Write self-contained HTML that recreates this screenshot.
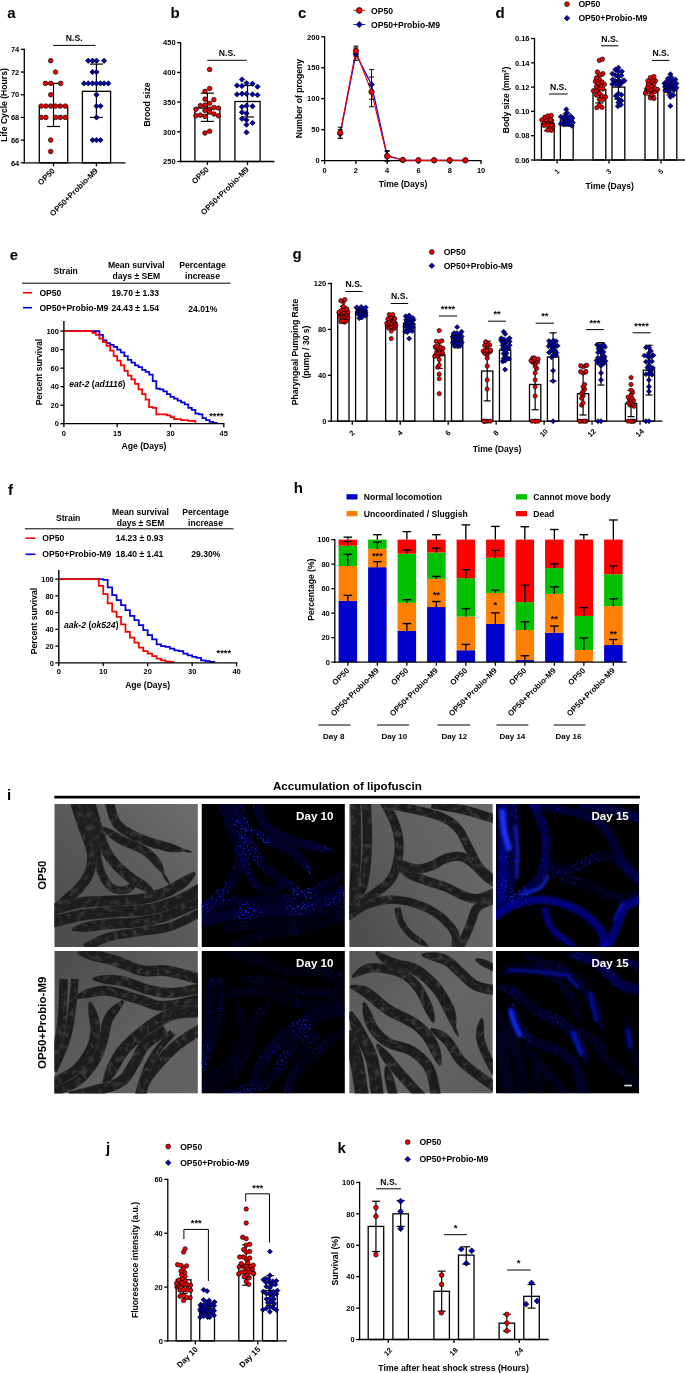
<!DOCTYPE html>
<html><head><meta charset="utf-8"><title>Figure</title>
<style>html,body{margin:0;padding:0;background:#fff}svg{display:block;will-change:transform}</style></head>
<body>
<svg width="685" height="1373" viewBox="0 0 685 1373" font-family="Liberation Sans, Arial, sans-serif" font-weight="bold">
<text x="7.30" y="18.20" font-size="15" text-anchor="start" fill="#000">a</text>
<rect x="39.30" y="106.08" width="28.40" height="56.73" fill="none" stroke="#000" stroke-width="1.3"/>
<rect x="82.40" y="91.33" width="28.20" height="71.47" fill="none" stroke="#000" stroke-width="1.3"/>
<line x1="53.50" y1="126.50" x2="53.50" y2="83.39" stroke="#000" stroke-width="1.2" stroke-linecap="butt"/>
<line x1="47.00" y1="126.50" x2="60.00" y2="126.50" stroke="#000" stroke-width="1.2" stroke-linecap="butt"/>
<line x1="47.00" y1="83.39" x2="60.00" y2="83.39" stroke="#000" stroke-width="1.2" stroke-linecap="butt"/>
<line x1="96.40" y1="117.42" x2="96.40" y2="64.10" stroke="#000" stroke-width="1.2" stroke-linecap="butt"/>
<line x1="89.90" y1="117.42" x2="102.90" y2="117.42" stroke="#000" stroke-width="1.2" stroke-linecap="butt"/>
<line x1="89.90" y1="64.10" x2="102.90" y2="64.10" stroke="#000" stroke-width="1.2" stroke-linecap="butt"/>
<line x1="24.30" y1="48.70" x2="24.30" y2="163.45" stroke="#000" stroke-width="1.3" stroke-linecap="butt"/>
<line x1="20.80" y1="162.80" x2="24.30" y2="162.80" stroke="#000" stroke-width="1.3" stroke-linecap="butt"/>
<text x="19.30" y="165.50" font-size="7.5" text-anchor="end" fill="#000">64</text>
<line x1="20.80" y1="140.11" x2="24.30" y2="140.11" stroke="#000" stroke-width="1.3" stroke-linecap="butt"/>
<text x="19.30" y="142.81" font-size="7.5" text-anchor="end" fill="#000">66</text>
<line x1="20.80" y1="117.42" x2="24.30" y2="117.42" stroke="#000" stroke-width="1.3" stroke-linecap="butt"/>
<text x="19.30" y="120.12" font-size="7.5" text-anchor="end" fill="#000">68</text>
<line x1="20.80" y1="94.73" x2="24.30" y2="94.73" stroke="#000" stroke-width="1.3" stroke-linecap="butt"/>
<text x="19.30" y="97.43" font-size="7.5" text-anchor="end" fill="#000">70</text>
<line x1="20.80" y1="72.04" x2="24.30" y2="72.04" stroke="#000" stroke-width="1.3" stroke-linecap="butt"/>
<text x="19.30" y="74.74" font-size="7.5" text-anchor="end" fill="#000">72</text>
<line x1="20.80" y1="49.35" x2="24.30" y2="49.35" stroke="#000" stroke-width="1.3" stroke-linecap="butt"/>
<text x="19.30" y="52.05" font-size="7.5" text-anchor="end" fill="#000">74</text>
<line x1="23.65" y1="162.80" x2="125.60" y2="162.80" stroke="#000" stroke-width="1.3" stroke-linecap="butt"/>
<line x1="53.50" y1="162.80" x2="53.50" y2="166.30" stroke="#000" stroke-width="1.3" stroke-linecap="butt"/>
<line x1="96.40" y1="162.80" x2="96.40" y2="166.30" stroke="#000" stroke-width="1.3" stroke-linecap="butt"/>
<circle cx="50.70" cy="60.69" r="2.3" fill="#f00000" stroke="#000" stroke-width="0.7"/>
<circle cx="55.60" cy="72.04" r="2.3" fill="#f00000" stroke="#000" stroke-width="0.7"/>
<circle cx="45.50" cy="83.39" r="2.3" fill="#f00000" stroke="#000" stroke-width="0.7"/>
<circle cx="50.70" cy="83.39" r="2.3" fill="#f00000" stroke="#000" stroke-width="0.7"/>
<circle cx="60.70" cy="83.39" r="2.3" fill="#f00000" stroke="#000" stroke-width="0.7"/>
<circle cx="50.70" cy="94.73" r="2.3" fill="#f00000" stroke="#000" stroke-width="0.7"/>
<circle cx="41.20" cy="106.08" r="2.3" fill="#f00000" stroke="#000" stroke-width="0.7"/>
<circle cx="45.90" cy="106.08" r="2.3" fill="#f00000" stroke="#000" stroke-width="0.7"/>
<circle cx="50.70" cy="106.08" r="2.3" fill="#f00000" stroke="#000" stroke-width="0.7"/>
<circle cx="55.60" cy="106.08" r="2.3" fill="#f00000" stroke="#000" stroke-width="0.7"/>
<circle cx="60.30" cy="106.08" r="2.3" fill="#f00000" stroke="#000" stroke-width="0.7"/>
<circle cx="65.30" cy="106.08" r="2.3" fill="#f00000" stroke="#000" stroke-width="0.7"/>
<circle cx="41.20" cy="117.42" r="2.3" fill="#f00000" stroke="#000" stroke-width="0.7"/>
<circle cx="45.90" cy="117.42" r="2.3" fill="#f00000" stroke="#000" stroke-width="0.7"/>
<circle cx="55.60" cy="117.42" r="2.3" fill="#f00000" stroke="#000" stroke-width="0.7"/>
<circle cx="60.30" cy="117.42" r="2.3" fill="#f00000" stroke="#000" stroke-width="0.7"/>
<circle cx="65.30" cy="117.42" r="2.3" fill="#f00000" stroke="#000" stroke-width="0.7"/>
<circle cx="50.70" cy="140.11" r="2.3" fill="#f00000" stroke="#000" stroke-width="0.7"/>
<circle cx="50.70" cy="151.46" r="2.3" fill="#f00000" stroke="#000" stroke-width="0.7"/>
<path d="M88.25 57.99L90.95 60.69L88.25 63.39L85.55 60.69Z" fill="#0000b4" stroke="#000" stroke-width="0.7"/>
<path d="M92.50 57.99L95.20 60.69L92.50 63.39L89.80 60.69Z" fill="#0000b4" stroke="#000" stroke-width="0.7"/>
<path d="M96.50 57.99L99.20 60.69L96.50 63.39L93.80 60.69Z" fill="#0000b4" stroke="#000" stroke-width="0.7"/>
<path d="M104.10 57.99L106.80 60.69L104.10 63.39L101.40 60.69Z" fill="#0000b4" stroke="#000" stroke-width="0.7"/>
<path d="M92.50 69.34L95.20 72.04L92.50 74.74L89.80 72.04Z" fill="#0000b4" stroke="#000" stroke-width="0.7"/>
<path d="M96.50 69.34L99.20 72.04L96.50 74.74L93.80 72.04Z" fill="#0000b4" stroke="#000" stroke-width="0.7"/>
<path d="M84.00 80.69L86.70 83.39L84.00 86.09L81.30 83.39Z" fill="#0000b4" stroke="#000" stroke-width="0.7"/>
<path d="M88.25 80.69L90.95 83.39L88.25 86.09L85.55 83.39Z" fill="#0000b4" stroke="#000" stroke-width="0.7"/>
<path d="M92.50 80.69L95.20 83.39L92.50 86.09L89.80 83.39Z" fill="#0000b4" stroke="#000" stroke-width="0.7"/>
<path d="M96.50 80.69L99.20 83.39L96.50 86.09L93.80 83.39Z" fill="#0000b4" stroke="#000" stroke-width="0.7"/>
<path d="M100.40 80.69L103.10 83.39L100.40 86.09L97.70 83.39Z" fill="#0000b4" stroke="#000" stroke-width="0.7"/>
<path d="M104.10 80.69L106.80 83.39L104.10 86.09L101.40 83.39Z" fill="#0000b4" stroke="#000" stroke-width="0.7"/>
<path d="M108.30 80.69L111.00 83.39L108.30 86.09L105.60 83.39Z" fill="#0000b4" stroke="#000" stroke-width="0.7"/>
<path d="M96.50 92.03L99.20 94.73L96.50 97.43L93.80 94.73Z" fill="#0000b4" stroke="#000" stroke-width="0.7"/>
<path d="M96.50 103.38L99.20 106.08L96.50 108.78L93.80 106.08Z" fill="#0000b4" stroke="#000" stroke-width="0.7"/>
<path d="M100.60 103.38L103.30 106.08L100.60 108.78L97.90 106.08Z" fill="#0000b4" stroke="#000" stroke-width="0.7"/>
<path d="M96.50 114.72L99.20 117.42L96.50 120.12L93.80 117.42Z" fill="#0000b4" stroke="#000" stroke-width="0.7"/>
<path d="M92.60 137.41L95.30 140.11L92.60 142.81L89.90 140.11Z" fill="#0000b4" stroke="#000" stroke-width="0.7"/>
<path d="M96.50 137.41L99.20 140.11L96.50 142.81L93.80 140.11Z" fill="#0000b4" stroke="#000" stroke-width="0.7"/>
<path d="M100.40 137.41L103.10 140.11L100.40 142.81L97.70 140.11Z" fill="#0000b4" stroke="#000" stroke-width="0.7"/>
<line x1="53.10" y1="45.40" x2="95.40" y2="45.40" stroke="#000" stroke-width="1.0" stroke-linecap="butt"/>
<text x="74.20" y="41.40" font-size="8.6" text-anchor="middle" fill="#000">N.S.</text>
<text x="6.50" y="105.00" font-size="8.6" text-anchor="middle" fill="#000" transform="rotate(-90 6.50 105.00)">Life Cycle (Hours)</text>
<text x="55.50" y="171.30" font-size="8" text-anchor="end" fill="#000" transform="rotate(-45 55.50 171.30)">OP50</text>
<text x="98.50" y="171.30" font-size="8" text-anchor="end" fill="#000" transform="rotate(-45 98.50 171.30)">OP50+Probio-M9</text>
<text x="170.60" y="18.30" font-size="15" text-anchor="start" fill="#000">b</text>
<rect x="194.90" y="108.04" width="25.00" height="53.46" fill="none" stroke="#000" stroke-width="1.3"/>
<rect x="234.90" y="101.51" width="25.20" height="59.99" fill="none" stroke="#000" stroke-width="1.3"/>
<line x1="207.40" y1="121.41" x2="207.40" y2="93.19" stroke="#000" stroke-width="1.2" stroke-linecap="butt"/>
<line x1="200.90" y1="121.41" x2="213.90" y2="121.41" stroke="#000" stroke-width="1.2" stroke-linecap="butt"/>
<line x1="200.90" y1="93.19" x2="213.90" y2="93.19" stroke="#000" stroke-width="1.2" stroke-linecap="butt"/>
<line x1="247.50" y1="116.95" x2="247.50" y2="85.47" stroke="#000" stroke-width="1.2" stroke-linecap="butt"/>
<line x1="241.00" y1="116.95" x2="254.00" y2="116.95" stroke="#000" stroke-width="1.2" stroke-linecap="butt"/>
<line x1="241.00" y1="85.47" x2="254.00" y2="85.47" stroke="#000" stroke-width="1.2" stroke-linecap="butt"/>
<line x1="180.60" y1="42.05" x2="180.60" y2="162.15" stroke="#000" stroke-width="1.3" stroke-linecap="butt"/>
<line x1="177.10" y1="161.50" x2="180.60" y2="161.50" stroke="#000" stroke-width="1.3" stroke-linecap="butt"/>
<text x="175.60" y="164.20" font-size="7.5" text-anchor="end" fill="#000">250</text>
<line x1="177.10" y1="131.80" x2="180.60" y2="131.80" stroke="#000" stroke-width="1.3" stroke-linecap="butt"/>
<text x="175.60" y="134.50" font-size="7.5" text-anchor="end" fill="#000">300</text>
<line x1="177.10" y1="102.10" x2="180.60" y2="102.10" stroke="#000" stroke-width="1.3" stroke-linecap="butt"/>
<text x="175.60" y="104.80" font-size="7.5" text-anchor="end" fill="#000">350</text>
<line x1="177.10" y1="72.40" x2="180.60" y2="72.40" stroke="#000" stroke-width="1.3" stroke-linecap="butt"/>
<text x="175.60" y="75.10" font-size="7.5" text-anchor="end" fill="#000">400</text>
<line x1="177.10" y1="42.70" x2="180.60" y2="42.70" stroke="#000" stroke-width="1.3" stroke-linecap="butt"/>
<text x="175.60" y="45.40" font-size="7.5" text-anchor="end" fill="#000">450</text>
<line x1="179.95" y1="161.50" x2="274.40" y2="161.50" stroke="#000" stroke-width="1.3" stroke-linecap="butt"/>
<line x1="207.40" y1="161.50" x2="207.40" y2="165.00" stroke="#000" stroke-width="1.3" stroke-linecap="butt"/>
<line x1="247.50" y1="161.50" x2="247.50" y2="165.00" stroke="#000" stroke-width="1.3" stroke-linecap="butt"/>
<circle cx="209.60" cy="69.43" r="2.3" fill="#f00000" stroke="#000" stroke-width="0.7"/>
<circle cx="209.60" cy="88.44" r="2.3" fill="#f00000" stroke="#000" stroke-width="0.7"/>
<circle cx="205.00" cy="91.41" r="2.3" fill="#f00000" stroke="#000" stroke-width="0.7"/>
<circle cx="205.00" cy="99.13" r="2.3" fill="#f00000" stroke="#000" stroke-width="0.7"/>
<circle cx="213.90" cy="99.72" r="2.3" fill="#f00000" stroke="#000" stroke-width="0.7"/>
<circle cx="209.60" cy="103.29" r="2.3" fill="#f00000" stroke="#000" stroke-width="0.7"/>
<circle cx="200.40" cy="105.66" r="2.3" fill="#f00000" stroke="#000" stroke-width="0.7"/>
<circle cx="205.00" cy="105.07" r="2.3" fill="#f00000" stroke="#000" stroke-width="0.7"/>
<circle cx="195.90" cy="109.23" r="2.3" fill="#f00000" stroke="#000" stroke-width="0.7"/>
<circle cx="213.90" cy="107.45" r="2.3" fill="#f00000" stroke="#000" stroke-width="0.7"/>
<circle cx="218.40" cy="108.04" r="2.3" fill="#f00000" stroke="#000" stroke-width="0.7"/>
<circle cx="205.00" cy="110.42" r="2.3" fill="#f00000" stroke="#000" stroke-width="0.7"/>
<circle cx="209.60" cy="109.23" r="2.3" fill="#f00000" stroke="#000" stroke-width="0.7"/>
<circle cx="195.90" cy="115.76" r="2.3" fill="#f00000" stroke="#000" stroke-width="0.7"/>
<circle cx="200.40" cy="115.17" r="2.3" fill="#f00000" stroke="#000" stroke-width="0.7"/>
<circle cx="205.00" cy="116.36" r="2.3" fill="#f00000" stroke="#000" stroke-width="0.7"/>
<circle cx="209.60" cy="112.20" r="2.3" fill="#f00000" stroke="#000" stroke-width="0.7"/>
<circle cx="213.90" cy="113.98" r="2.3" fill="#f00000" stroke="#000" stroke-width="0.7"/>
<circle cx="218.40" cy="115.76" r="2.3" fill="#f00000" stroke="#000" stroke-width="0.7"/>
<circle cx="205.00" cy="132.99" r="2.3" fill="#f00000" stroke="#000" stroke-width="0.7"/>
<circle cx="209.60" cy="131.21" r="2.3" fill="#f00000" stroke="#000" stroke-width="0.7"/>
<path d="M242.00 76.83L244.70 79.53L242.00 82.23L239.30 79.53Z" fill="#0000b4" stroke="#000" stroke-width="0.7"/>
<path d="M246.50 80.39L249.20 83.09L246.50 85.79L243.80 83.09Z" fill="#0000b4" stroke="#000" stroke-width="0.7"/>
<path d="M252.50 80.99L255.20 83.69L252.50 86.39L249.80 83.69Z" fill="#0000b4" stroke="#000" stroke-width="0.7"/>
<path d="M237.00 82.77L239.70 85.47L237.00 88.17L234.30 85.47Z" fill="#0000b4" stroke="#000" stroke-width="0.7"/>
<path d="M242.00 83.36L244.70 86.06L242.00 88.76L239.30 86.06Z" fill="#0000b4" stroke="#000" stroke-width="0.7"/>
<path d="M257.50 83.96L260.20 86.66L257.50 89.36L254.80 86.66Z" fill="#0000b4" stroke="#000" stroke-width="0.7"/>
<path d="M237.00 91.68L239.70 94.38L237.00 97.08L234.30 94.38Z" fill="#0000b4" stroke="#000" stroke-width="0.7"/>
<path d="M242.00 91.08L244.70 93.78L242.00 96.48L239.30 93.78Z" fill="#0000b4" stroke="#000" stroke-width="0.7"/>
<path d="M246.50 91.08L249.20 93.78L246.50 96.48L243.80 93.78Z" fill="#0000b4" stroke="#000" stroke-width="0.7"/>
<path d="M252.50 91.68L255.20 94.38L252.50 97.08L249.80 94.38Z" fill="#0000b4" stroke="#000" stroke-width="0.7"/>
<path d="M257.50 92.27L260.20 94.97L257.50 97.67L254.80 94.97Z" fill="#0000b4" stroke="#000" stroke-width="0.7"/>
<path d="M246.50 102.96L249.20 105.66L246.50 108.36L243.80 105.66Z" fill="#0000b4" stroke="#000" stroke-width="0.7"/>
<path d="M252.50 103.56L255.20 106.26L252.50 108.96L249.80 106.26Z" fill="#0000b4" stroke="#000" stroke-width="0.7"/>
<path d="M242.00 104.15L244.70 106.85L242.00 109.55L239.30 106.85Z" fill="#0000b4" stroke="#000" stroke-width="0.7"/>
<path d="M242.00 116.03L244.70 118.73L242.00 121.43L239.30 118.73Z" fill="#0000b4" stroke="#000" stroke-width="0.7"/>
<path d="M246.50 117.22L249.20 119.92L246.50 122.62L243.80 119.92Z" fill="#0000b4" stroke="#000" stroke-width="0.7"/>
<path d="M246.50 121.97L249.20 124.67L246.50 127.37L243.80 124.67Z" fill="#0000b4" stroke="#000" stroke-width="0.7"/>
<path d="M252.50 120.19L255.20 122.89L252.50 125.59L249.80 122.89Z" fill="#0000b4" stroke="#000" stroke-width="0.7"/>
<path d="M246.50 129.69L249.20 132.39L246.50 135.09L243.80 132.39Z" fill="#0000b4" stroke="#000" stroke-width="0.7"/>
<path d="M242.00 109.50L244.70 112.20L242.00 114.90L239.30 112.20Z" fill="#0000b4" stroke="#000" stroke-width="0.7"/>
<path d="M246.50 110.69L249.20 113.39L246.50 116.09L243.80 113.39Z" fill="#0000b4" stroke="#000" stroke-width="0.7"/>
<line x1="207.30" y1="60.30" x2="246.70" y2="60.30" stroke="#000" stroke-width="1.0" stroke-linecap="butt"/>
<text x="227.20" y="56.00" font-size="8.6" text-anchor="middle" fill="#000">N.S.</text>
<text x="149.50" y="104.50" font-size="8.6" text-anchor="middle" fill="#000" transform="rotate(-90 149.50 104.50)">Brood size</text>
<text x="209.40" y="170.00" font-size="8" text-anchor="end" fill="#000" transform="rotate(-45 209.40 170.00)">OP50</text>
<text x="249.50" y="170.00" font-size="8" text-anchor="end" fill="#000" transform="rotate(-45 249.50 170.00)">OP50+Probio-M9</text>
<text x="298.00" y="17.80" font-size="15" text-anchor="start" fill="#000">c</text>
<line x1="353.30" y1="10.40" x2="365.30" y2="10.40" stroke="#ff0000" stroke-width="0.9" stroke-linecap="butt"/>
<line x1="353.30" y1="24.50" x2="365.30" y2="24.50" stroke="#0000f0" stroke-width="0.9" stroke-linecap="butt"/>
<circle cx="359.30" cy="10.40" r="2.9" fill="#f00000" stroke="#000" stroke-width="0.7"/>
<path d="M359.30 21.40L362.40 24.50L359.30 27.60L356.20 24.50Z" fill="#0000b4" stroke="#000" stroke-width="0.7"/>
<text x="371.00" y="13.50" font-size="8.6" text-anchor="start" fill="#000">OP50</text>
<text x="371.00" y="27.60" font-size="8.6" text-anchor="start" fill="#000">OP50+Probio-M9</text>
<line x1="324.60" y1="36.15" x2="324.60" y2="161.25" stroke="#000" stroke-width="1.3" stroke-linecap="butt"/>
<line x1="321.10" y1="160.60" x2="324.60" y2="160.60" stroke="#000" stroke-width="1.3" stroke-linecap="butt"/>
<text x="319.60" y="163.30" font-size="7.5" text-anchor="end" fill="#000">0</text>
<line x1="321.10" y1="129.65" x2="324.60" y2="129.65" stroke="#000" stroke-width="1.3" stroke-linecap="butt"/>
<text x="319.60" y="132.35" font-size="7.5" text-anchor="end" fill="#000">50</text>
<line x1="321.10" y1="98.70" x2="324.60" y2="98.70" stroke="#000" stroke-width="1.3" stroke-linecap="butt"/>
<text x="319.60" y="101.40" font-size="7.5" text-anchor="end" fill="#000">100</text>
<line x1="321.10" y1="67.75" x2="324.60" y2="67.75" stroke="#000" stroke-width="1.3" stroke-linecap="butt"/>
<text x="319.60" y="70.45" font-size="7.5" text-anchor="end" fill="#000">150</text>
<line x1="321.10" y1="36.80" x2="324.60" y2="36.80" stroke="#000" stroke-width="1.3" stroke-linecap="butt"/>
<text x="319.60" y="39.50" font-size="7.5" text-anchor="end" fill="#000">200</text>
<line x1="323.95" y1="160.60" x2="481.50" y2="160.60" stroke="#000" stroke-width="1.3" stroke-linecap="butt"/>
<line x1="324.60" y1="160.60" x2="324.60" y2="164.10" stroke="#000" stroke-width="1.3" stroke-linecap="butt"/>
<text x="324.60" y="172.90" font-size="7.4" text-anchor="middle" fill="#000">0</text>
<line x1="355.88" y1="160.60" x2="355.88" y2="164.10" stroke="#000" stroke-width="1.3" stroke-linecap="butt"/>
<text x="355.88" y="172.90" font-size="7.4" text-anchor="middle" fill="#000">2</text>
<line x1="387.16" y1="160.60" x2="387.16" y2="164.10" stroke="#000" stroke-width="1.3" stroke-linecap="butt"/>
<text x="387.16" y="172.90" font-size="7.4" text-anchor="middle" fill="#000">4</text>
<line x1="418.44" y1="160.60" x2="418.44" y2="164.10" stroke="#000" stroke-width="1.3" stroke-linecap="butt"/>
<text x="418.44" y="172.90" font-size="7.4" text-anchor="middle" fill="#000">6</text>
<line x1="449.72" y1="160.60" x2="449.72" y2="164.10" stroke="#000" stroke-width="1.3" stroke-linecap="butt"/>
<text x="449.72" y="172.90" font-size="7.4" text-anchor="middle" fill="#000">8</text>
<line x1="481.00" y1="160.60" x2="481.00" y2="164.10" stroke="#000" stroke-width="1.3" stroke-linecap="butt"/>
<text x="481.00" y="172.90" font-size="7.4" text-anchor="middle" fill="#000">10</text>
<polyline points="340.24,133.98 355.88,54.13 371.52,84.46 387.16,155.65 402.80,159.98 418.44,160.29 434.08,160.29 449.72,160.29 465.36,160.29" fill="none" stroke="#0000e0" stroke-width="1.2"/>
<polyline points="340.24,132.75 355.88,51.04 371.52,91.89 387.16,156.27 402.80,159.98 418.44,160.29 434.08,160.29 449.72,160.29 465.36,160.29" fill="none" stroke="#f00000" stroke-width="1.2"/>
<line x1="340.24" y1="138.32" x2="340.24" y2="129.65" stroke="#000" stroke-width="1.0" stroke-linecap="butt"/>
<line x1="337.74" y1="138.32" x2="342.74" y2="138.32" stroke="#000" stroke-width="1.0" stroke-linecap="butt"/>
<line x1="337.74" y1="129.65" x2="342.74" y2="129.65" stroke="#000" stroke-width="1.0" stroke-linecap="butt"/>
<line x1="355.88" y1="60.32" x2="355.88" y2="47.94" stroke="#000" stroke-width="1.0" stroke-linecap="butt"/>
<line x1="353.38" y1="60.32" x2="358.38" y2="60.32" stroke="#000" stroke-width="1.0" stroke-linecap="butt"/>
<line x1="353.38" y1="47.94" x2="358.38" y2="47.94" stroke="#000" stroke-width="1.0" stroke-linecap="butt"/>
<line x1="371.52" y1="99.32" x2="371.52" y2="69.61" stroke="#000" stroke-width="1.0" stroke-linecap="butt"/>
<line x1="369.02" y1="99.32" x2="374.02" y2="99.32" stroke="#000" stroke-width="1.0" stroke-linecap="butt"/>
<line x1="369.02" y1="69.61" x2="374.02" y2="69.61" stroke="#000" stroke-width="1.0" stroke-linecap="butt"/>
<line x1="387.16" y1="160.60" x2="387.16" y2="150.70" stroke="#000" stroke-width="1.0" stroke-linecap="butt"/>
<line x1="384.66" y1="160.60" x2="389.66" y2="160.60" stroke="#000" stroke-width="1.0" stroke-linecap="butt"/>
<line x1="384.66" y1="150.70" x2="389.66" y2="150.70" stroke="#000" stroke-width="1.0" stroke-linecap="butt"/>
<line x1="340.24" y1="138.32" x2="340.24" y2="127.17" stroke="#000" stroke-width="1.0" stroke-linecap="butt"/>
<line x1="337.74" y1="138.32" x2="342.74" y2="138.32" stroke="#000" stroke-width="1.0" stroke-linecap="butt"/>
<line x1="337.74" y1="127.17" x2="342.74" y2="127.17" stroke="#000" stroke-width="1.0" stroke-linecap="butt"/>
<line x1="355.88" y1="55.99" x2="355.88" y2="46.08" stroke="#000" stroke-width="1.0" stroke-linecap="butt"/>
<line x1="353.38" y1="55.99" x2="358.38" y2="55.99" stroke="#000" stroke-width="1.0" stroke-linecap="butt"/>
<line x1="353.38" y1="46.08" x2="358.38" y2="46.08" stroke="#000" stroke-width="1.0" stroke-linecap="butt"/>
<line x1="371.52" y1="106.75" x2="371.52" y2="77.03" stroke="#000" stroke-width="1.0" stroke-linecap="butt"/>
<line x1="369.02" y1="106.75" x2="374.02" y2="106.75" stroke="#000" stroke-width="1.0" stroke-linecap="butt"/>
<line x1="369.02" y1="77.03" x2="374.02" y2="77.03" stroke="#000" stroke-width="1.0" stroke-linecap="butt"/>
<line x1="387.16" y1="161.22" x2="387.16" y2="151.31" stroke="#000" stroke-width="1.0" stroke-linecap="butt"/>
<line x1="384.66" y1="161.22" x2="389.66" y2="161.22" stroke="#000" stroke-width="1.0" stroke-linecap="butt"/>
<line x1="384.66" y1="151.31" x2="389.66" y2="151.31" stroke="#000" stroke-width="1.0" stroke-linecap="butt"/>
<path d="M340.24 131.08L343.14 133.98L340.24 136.88L337.34 133.98Z" fill="#0000b4" stroke="#000" stroke-width="0.7"/>
<path d="M355.88 51.23L358.78 54.13L355.88 57.03L352.98 54.13Z" fill="#0000b4" stroke="#000" stroke-width="0.7"/>
<path d="M371.52 81.56L374.42 84.46L371.52 87.36L368.62 84.46Z" fill="#0000b4" stroke="#000" stroke-width="0.7"/>
<path d="M387.16 152.75L390.06 155.65L387.16 158.55L384.26 155.65Z" fill="#0000b4" stroke="#000" stroke-width="0.7"/>
<path d="M402.80 157.08L405.70 159.98L402.80 162.88L399.90 159.98Z" fill="#0000b4" stroke="#000" stroke-width="0.7"/>
<path d="M418.44 157.39L421.34 160.29L418.44 163.19L415.54 160.29Z" fill="#0000b4" stroke="#000" stroke-width="0.7"/>
<path d="M434.08 157.39L436.98 160.29L434.08 163.19L431.18 160.29Z" fill="#0000b4" stroke="#000" stroke-width="0.7"/>
<path d="M449.72 157.39L452.62 160.29L449.72 163.19L446.82 160.29Z" fill="#0000b4" stroke="#000" stroke-width="0.7"/>
<path d="M465.36 157.39L468.26 160.29L465.36 163.19L462.46 160.29Z" fill="#0000b4" stroke="#000" stroke-width="0.7"/>
<circle cx="340.24" cy="132.75" r="2.7" fill="#f00000" stroke="#000" stroke-width="0.7"/>
<circle cx="355.88" cy="51.04" r="2.7" fill="#f00000" stroke="#000" stroke-width="0.7"/>
<circle cx="371.52" cy="91.89" r="2.7" fill="#f00000" stroke="#000" stroke-width="0.7"/>
<circle cx="387.16" cy="156.27" r="2.7" fill="#f00000" stroke="#000" stroke-width="0.7"/>
<circle cx="402.80" cy="159.98" r="2.7" fill="#f00000" stroke="#000" stroke-width="0.7"/>
<circle cx="418.44" cy="160.29" r="2.7" fill="#f00000" stroke="#000" stroke-width="0.7"/>
<circle cx="434.08" cy="160.29" r="2.7" fill="#f00000" stroke="#000" stroke-width="0.7"/>
<circle cx="449.72" cy="160.29" r="2.7" fill="#f00000" stroke="#000" stroke-width="0.7"/>
<circle cx="465.36" cy="160.29" r="2.7" fill="#f00000" stroke="#000" stroke-width="0.7"/>
<text x="302.00" y="98.50" font-size="8.6" text-anchor="middle" fill="#000" transform="rotate(-90 302.00 98.50)">Number of progeny</text>
<text x="403.00" y="186.50" font-size="8.6" text-anchor="middle" fill="#000">Time (Days)</text>
<text x="495.50" y="18.20" font-size="15" text-anchor="start" fill="#000">d</text>
<circle cx="567.00" cy="4.20" r="2.4" fill="#f00000" stroke="#000" stroke-width="0.7"/>
<path d="M567.00 15.40L569.80 18.20L567.00 21.00L564.20 18.20Z" fill="#0000b4" stroke="#000" stroke-width="0.7"/>
<text x="578.40" y="7.30" font-size="8.6" text-anchor="start" fill="#000">OP50</text>
<text x="578.40" y="21.30" font-size="8.6" text-anchor="start" fill="#000">OP50+Probio-M9</text>
<rect x="541.40" y="123.55" width="12.80" height="36.45" fill="none" stroke="#000" stroke-width="1.3"/>
<line x1="547.80" y1="130.84" x2="547.80" y2="116.26" stroke="#000" stroke-width="1.2" stroke-linecap="butt"/>
<line x1="543.80" y1="130.84" x2="551.80" y2="130.84" stroke="#000" stroke-width="1.2" stroke-linecap="butt"/>
<line x1="543.80" y1="116.26" x2="551.80" y2="116.26" stroke="#000" stroke-width="1.2" stroke-linecap="butt"/>
<rect x="560.40" y="119.91" width="12.80" height="40.09" fill="none" stroke="#000" stroke-width="1.3"/>
<line x1="566.80" y1="125.98" x2="566.80" y2="113.83" stroke="#000" stroke-width="1.2" stroke-linecap="butt"/>
<line x1="562.80" y1="125.98" x2="570.80" y2="125.98" stroke="#000" stroke-width="1.2" stroke-linecap="butt"/>
<line x1="562.80" y1="113.83" x2="570.80" y2="113.83" stroke="#000" stroke-width="1.2" stroke-linecap="butt"/>
<rect x="593.00" y="89.53" width="12.80" height="70.47" fill="none" stroke="#000" stroke-width="1.3"/>
<line x1="599.40" y1="102.90" x2="599.40" y2="76.16" stroke="#000" stroke-width="1.2" stroke-linecap="butt"/>
<line x1="595.40" y1="102.90" x2="603.40" y2="102.90" stroke="#000" stroke-width="1.2" stroke-linecap="butt"/>
<line x1="595.40" y1="76.16" x2="603.40" y2="76.16" stroke="#000" stroke-width="1.2" stroke-linecap="butt"/>
<rect x="612.00" y="87.10" width="12.80" height="72.90" fill="none" stroke="#000" stroke-width="1.3"/>
<line x1="618.40" y1="99.25" x2="618.40" y2="74.95" stroke="#000" stroke-width="1.2" stroke-linecap="butt"/>
<line x1="614.40" y1="99.25" x2="622.40" y2="99.25" stroke="#000" stroke-width="1.2" stroke-linecap="butt"/>
<line x1="614.40" y1="74.95" x2="622.40" y2="74.95" stroke="#000" stroke-width="1.2" stroke-linecap="butt"/>
<rect x="645.00" y="88.32" width="12.80" height="71.68" fill="none" stroke="#000" stroke-width="1.3"/>
<line x1="651.40" y1="95.61" x2="651.40" y2="81.03" stroke="#000" stroke-width="1.2" stroke-linecap="butt"/>
<line x1="647.40" y1="95.61" x2="655.40" y2="95.61" stroke="#000" stroke-width="1.2" stroke-linecap="butt"/>
<line x1="647.40" y1="81.03" x2="655.40" y2="81.03" stroke="#000" stroke-width="1.2" stroke-linecap="butt"/>
<rect x="664.00" y="87.71" width="12.80" height="72.29" fill="none" stroke="#000" stroke-width="1.3"/>
<line x1="670.40" y1="95.00" x2="670.40" y2="80.42" stroke="#000" stroke-width="1.2" stroke-linecap="butt"/>
<line x1="666.40" y1="95.00" x2="674.40" y2="95.00" stroke="#000" stroke-width="1.2" stroke-linecap="butt"/>
<line x1="666.40" y1="80.42" x2="674.40" y2="80.42" stroke="#000" stroke-width="1.2" stroke-linecap="butt"/>
<line x1="534.50" y1="37.85" x2="534.50" y2="160.65" stroke="#000" stroke-width="1.3" stroke-linecap="butt"/>
<line x1="531.00" y1="160.00" x2="534.50" y2="160.00" stroke="#000" stroke-width="1.3" stroke-linecap="butt"/>
<text x="529.50" y="162.70" font-size="7.5" text-anchor="end" fill="#000">0.06</text>
<line x1="531.00" y1="135.70" x2="534.50" y2="135.70" stroke="#000" stroke-width="1.3" stroke-linecap="butt"/>
<text x="529.50" y="138.40" font-size="7.5" text-anchor="end" fill="#000">0.08</text>
<line x1="531.00" y1="111.40" x2="534.50" y2="111.40" stroke="#000" stroke-width="1.3" stroke-linecap="butt"/>
<text x="529.50" y="114.10" font-size="7.5" text-anchor="end" fill="#000">0.10</text>
<line x1="531.00" y1="87.10" x2="534.50" y2="87.10" stroke="#000" stroke-width="1.3" stroke-linecap="butt"/>
<text x="529.50" y="89.80" font-size="7.5" text-anchor="end" fill="#000">0.12</text>
<line x1="531.00" y1="62.80" x2="534.50" y2="62.80" stroke="#000" stroke-width="1.3" stroke-linecap="butt"/>
<text x="529.50" y="65.50" font-size="7.5" text-anchor="end" fill="#000">0.14</text>
<line x1="531.00" y1="38.50" x2="534.50" y2="38.50" stroke="#000" stroke-width="1.3" stroke-linecap="butt"/>
<text x="529.50" y="41.20" font-size="7.5" text-anchor="end" fill="#000">0.16</text>
<line x1="533.85" y1="160.00" x2="685.00" y2="160.00" stroke="#000" stroke-width="1.3" stroke-linecap="butt"/>
<line x1="557.20" y1="160.00" x2="557.20" y2="163.50" stroke="#000" stroke-width="1.3" stroke-linecap="butt"/>
<line x1="609.00" y1="160.00" x2="609.00" y2="163.50" stroke="#000" stroke-width="1.3" stroke-linecap="butt"/>
<line x1="661.00" y1="160.00" x2="661.00" y2="163.50" stroke="#000" stroke-width="1.3" stroke-linecap="butt"/>
<circle cx="551.30" cy="130.33" r="2.2" fill="#f00000" stroke="#000" stroke-width="0.7"/>
<circle cx="547.80" cy="130.04" r="2.2" fill="#f00000" stroke="#000" stroke-width="0.7"/>
<circle cx="552.75" cy="126.96" r="2.2" fill="#f00000" stroke="#000" stroke-width="0.7"/>
<circle cx="548.80" cy="125.85" r="2.2" fill="#f00000" stroke="#000" stroke-width="0.7"/>
<circle cx="544.30" cy="125.42" r="2.2" fill="#f00000" stroke="#000" stroke-width="0.7"/>
<circle cx="551.30" cy="125.20" r="2.2" fill="#f00000" stroke="#000" stroke-width="0.7"/>
<circle cx="547.80" cy="125.10" r="2.2" fill="#f00000" stroke="#000" stroke-width="0.7"/>
<circle cx="544.30" cy="122.20" r="2.2" fill="#f00000" stroke="#000" stroke-width="0.7"/>
<circle cx="547.80" cy="121.74" r="2.2" fill="#f00000" stroke="#000" stroke-width="0.7"/>
<circle cx="551.30" cy="121.32" r="2.2" fill="#f00000" stroke="#000" stroke-width="0.7"/>
<circle cx="551.62" cy="120.67" r="2.2" fill="#f00000" stroke="#000" stroke-width="0.7"/>
<circle cx="546.18" cy="120.46" r="2.2" fill="#f00000" stroke="#000" stroke-width="0.7"/>
<circle cx="541.80" cy="119.91" r="2.2" fill="#f00000" stroke="#000" stroke-width="0.7"/>
<circle cx="547.01" cy="119.86" r="2.2" fill="#f00000" stroke="#000" stroke-width="0.7"/>
<circle cx="550.50" cy="119.82" r="2.2" fill="#f00000" stroke="#000" stroke-width="0.7"/>
<circle cx="544.80" cy="117.32" r="2.2" fill="#f00000" stroke="#000" stroke-width="0.7"/>
<circle cx="547.80" cy="115.99" r="2.2" fill="#f00000" stroke="#000" stroke-width="0.7"/>
<circle cx="551.30" cy="115.44" r="2.2" fill="#f00000" stroke="#000" stroke-width="0.7"/>
<path d="M571.80 123.12L574.40 125.72L571.80 128.32L569.20 125.72Z" fill="#0000b4" stroke="#000" stroke-width="0.7"/>
<path d="M563.59 121.80L566.19 124.40L563.59 127.00L560.99 124.40Z" fill="#0000b4" stroke="#000" stroke-width="0.7"/>
<path d="M568.85 121.32L571.45 123.92L568.85 126.52L566.25 123.92Z" fill="#0000b4" stroke="#000" stroke-width="0.7"/>
<path d="M560.80 121.21L563.40 123.81L560.80 126.41L558.20 123.81Z" fill="#0000b4" stroke="#000" stroke-width="0.7"/>
<path d="M566.80 121.07L569.40 123.67L566.80 126.27L564.20 123.67Z" fill="#0000b4" stroke="#000" stroke-width="0.7"/>
<path d="M572.80 120.02L575.40 122.62L572.80 125.22L570.20 122.62Z" fill="#0000b4" stroke="#000" stroke-width="0.7"/>
<path d="M563.80 119.40L566.40 122.00L563.80 124.60L561.20 122.00Z" fill="#0000b4" stroke="#000" stroke-width="0.7"/>
<path d="M570.30 117.95L572.90 120.55L570.30 123.15L567.70 120.55Z" fill="#0000b4" stroke="#000" stroke-width="0.7"/>
<path d="M566.80 117.58L569.40 120.18L566.80 122.78L564.20 120.18Z" fill="#0000b4" stroke="#000" stroke-width="0.7"/>
<path d="M563.80 115.80L566.40 118.40L563.80 121.00L561.20 118.40Z" fill="#0000b4" stroke="#000" stroke-width="0.7"/>
<path d="M572.30 115.43L574.90 118.03L572.30 120.63L569.70 118.03Z" fill="#0000b4" stroke="#000" stroke-width="0.7"/>
<path d="M568.80 114.91L571.40 117.51L568.80 120.11L566.20 117.51Z" fill="#0000b4" stroke="#000" stroke-width="0.7"/>
<path d="M560.80 114.14L563.40 116.74L560.80 119.34L558.20 116.74Z" fill="#0000b4" stroke="#000" stroke-width="0.7"/>
<path d="M570.79 113.92L573.39 116.52L570.79 119.12L568.19 116.52Z" fill="#0000b4" stroke="#000" stroke-width="0.7"/>
<path d="M565.08 113.47L567.68 116.07L565.08 118.67L562.48 116.07Z" fill="#0000b4" stroke="#000" stroke-width="0.7"/>
<path d="M566.80 110.03L569.40 112.63L566.80 115.23L564.20 112.63Z" fill="#0000b4" stroke="#000" stroke-width="0.7"/>
<path d="M566.30 106.87L568.90 109.47L566.30 112.07L563.70 109.47Z" fill="#0000b4" stroke="#000" stroke-width="0.7"/>
<circle cx="596.90" cy="107.63" r="2.2" fill="#f00000" stroke="#000" stroke-width="0.7"/>
<circle cx="601.90" cy="107.33" r="2.2" fill="#f00000" stroke="#000" stroke-width="0.7"/>
<circle cx="599.40" cy="105.31" r="2.2" fill="#f00000" stroke="#000" stroke-width="0.7"/>
<circle cx="602.90" cy="99.46" r="2.2" fill="#f00000" stroke="#000" stroke-width="0.7"/>
<circle cx="599.40" cy="99.35" r="2.2" fill="#f00000" stroke="#000" stroke-width="0.7"/>
<circle cx="605.40" cy="96.96" r="2.2" fill="#f00000" stroke="#000" stroke-width="0.7"/>
<circle cx="601.90" cy="95.86" r="2.2" fill="#f00000" stroke="#000" stroke-width="0.7"/>
<circle cx="596.40" cy="95.03" r="2.2" fill="#f00000" stroke="#000" stroke-width="0.7"/>
<circle cx="599.40" cy="93.44" r="2.2" fill="#f00000" stroke="#000" stroke-width="0.7"/>
<circle cx="593.40" cy="90.82" r="2.2" fill="#f00000" stroke="#000" stroke-width="0.7"/>
<circle cx="596.90" cy="90.29" r="2.2" fill="#f00000" stroke="#000" stroke-width="0.7"/>
<circle cx="602.90" cy="88.94" r="2.2" fill="#f00000" stroke="#000" stroke-width="0.7"/>
<circle cx="599.40" cy="88.08" r="2.2" fill="#f00000" stroke="#000" stroke-width="0.7"/>
<circle cx="596.40" cy="86.56" r="2.2" fill="#f00000" stroke="#000" stroke-width="0.7"/>
<circle cx="600.90" cy="85.13" r="2.2" fill="#f00000" stroke="#000" stroke-width="0.7"/>
<circle cx="604.40" cy="84.35" r="2.2" fill="#f00000" stroke="#000" stroke-width="0.7"/>
<circle cx="597.90" cy="83.49" r="2.2" fill="#f00000" stroke="#000" stroke-width="0.7"/>
<circle cx="601.90" cy="82.05" r="2.2" fill="#f00000" stroke="#000" stroke-width="0.7"/>
<circle cx="595.40" cy="81.40" r="2.2" fill="#f00000" stroke="#000" stroke-width="0.7"/>
<circle cx="599.40" cy="79.47" r="2.2" fill="#f00000" stroke="#000" stroke-width="0.7"/>
<circle cx="596.40" cy="78.04" r="2.2" fill="#f00000" stroke="#000" stroke-width="0.7"/>
<circle cx="599.40" cy="74.70" r="2.2" fill="#f00000" stroke="#000" stroke-width="0.7"/>
<circle cx="602.90" cy="73.66" r="2.2" fill="#f00000" stroke="#000" stroke-width="0.7"/>
<circle cx="597.40" cy="72.03" r="2.2" fill="#f00000" stroke="#000" stroke-width="0.7"/>
<circle cx="599.40" cy="60.37" r="2.2" fill="#f00000" stroke="#000" stroke-width="0.7"/>
<circle cx="602.40" cy="59.16" r="2.2" fill="#f00000" stroke="#000" stroke-width="0.7"/>
<path d="M617.90 103.55L620.50 106.15L617.90 108.75L615.30 106.15Z" fill="#0000b4" stroke="#000" stroke-width="0.7"/>
<path d="M620.90 102.21L623.50 104.81L620.90 107.41L618.30 104.81Z" fill="#0000b4" stroke="#000" stroke-width="0.7"/>
<path d="M618.40 99.87L621.00 102.47L618.40 105.07L615.80 102.47Z" fill="#0000b4" stroke="#000" stroke-width="0.7"/>
<path d="M621.40 98.11L624.00 100.71L621.40 103.31L618.80 100.71Z" fill="#0000b4" stroke="#000" stroke-width="0.7"/>
<path d="M618.40 96.26L621.00 98.86L618.40 101.46L615.80 98.86Z" fill="#0000b4" stroke="#000" stroke-width="0.7"/>
<path d="M615.90 93.45L618.50 96.05L615.90 98.65L613.30 96.05Z" fill="#0000b4" stroke="#000" stroke-width="0.7"/>
<path d="M621.40 92.20L624.00 94.80L621.40 97.40L618.80 94.80Z" fill="#0000b4" stroke="#000" stroke-width="0.7"/>
<path d="M618.40 90.95L621.00 93.55L618.40 96.15L615.80 93.55Z" fill="#0000b4" stroke="#000" stroke-width="0.7"/>
<path d="M619.40 82.59L622.00 85.19L619.40 87.79L616.80 85.19Z" fill="#0000b4" stroke="#000" stroke-width="0.7"/>
<path d="M612.40 81.59L615.00 84.19L612.40 86.79L609.80 84.19Z" fill="#0000b4" stroke="#000" stroke-width="0.7"/>
<path d="M615.90 81.51L618.50 84.11L615.90 86.71L613.30 84.11Z" fill="#0000b4" stroke="#000" stroke-width="0.7"/>
<path d="M621.90 80.16L624.50 82.76L621.90 85.36L619.30 82.76Z" fill="#0000b4" stroke="#000" stroke-width="0.7"/>
<path d="M618.40 79.22L621.00 81.82L618.40 84.42L615.80 81.82Z" fill="#0000b4" stroke="#000" stroke-width="0.7"/>
<path d="M614.90 78.20L617.50 80.80L614.90 83.40L612.30 80.80Z" fill="#0000b4" stroke="#000" stroke-width="0.7"/>
<path d="M624.40 78.07L627.00 80.67L624.40 83.27L621.80 80.67Z" fill="#0000b4" stroke="#000" stroke-width="0.7"/>
<path d="M623.52 77.84L626.12 80.44L623.52 83.04L620.92 80.44Z" fill="#0000b4" stroke="#000" stroke-width="0.7"/>
<path d="M618.69 77.47L621.29 80.07L618.69 82.67L616.09 80.07Z" fill="#0000b4" stroke="#000" stroke-width="0.7"/>
<path d="M612.66 76.98L615.26 79.58L612.66 82.18L610.06 79.58Z" fill="#0000b4" stroke="#000" stroke-width="0.7"/>
<path d="M618.40 74.27L621.00 76.87L618.40 79.47L615.80 76.87Z" fill="#0000b4" stroke="#000" stroke-width="0.7"/>
<path d="M621.40 72.90L624.00 75.50L621.40 78.10L618.80 75.50Z" fill="#0000b4" stroke="#000" stroke-width="0.7"/>
<path d="M615.40 72.62L618.00 75.22L615.40 77.82L612.80 75.22Z" fill="#0000b4" stroke="#000" stroke-width="0.7"/>
<path d="M612.40 71.11L615.00 73.71L612.40 76.31L609.80 73.71Z" fill="#0000b4" stroke="#000" stroke-width="0.7"/>
<path d="M618.40 68.93L621.00 71.53L618.40 74.13L615.80 71.53Z" fill="#0000b4" stroke="#000" stroke-width="0.7"/>
<path d="M621.90 68.84L624.50 71.44L621.90 74.04L619.30 71.44Z" fill="#0000b4" stroke="#000" stroke-width="0.7"/>
<path d="M615.40 66.96L618.00 69.56L615.40 72.16L612.80 69.56Z" fill="#0000b4" stroke="#000" stroke-width="0.7"/>
<path d="M618.40 65.13L621.00 67.73L618.40 70.33L615.80 67.73Z" fill="#0000b4" stroke="#000" stroke-width="0.7"/>
<circle cx="653.90" cy="98.38" r="2.2" fill="#f00000" stroke="#000" stroke-width="0.7"/>
<circle cx="650.40" cy="97.87" r="2.2" fill="#f00000" stroke="#000" stroke-width="0.7"/>
<circle cx="651.40" cy="94.73" r="2.2" fill="#f00000" stroke="#000" stroke-width="0.7"/>
<circle cx="645.40" cy="93.14" r="2.2" fill="#f00000" stroke="#000" stroke-width="0.7"/>
<circle cx="654.90" cy="91.56" r="2.2" fill="#f00000" stroke="#000" stroke-width="0.7"/>
<circle cx="648.52" cy="91.34" r="2.2" fill="#f00000" stroke="#000" stroke-width="0.7"/>
<circle cx="651.49" cy="90.49" r="2.2" fill="#f00000" stroke="#000" stroke-width="0.7"/>
<circle cx="650.40" cy="89.66" r="2.2" fill="#f00000" stroke="#000" stroke-width="0.7"/>
<circle cx="657.40" cy="89.41" r="2.2" fill="#f00000" stroke="#000" stroke-width="0.7"/>
<circle cx="647.90" cy="89.40" r="2.2" fill="#f00000" stroke="#000" stroke-width="0.7"/>
<circle cx="651.40" cy="89.30" r="2.2" fill="#f00000" stroke="#000" stroke-width="0.7"/>
<circle cx="654.40" cy="88.12" r="2.2" fill="#f00000" stroke="#000" stroke-width="0.7"/>
<circle cx="647.60" cy="87.44" r="2.2" fill="#f00000" stroke="#000" stroke-width="0.7"/>
<circle cx="651.40" cy="85.95" r="2.2" fill="#f00000" stroke="#000" stroke-width="0.7"/>
<circle cx="648.40" cy="84.29" r="2.2" fill="#f00000" stroke="#000" stroke-width="0.7"/>
<circle cx="653.90" cy="83.58" r="2.2" fill="#f00000" stroke="#000" stroke-width="0.7"/>
<circle cx="651.40" cy="81.42" r="2.2" fill="#f00000" stroke="#000" stroke-width="0.7"/>
<circle cx="647.90" cy="80.88" r="2.2" fill="#f00000" stroke="#000" stroke-width="0.7"/>
<circle cx="655.40" cy="80.72" r="2.2" fill="#f00000" stroke="#000" stroke-width="0.7"/>
<circle cx="653.09" cy="79.96" r="2.2" fill="#f00000" stroke="#000" stroke-width="0.7"/>
<circle cx="650.40" cy="77.63" r="2.2" fill="#f00000" stroke="#000" stroke-width="0.7"/>
<circle cx="653.90" cy="76.58" r="2.2" fill="#f00000" stroke="#000" stroke-width="0.7"/>
<path d="M670.40 103.33L673.00 105.93L670.40 108.53L667.80 105.93Z" fill="#0000b4" stroke="#000" stroke-width="0.7"/>
<path d="M670.40 94.35L673.00 96.95L670.40 99.55L667.80 96.95Z" fill="#0000b4" stroke="#000" stroke-width="0.7"/>
<path d="M673.40 92.59L676.00 95.19L673.40 97.79L670.80 95.19Z" fill="#0000b4" stroke="#000" stroke-width="0.7"/>
<path d="M670.40 90.85L673.00 93.45L670.40 96.05L667.80 93.45Z" fill="#0000b4" stroke="#000" stroke-width="0.7"/>
<path d="M667.52 88.22L670.12 90.82L667.52 93.42L664.92 90.82Z" fill="#0000b4" stroke="#000" stroke-width="0.7"/>
<path d="M665.40 87.82L668.00 90.42L665.40 93.02L662.80 90.42Z" fill="#0000b4" stroke="#000" stroke-width="0.7"/>
<path d="M673.90 87.56L676.50 90.16L673.90 92.76L671.30 90.16Z" fill="#0000b4" stroke="#000" stroke-width="0.7"/>
<path d="M668.69 86.39L671.29 88.99L668.69 91.59L666.09 88.99Z" fill="#0000b4" stroke="#000" stroke-width="0.7"/>
<path d="M671.33 85.20L673.93 87.80L671.33 90.40L668.73 87.80Z" fill="#0000b4" stroke="#000" stroke-width="0.7"/>
<path d="M676.40 85.10L679.00 87.70L676.40 90.30L673.80 87.70Z" fill="#0000b4" stroke="#000" stroke-width="0.7"/>
<path d="M665.05 84.07L667.65 86.67L665.05 89.27L662.45 86.67Z" fill="#0000b4" stroke="#000" stroke-width="0.7"/>
<path d="M668.07 84.00L670.67 86.60L668.07 89.20L665.47 86.60Z" fill="#0000b4" stroke="#000" stroke-width="0.7"/>
<path d="M673.90 83.08L676.50 85.68L673.90 88.28L671.30 85.68Z" fill="#0000b4" stroke="#000" stroke-width="0.7"/>
<path d="M670.40 82.74L673.00 85.34L670.40 87.94L667.80 85.34Z" fill="#0000b4" stroke="#000" stroke-width="0.7"/>
<path d="M666.90 82.59L669.50 85.19L666.90 87.79L664.30 85.19Z" fill="#0000b4" stroke="#000" stroke-width="0.7"/>
<path d="M666.55 82.29L669.15 84.89L666.55 87.49L663.95 84.89Z" fill="#0000b4" stroke="#000" stroke-width="0.7"/>
<path d="M676.40 80.98L679.00 83.58L676.40 86.18L673.80 83.58Z" fill="#0000b4" stroke="#000" stroke-width="0.7"/>
<path d="M670.77 80.93L673.37 83.53L670.77 86.13L668.17 83.53Z" fill="#0000b4" stroke="#000" stroke-width="0.7"/>
<path d="M664.42 80.91L667.02 83.51L664.42 86.11L661.82 83.51Z" fill="#0000b4" stroke="#000" stroke-width="0.7"/>
<path d="M673.79 80.50L676.39 83.10L673.79 85.70L671.19 83.10Z" fill="#0000b4" stroke="#000" stroke-width="0.7"/>
<path d="M666.11 79.54L668.71 82.14L666.11 84.74L663.51 82.14Z" fill="#0000b4" stroke="#000" stroke-width="0.7"/>
<path d="M672.74 78.85L675.34 81.45L672.74 84.05L670.14 81.45Z" fill="#0000b4" stroke="#000" stroke-width="0.7"/>
<path d="M670.03 78.37L672.63 80.97L670.03 83.57L667.43 80.97Z" fill="#0000b4" stroke="#000" stroke-width="0.7"/>
<path d="M675.40 76.88L678.00 79.48L675.40 82.08L672.80 79.48Z" fill="#0000b4" stroke="#000" stroke-width="0.7"/>
<path d="M667.90 75.92L670.50 78.52L667.90 81.12L665.30 78.52Z" fill="#0000b4" stroke="#000" stroke-width="0.7"/>
<path d="M671.40 74.87L674.00 77.47L671.40 80.07L668.80 77.47Z" fill="#0000b4" stroke="#000" stroke-width="0.7"/>
<path d="M670.40 71.71L673.00 74.31L670.40 76.91L667.80 74.31Z" fill="#0000b4" stroke="#000" stroke-width="0.7"/>
<line x1="549.00" y1="94.00" x2="567.60" y2="94.00" stroke="#000" stroke-width="1.0" stroke-linecap="butt"/>
<text x="558.30" y="90.00" font-size="8.6" text-anchor="middle" fill="#000">N.S.</text>
<line x1="601.00" y1="45.80" x2="618.40" y2="45.80" stroke="#000" stroke-width="1.0" stroke-linecap="butt"/>
<text x="609.70" y="41.80" font-size="8.6" text-anchor="middle" fill="#000">N.S.</text>
<line x1="652.00" y1="60.40" x2="669.50" y2="60.40" stroke="#000" stroke-width="1.0" stroke-linecap="butt"/>
<text x="660.80" y="56.40" font-size="8.6" text-anchor="middle" fill="#000">N.S.</text>
<text x="558.70" y="173.00" font-size="7" text-anchor="middle" fill="#000" transform="rotate(-45 558.70 173.00)">1</text>
<text x="610.50" y="173.00" font-size="7" text-anchor="middle" fill="#000" transform="rotate(-45 610.50 173.00)">3</text>
<text x="662.50" y="173.00" font-size="7" text-anchor="middle" fill="#000" transform="rotate(-45 662.50 173.00)">5</text>
<text x="509.00" y="100.00" font-size="8.6" text-anchor="middle" fill="#000" transform="rotate(-90 509.00 100.00)">Body size (mm<tspan dy="-3" font-size="5.5">2</tspan><tspan dy="3">)</tspan></text>
<text x="609.70" y="189.00" font-size="8.6" text-anchor="middle" fill="#000">Time (Days)</text>
<text x="9.70" y="260.20" font-size="15" text-anchor="start" fill="#000">e</text>
<text x="65.70" y="273.80" font-size="8.6" text-anchor="middle" fill="#000">Strain</text>
<text x="136.30" y="268.30" font-size="8.6" text-anchor="middle" fill="#000">Mean survival</text>
<text x="136.30" y="279.30" font-size="8.6" text-anchor="middle" fill="#000">days ± SEM</text>
<text x="202.50" y="268.30" font-size="8.6" text-anchor="middle" fill="#000">Percentage</text>
<text x="202.50" y="279.30" font-size="8.6" text-anchor="middle" fill="#000">increase</text>
<line x1="22.00" y1="283.20" x2="230.60" y2="283.20" stroke="#000" stroke-width="1.0" stroke-linecap="butt"/>
<line x1="23.00" y1="292.70" x2="32.00" y2="292.70" stroke="#ff0000" stroke-width="1.6" stroke-linecap="butt"/>
<line x1="23.00" y1="307.70" x2="32.00" y2="307.70" stroke="#0000e0" stroke-width="1.6" stroke-linecap="butt"/>
<text x="39.40" y="295.80" font-size="8.6" text-anchor="start" fill="#000">OP50</text>
<text x="39.40" y="310.80" font-size="8.6" text-anchor="start" fill="#000">OP50+Probio-M9</text>
<text x="135.30" y="295.80" font-size="8.6" text-anchor="middle" fill="#000">19.70 ± 1.33</text>
<text x="135.30" y="310.80" font-size="8.6" text-anchor="middle" fill="#000">24.43 ± 1.54</text>
<text x="202.80" y="311.60" font-size="8.6" text-anchor="middle" fill="#000">24.01%</text>
<path d="M63.90 331.10H99.43V334.80H102.98V340.36H106.54V343.14H110.09V344.99H113.64V346.84H117.19V349.62H120.75V352.40H124.30V356.10H127.85V359.81H131.41V362.58H134.96V365.36H138.51V367.21H142.07V369.99H145.62V371.84H149.17V374.62H152.72V381.10H156.28V388.51H159.83V389.44H163.38V391.29H166.94V394.07H170.49V396.85H174.04V398.70H177.60V400.55H181.15V402.40H184.70V404.25H188.25V407.96H191.81V409.81H195.36V413.51H198.91V414.44H202.47V418.14H206.02V420.00H209.57V421.85H213.13V422.77H216.68V423.70" fill="none" stroke="#0000e0" stroke-width="1.75" stroke-linejoin="miter"/>
<path d="M63.90 331.10H92.32V332.95H95.88V334.80H99.43V338.51H102.98V342.21H106.54V345.92H110.09V350.55H113.64V356.10H117.19V360.73H120.75V365.36H124.30V370.92H127.85V375.55H131.41V379.25H134.96V383.88H138.51V389.44H142.07V394.07H145.62V399.62H149.17V407.03H152.72V407.96H156.28V414.44H166.94V415.37H170.49V417.22H174.04V419.07H181.15V420.00H188.25V420.92H195.36V422.77" fill="none" stroke="#ff0000" stroke-width="1.75" stroke-linejoin="miter"/>
<line x1="63.90" y1="320.91" x2="63.90" y2="424.35" stroke="#000" stroke-width="1.4" stroke-linecap="butt"/>
<line x1="60.40" y1="423.70" x2="63.90" y2="423.70" stroke="#000" stroke-width="1.3" stroke-linecap="butt"/>
<text x="58.90" y="426.40" font-size="7.5" text-anchor="end" fill="#000">0</text>
<line x1="60.40" y1="405.18" x2="63.90" y2="405.18" stroke="#000" stroke-width="1.3" stroke-linecap="butt"/>
<text x="58.90" y="407.88" font-size="7.5" text-anchor="end" fill="#000">20</text>
<line x1="60.40" y1="386.66" x2="63.90" y2="386.66" stroke="#000" stroke-width="1.3" stroke-linecap="butt"/>
<text x="58.90" y="389.36" font-size="7.5" text-anchor="end" fill="#000">40</text>
<line x1="60.40" y1="368.14" x2="63.90" y2="368.14" stroke="#000" stroke-width="1.3" stroke-linecap="butt"/>
<text x="58.90" y="370.84" font-size="7.5" text-anchor="end" fill="#000">60</text>
<line x1="60.40" y1="349.62" x2="63.90" y2="349.62" stroke="#000" stroke-width="1.3" stroke-linecap="butt"/>
<text x="58.90" y="352.32" font-size="7.5" text-anchor="end" fill="#000">80</text>
<line x1="60.40" y1="331.10" x2="63.90" y2="331.10" stroke="#000" stroke-width="1.3" stroke-linecap="butt"/>
<text x="58.90" y="333.80" font-size="7.5" text-anchor="end" fill="#000">100</text>
<line x1="63.25" y1="423.70" x2="224.44" y2="423.70" stroke="#000" stroke-width="1.3" stroke-linecap="butt"/>
<line x1="63.90" y1="423.70" x2="63.90" y2="427.20" stroke="#000" stroke-width="1.3" stroke-linecap="butt"/>
<text x="63.90" y="436.00" font-size="7.5" text-anchor="middle" fill="#000">0</text>
<line x1="117.19" y1="423.70" x2="117.19" y2="427.20" stroke="#000" stroke-width="1.3" stroke-linecap="butt"/>
<text x="117.19" y="436.00" font-size="7.5" text-anchor="middle" fill="#000">15</text>
<line x1="170.49" y1="423.70" x2="170.49" y2="427.20" stroke="#000" stroke-width="1.3" stroke-linecap="butt"/>
<text x="170.49" y="436.00" font-size="7.5" text-anchor="middle" fill="#000">30</text>
<line x1="223.78" y1="423.70" x2="223.78" y2="427.20" stroke="#000" stroke-width="1.3" stroke-linecap="butt"/>
<text x="223.78" y="436.00" font-size="7.5" text-anchor="middle" fill="#000">45</text>
<text x="41.50" y="372.00" font-size="8.6" text-anchor="middle" fill="#000" transform="rotate(-90 41.50 372.00)">Percent survival</text>
<text x="69.30" y="387.00" font-size="8.6" text-anchor="start" fill="#000"><tspan font-style="italic">eat-2 </tspan>(<tspan font-style="italic">ad1116</tspan>)</text>
<text x="216.50" y="418.80" font-size="9.3" text-anchor="middle" fill="#000">****</text>
<text x="144.00" y="449.00" font-size="8.6" text-anchor="middle" fill="#000">Age (Days)</text>
<text x="8.00" y="494.50" font-size="15" text-anchor="start" fill="#000">f</text>
<text x="68.20" y="520.50" font-size="8.6" text-anchor="middle" fill="#000">Strain</text>
<text x="140.50" y="515.00" font-size="8.6" text-anchor="middle" fill="#000">Mean survival</text>
<text x="140.50" y="526.00" font-size="8.6" text-anchor="middle" fill="#000">days ± SEM</text>
<text x="205.50" y="515.00" font-size="8.6" text-anchor="middle" fill="#000">Percentage</text>
<text x="205.50" y="526.00" font-size="8.6" text-anchor="middle" fill="#000">increase</text>
<line x1="24.80" y1="528.80" x2="233.60" y2="528.80" stroke="#000" stroke-width="1.0" stroke-linecap="butt"/>
<line x1="25.50" y1="538.20" x2="35.40" y2="538.20" stroke="#ff0000" stroke-width="1.6" stroke-linecap="butt"/>
<line x1="25.50" y1="554.30" x2="35.40" y2="554.30" stroke="#0000e0" stroke-width="1.6" stroke-linecap="butt"/>
<text x="42.30" y="541.30" font-size="8.6" text-anchor="start" fill="#000">OP50</text>
<text x="42.30" y="557.40" font-size="8.6" text-anchor="start" fill="#000">OP50+Probio-M9</text>
<text x="139.50" y="541.30" font-size="8.6" text-anchor="middle" fill="#000">14.23 ± 0.93</text>
<text x="139.50" y="557.40" font-size="8.6" text-anchor="middle" fill="#000">18.40 ± 1.41</text>
<text x="205.80" y="557.30" font-size="8.6" text-anchor="middle" fill="#000">29.30%</text>
<path d="M58.80 579.10H103.25V579.94H107.69V587.47H112.14V595.00H116.59V600.02H121.03V605.05H125.48V610.07H129.92V615.93H134.37V620.11H138.81V625.13H143.25V630.16H147.70V635.18H152.14V639.36H156.59V644.39H161.04V646.06H165.48V646.90H169.93V648.57H174.37V650.25H178.81V651.08H183.26V653.59H187.70V655.27H192.15V656.94H196.60V657.78H201.04V660.29H205.49V661.13H209.93V661.96H214.38V662.80" fill="none" stroke="#0000e0" stroke-width="1.75" stroke-linejoin="miter"/>
<path d="M58.80 579.10H98.81V585.80H103.25V594.17H107.69V603.37H112.14V611.74H116.59V616.76H121.03V624.30H125.48V631.83H129.92V637.69H134.37V642.71H138.81V647.73H143.25V651.08H147.70V653.59H152.14V656.10H156.59V658.62H161.04V660.29H165.48V661.54H169.93V661.96H174.37V661.96" fill="none" stroke="#ff0000" stroke-width="1.75" stroke-linejoin="miter"/>
<line x1="58.80" y1="569.89" x2="58.80" y2="663.45" stroke="#000" stroke-width="1.4" stroke-linecap="butt"/>
<line x1="55.30" y1="662.80" x2="58.80" y2="662.80" stroke="#000" stroke-width="1.3" stroke-linecap="butt"/>
<text x="53.80" y="665.50" font-size="7.5" text-anchor="end" fill="#000">0</text>
<line x1="55.30" y1="646.06" x2="58.80" y2="646.06" stroke="#000" stroke-width="1.3" stroke-linecap="butt"/>
<text x="53.80" y="648.76" font-size="7.5" text-anchor="end" fill="#000">20</text>
<line x1="55.30" y1="629.32" x2="58.80" y2="629.32" stroke="#000" stroke-width="1.3" stroke-linecap="butt"/>
<text x="53.80" y="632.02" font-size="7.5" text-anchor="end" fill="#000">40</text>
<line x1="55.30" y1="612.58" x2="58.80" y2="612.58" stroke="#000" stroke-width="1.3" stroke-linecap="butt"/>
<text x="53.80" y="615.28" font-size="7.5" text-anchor="end" fill="#000">60</text>
<line x1="55.30" y1="595.84" x2="58.80" y2="595.84" stroke="#000" stroke-width="1.3" stroke-linecap="butt"/>
<text x="53.80" y="598.54" font-size="7.5" text-anchor="end" fill="#000">80</text>
<line x1="55.30" y1="579.10" x2="58.80" y2="579.10" stroke="#000" stroke-width="1.3" stroke-linecap="butt"/>
<text x="53.80" y="581.80" font-size="7.5" text-anchor="end" fill="#000">100</text>
<line x1="58.15" y1="662.80" x2="237.25" y2="662.80" stroke="#000" stroke-width="1.3" stroke-linecap="butt"/>
<line x1="58.80" y1="662.80" x2="58.80" y2="666.30" stroke="#000" stroke-width="1.3" stroke-linecap="butt"/>
<text x="58.80" y="674.10" font-size="7.5" text-anchor="middle" fill="#000">0</text>
<line x1="103.25" y1="662.80" x2="103.25" y2="666.30" stroke="#000" stroke-width="1.3" stroke-linecap="butt"/>
<text x="103.25" y="674.10" font-size="7.5" text-anchor="middle" fill="#000">10</text>
<line x1="147.70" y1="662.80" x2="147.70" y2="666.30" stroke="#000" stroke-width="1.3" stroke-linecap="butt"/>
<text x="147.70" y="674.10" font-size="7.5" text-anchor="middle" fill="#000">20</text>
<line x1="192.15" y1="662.80" x2="192.15" y2="666.30" stroke="#000" stroke-width="1.3" stroke-linecap="butt"/>
<text x="192.15" y="674.10" font-size="7.5" text-anchor="middle" fill="#000">30</text>
<line x1="236.60" y1="662.80" x2="236.60" y2="666.30" stroke="#000" stroke-width="1.3" stroke-linecap="butt"/>
<text x="236.60" y="674.10" font-size="7.5" text-anchor="middle" fill="#000">40</text>
<text x="36.50" y="621.00" font-size="8.6" text-anchor="middle" fill="#000" transform="rotate(-90 36.50 621.00)">Percent survival</text>
<text x="64.00" y="627.50" font-size="8.6" text-anchor="start" fill="#000"><tspan font-style="italic">aak-2 </tspan>(<tspan font-style="italic">ok524</tspan>)</text>
<text x="223.80" y="655.80" font-size="9.3" text-anchor="middle" fill="#000">****</text>
<text x="147.60" y="688.00" font-size="8.6" text-anchor="middle" fill="#000">Age (Days)</text>
<text x="292.60" y="259.00" font-size="15" text-anchor="start" fill="#000">g</text>
<circle cx="431.80" cy="252.00" r="2.4" fill="#f00000" stroke="#000" stroke-width="0.7"/>
<path d="M431.80 263.00L434.60 265.80L431.80 268.60L429.00 265.80Z" fill="#0000b4" stroke="#000" stroke-width="0.7"/>
<text x="443.70" y="255.10" font-size="8.6" text-anchor="start" fill="#000">OP50</text>
<text x="443.70" y="268.90" font-size="8.6" text-anchor="start" fill="#000">OP50+Probio-M9</text>
<rect x="337.70" y="313.33" width="11.30" height="107.87" fill="none" stroke="#000" stroke-width="1.3"/>
<rect x="355.60" y="311.61" width="11.30" height="109.59" fill="none" stroke="#000" stroke-width="1.3"/>
<line x1="343.35" y1="320.22" x2="343.35" y2="306.45" stroke="#000" stroke-width="1.2" stroke-linecap="butt"/>
<line x1="339.85" y1="320.22" x2="346.85" y2="320.22" stroke="#000" stroke-width="1.2" stroke-linecap="butt"/>
<line x1="339.85" y1="306.45" x2="346.85" y2="306.45" stroke="#000" stroke-width="1.2" stroke-linecap="butt"/>
<line x1="361.25" y1="316.20" x2="361.25" y2="307.02" stroke="#000" stroke-width="1.2" stroke-linecap="butt"/>
<line x1="357.75" y1="316.20" x2="364.75" y2="316.20" stroke="#000" stroke-width="1.2" stroke-linecap="butt"/>
<line x1="357.75" y1="307.02" x2="364.75" y2="307.02" stroke="#000" stroke-width="1.2" stroke-linecap="butt"/>
<rect x="385.65" y="322.51" width="11.30" height="98.69" fill="none" stroke="#000" stroke-width="1.3"/>
<rect x="403.55" y="323.66" width="11.30" height="97.54" fill="none" stroke="#000" stroke-width="1.3"/>
<line x1="391.30" y1="328.25" x2="391.30" y2="316.78" stroke="#000" stroke-width="1.2" stroke-linecap="butt"/>
<line x1="387.80" y1="328.25" x2="394.80" y2="328.25" stroke="#000" stroke-width="1.2" stroke-linecap="butt"/>
<line x1="387.80" y1="316.78" x2="394.80" y2="316.78" stroke="#000" stroke-width="1.2" stroke-linecap="butt"/>
<line x1="409.20" y1="329.40" x2="409.20" y2="317.93" stroke="#000" stroke-width="1.2" stroke-linecap="butt"/>
<line x1="405.70" y1="329.40" x2="412.70" y2="329.40" stroke="#000" stroke-width="1.2" stroke-linecap="butt"/>
<line x1="405.70" y1="317.93" x2="412.70" y2="317.93" stroke="#000" stroke-width="1.2" stroke-linecap="butt"/>
<rect x="433.60" y="354.64" width="11.30" height="66.56" fill="none" stroke="#000" stroke-width="1.3"/>
<rect x="451.50" y="338.58" width="11.30" height="82.62" fill="none" stroke="#000" stroke-width="1.3"/>
<line x1="439.25" y1="368.41" x2="439.25" y2="340.88" stroke="#000" stroke-width="1.2" stroke-linecap="butt"/>
<line x1="435.75" y1="368.41" x2="442.75" y2="368.41" stroke="#000" stroke-width="1.2" stroke-linecap="butt"/>
<line x1="435.75" y1="340.88" x2="442.75" y2="340.88" stroke="#000" stroke-width="1.2" stroke-linecap="butt"/>
<line x1="457.15" y1="344.32" x2="457.15" y2="332.84" stroke="#000" stroke-width="1.2" stroke-linecap="butt"/>
<line x1="453.65" y1="344.32" x2="460.65" y2="344.32" stroke="#000" stroke-width="1.2" stroke-linecap="butt"/>
<line x1="453.65" y1="332.84" x2="460.65" y2="332.84" stroke="#000" stroke-width="1.2" stroke-linecap="butt"/>
<rect x="481.55" y="371.05" width="11.30" height="50.15" fill="none" stroke="#000" stroke-width="1.3"/>
<rect x="499.45" y="350.06" width="11.30" height="71.14" fill="none" stroke="#000" stroke-width="1.3"/>
<line x1="487.20" y1="400.89" x2="487.20" y2="341.22" stroke="#000" stroke-width="1.2" stroke-linecap="butt"/>
<line x1="483.70" y1="400.89" x2="490.70" y2="400.89" stroke="#000" stroke-width="1.2" stroke-linecap="butt"/>
<line x1="483.70" y1="341.22" x2="490.70" y2="341.22" stroke="#000" stroke-width="1.2" stroke-linecap="butt"/>
<line x1="505.10" y1="360.38" x2="505.10" y2="339.73" stroke="#000" stroke-width="1.2" stroke-linecap="butt"/>
<line x1="501.60" y1="360.38" x2="508.60" y2="360.38" stroke="#000" stroke-width="1.2" stroke-linecap="butt"/>
<line x1="501.60" y1="339.73" x2="508.60" y2="339.73" stroke="#000" stroke-width="1.2" stroke-linecap="butt"/>
<rect x="529.50" y="384.48" width="11.30" height="36.72" fill="none" stroke="#000" stroke-width="1.3"/>
<rect x="547.40" y="356.94" width="11.30" height="64.26" fill="none" stroke="#000" stroke-width="1.3"/>
<line x1="535.15" y1="409.72" x2="535.15" y2="359.24" stroke="#000" stroke-width="1.2" stroke-linecap="butt"/>
<line x1="531.65" y1="409.72" x2="538.65" y2="409.72" stroke="#000" stroke-width="1.2" stroke-linecap="butt"/>
<line x1="531.65" y1="359.24" x2="538.65" y2="359.24" stroke="#000" stroke-width="1.2" stroke-linecap="butt"/>
<line x1="553.05" y1="381.04" x2="553.05" y2="332.84" stroke="#000" stroke-width="1.2" stroke-linecap="butt"/>
<line x1="549.55" y1="381.04" x2="556.55" y2="381.04" stroke="#000" stroke-width="1.2" stroke-linecap="butt"/>
<line x1="549.55" y1="332.84" x2="556.55" y2="332.84" stroke="#000" stroke-width="1.2" stroke-linecap="butt"/>
<rect x="577.45" y="393.66" width="11.30" height="27.54" fill="none" stroke="#000" stroke-width="1.3"/>
<rect x="595.35" y="363.82" width="11.30" height="57.38" fill="none" stroke="#000" stroke-width="1.3"/>
<line x1="583.10" y1="415.00" x2="583.10" y2="372.32" stroke="#000" stroke-width="1.2" stroke-linecap="butt"/>
<line x1="579.60" y1="415.00" x2="586.60" y2="415.00" stroke="#000" stroke-width="1.2" stroke-linecap="butt"/>
<line x1="579.60" y1="372.32" x2="586.60" y2="372.32" stroke="#000" stroke-width="1.2" stroke-linecap="butt"/>
<line x1="601.00" y1="385.05" x2="601.00" y2="342.60" stroke="#000" stroke-width="1.2" stroke-linecap="butt"/>
<line x1="597.50" y1="385.05" x2="604.50" y2="385.05" stroke="#000" stroke-width="1.2" stroke-linecap="butt"/>
<line x1="597.50" y1="342.60" x2="604.50" y2="342.60" stroke="#000" stroke-width="1.2" stroke-linecap="butt"/>
<rect x="625.40" y="403.41" width="11.30" height="17.79" fill="none" stroke="#000" stroke-width="1.3"/>
<rect x="643.30" y="370.14" width="11.30" height="51.06" fill="none" stroke="#000" stroke-width="1.3"/>
<line x1="631.05" y1="416.61" x2="631.05" y2="390.22" stroke="#000" stroke-width="1.2" stroke-linecap="butt"/>
<line x1="627.55" y1="416.61" x2="634.55" y2="416.61" stroke="#000" stroke-width="1.2" stroke-linecap="butt"/>
<line x1="627.55" y1="390.22" x2="634.55" y2="390.22" stroke="#000" stroke-width="1.2" stroke-linecap="butt"/>
<line x1="648.95" y1="395.04" x2="648.95" y2="345.24" stroke="#000" stroke-width="1.2" stroke-linecap="butt"/>
<line x1="645.45" y1="395.04" x2="652.45" y2="395.04" stroke="#000" stroke-width="1.2" stroke-linecap="butt"/>
<line x1="645.45" y1="345.24" x2="652.45" y2="345.24" stroke="#000" stroke-width="1.2" stroke-linecap="butt"/>
<line x1="331.30" y1="282.85" x2="331.30" y2="421.85" stroke="#000" stroke-width="1.3" stroke-linecap="butt"/>
<line x1="327.80" y1="421.20" x2="331.30" y2="421.20" stroke="#000" stroke-width="1.3" stroke-linecap="butt"/>
<text x="326.30" y="423.90" font-size="7.5" text-anchor="end" fill="#000">0</text>
<line x1="327.80" y1="375.30" x2="331.30" y2="375.30" stroke="#000" stroke-width="1.3" stroke-linecap="butt"/>
<text x="326.30" y="378.00" font-size="7.5" text-anchor="end" fill="#000">40</text>
<line x1="327.80" y1="329.40" x2="331.30" y2="329.40" stroke="#000" stroke-width="1.3" stroke-linecap="butt"/>
<text x="326.30" y="332.10" font-size="7.5" text-anchor="end" fill="#000">80</text>
<line x1="327.80" y1="283.50" x2="331.30" y2="283.50" stroke="#000" stroke-width="1.3" stroke-linecap="butt"/>
<text x="326.30" y="286.20" font-size="7.5" text-anchor="end" fill="#000">120</text>
<line x1="330.65" y1="421.20" x2="662.50" y2="421.20" stroke="#000" stroke-width="1.3" stroke-linecap="butt"/>
<circle cx="344.52" cy="322.20" r="2.1" fill="#f00000" stroke="#000" stroke-width="0.7"/>
<circle cx="340.85" cy="321.68" r="2.1" fill="#f00000" stroke="#000" stroke-width="0.7"/>
<circle cx="346.35" cy="320.90" r="2.1" fill="#f00000" stroke="#000" stroke-width="0.7"/>
<circle cx="343.35" cy="320.84" r="2.1" fill="#f00000" stroke="#000" stroke-width="0.7"/>
<circle cx="347.55" cy="317.98" r="2.1" fill="#f00000" stroke="#000" stroke-width="0.7"/>
<circle cx="344.18" cy="317.61" r="2.1" fill="#f00000" stroke="#000" stroke-width="0.7"/>
<circle cx="347.85" cy="317.55" r="2.1" fill="#f00000" stroke="#000" stroke-width="0.7"/>
<circle cx="339.85" cy="317.36" r="2.1" fill="#f00000" stroke="#000" stroke-width="0.7"/>
<circle cx="345.35" cy="316.76" r="2.1" fill="#f00000" stroke="#000" stroke-width="0.7"/>
<circle cx="342.35" cy="316.15" r="2.1" fill="#f00000" stroke="#000" stroke-width="0.7"/>
<circle cx="347.23" cy="314.32" r="2.1" fill="#f00000" stroke="#000" stroke-width="0.7"/>
<circle cx="346.35" cy="313.96" r="2.1" fill="#f00000" stroke="#000" stroke-width="0.7"/>
<circle cx="343.35" cy="313.60" r="2.1" fill="#f00000" stroke="#000" stroke-width="0.7"/>
<circle cx="340.35" cy="313.44" r="2.1" fill="#f00000" stroke="#000" stroke-width="0.7"/>
<circle cx="342.15" cy="313.11" r="2.1" fill="#f00000" stroke="#000" stroke-width="0.7"/>
<circle cx="343.41" cy="312.59" r="2.1" fill="#f00000" stroke="#000" stroke-width="0.7"/>
<circle cx="338.91" cy="312.30" r="2.1" fill="#f00000" stroke="#000" stroke-width="0.7"/>
<circle cx="347.85" cy="311.74" r="2.1" fill="#f00000" stroke="#000" stroke-width="0.7"/>
<circle cx="341.35" cy="310.54" r="2.1" fill="#f00000" stroke="#000" stroke-width="0.7"/>
<circle cx="343.85" cy="309.56" r="2.1" fill="#f00000" stroke="#000" stroke-width="0.7"/>
<circle cx="346.85" cy="309.04" r="2.1" fill="#f00000" stroke="#000" stroke-width="0.7"/>
<circle cx="343.35" cy="306.46" r="2.1" fill="#f00000" stroke="#000" stroke-width="0.7"/>
<circle cx="343.35" cy="301.86" r="2.1" fill="#f00000" stroke="#000" stroke-width="0.7"/>
<circle cx="340.85" cy="300.71" r="2.1" fill="#f00000" stroke="#000" stroke-width="0.7"/>
<circle cx="344.85" cy="299.56" r="2.1" fill="#f00000" stroke="#000" stroke-width="0.7"/>
<path d="M359.25 315.66L361.75 318.16L359.25 320.66L356.75 318.16Z" fill="#0000b4" stroke="#000" stroke-width="0.7"/>
<path d="M361.75 314.94L364.25 317.44L361.75 319.94L359.25 317.44Z" fill="#0000b4" stroke="#000" stroke-width="0.7"/>
<path d="M365.56 313.21L368.06 315.71L365.56 318.21L363.06 315.71Z" fill="#0000b4" stroke="#000" stroke-width="0.7"/>
<path d="M360.75 312.39L363.25 314.89L360.75 317.39L358.25 314.89Z" fill="#0000b4" stroke="#000" stroke-width="0.7"/>
<path d="M365.10 311.61L367.60 314.11L365.10 316.61L362.60 314.11Z" fill="#0000b4" stroke="#000" stroke-width="0.7"/>
<path d="M357.75 311.15L360.25 313.65L357.75 316.15L355.25 313.65Z" fill="#0000b4" stroke="#000" stroke-width="0.7"/>
<path d="M362.52 310.33L365.02 312.83L362.52 315.33L360.02 312.83Z" fill="#0000b4" stroke="#000" stroke-width="0.7"/>
<path d="M365.27 310.09L367.77 312.59L365.27 315.09L362.77 312.59Z" fill="#0000b4" stroke="#000" stroke-width="0.7"/>
<path d="M360.37 309.72L362.87 312.22L360.37 314.72L357.87 312.22Z" fill="#0000b4" stroke="#000" stroke-width="0.7"/>
<path d="M360.94 309.09L363.44 311.59L360.94 314.09L358.44 311.59Z" fill="#0000b4" stroke="#000" stroke-width="0.7"/>
<path d="M364.09 309.00L366.59 311.50L364.09 314.00L361.59 311.50Z" fill="#0000b4" stroke="#000" stroke-width="0.7"/>
<path d="M364.25 308.76L366.75 311.26L364.25 313.76L361.75 311.26Z" fill="#0000b4" stroke="#000" stroke-width="0.7"/>
<path d="M361.25 308.38L363.75 310.88L361.25 313.38L358.75 310.88Z" fill="#0000b4" stroke="#000" stroke-width="0.7"/>
<path d="M358.25 308.34L360.75 310.84L358.25 313.34L355.75 310.84Z" fill="#0000b4" stroke="#000" stroke-width="0.7"/>
<path d="M364.97 308.16L367.47 310.66L364.97 313.16L362.47 310.66Z" fill="#0000b4" stroke="#000" stroke-width="0.7"/>
<path d="M364.82 308.07L367.32 310.57L364.82 313.07L362.32 310.57Z" fill="#0000b4" stroke="#000" stroke-width="0.7"/>
<path d="M359.85 307.40L362.35 309.90L359.85 312.40L357.35 309.90Z" fill="#0000b4" stroke="#000" stroke-width="0.7"/>
<path d="M364.59 306.73L367.09 309.23L364.59 311.73L362.09 309.23Z" fill="#0000b4" stroke="#000" stroke-width="0.7"/>
<path d="M359.92 306.66L362.42 309.16L359.92 311.66L357.42 309.16Z" fill="#0000b4" stroke="#000" stroke-width="0.7"/>
<path d="M359.06 306.65L361.56 309.15L359.06 311.65L356.56 309.15Z" fill="#0000b4" stroke="#000" stroke-width="0.7"/>
<path d="M360.82 306.08L363.32 308.58L360.82 311.08L358.32 308.58Z" fill="#0000b4" stroke="#000" stroke-width="0.7"/>
<path d="M356.75 305.40L359.25 307.90L356.75 310.40L354.25 307.90Z" fill="#0000b4" stroke="#000" stroke-width="0.7"/>
<path d="M365.73 304.88L368.23 307.38L365.73 309.88L363.23 307.38Z" fill="#0000b4" stroke="#000" stroke-width="0.7"/>
<path d="M356.77 304.85L359.27 307.35L356.77 309.85L354.27 307.35Z" fill="#0000b4" stroke="#000" stroke-width="0.7"/>
<path d="M361.21 304.41L363.71 306.91L361.21 309.41L358.71 306.91Z" fill="#0000b4" stroke="#000" stroke-width="0.7"/>
<line x1="352.30" y1="421.20" x2="352.30" y2="424.70" stroke="#000" stroke-width="1.3" stroke-linecap="butt"/>
<text x="353.80" y="434.70" font-size="7.4" text-anchor="middle" fill="#000" transform="rotate(-45 353.80 434.70)">2</text>
<circle cx="391.30" cy="338.58" r="2.1" fill="#f00000" stroke="#000" stroke-width="0.7"/>
<circle cx="391.30" cy="331.10" r="2.1" fill="#f00000" stroke="#000" stroke-width="0.7"/>
<circle cx="394.56" cy="328.28" r="2.1" fill="#f00000" stroke="#000" stroke-width="0.7"/>
<circle cx="388.80" cy="328.11" r="2.1" fill="#f00000" stroke="#000" stroke-width="0.7"/>
<circle cx="391.30" cy="326.72" r="2.1" fill="#f00000" stroke="#000" stroke-width="0.7"/>
<circle cx="394.76" cy="326.00" r="2.1" fill="#f00000" stroke="#000" stroke-width="0.7"/>
<circle cx="387.28" cy="325.87" r="2.1" fill="#f00000" stroke="#000" stroke-width="0.7"/>
<circle cx="395.80" cy="325.47" r="2.1" fill="#f00000" stroke="#000" stroke-width="0.7"/>
<circle cx="387.91" cy="324.41" r="2.1" fill="#f00000" stroke="#000" stroke-width="0.7"/>
<circle cx="391.57" cy="323.91" r="2.1" fill="#f00000" stroke="#000" stroke-width="0.7"/>
<circle cx="386.80" cy="323.34" r="2.1" fill="#f00000" stroke="#000" stroke-width="0.7"/>
<circle cx="394.30" cy="323.27" r="2.1" fill="#f00000" stroke="#000" stroke-width="0.7"/>
<circle cx="391.30" cy="323.27" r="2.1" fill="#f00000" stroke="#000" stroke-width="0.7"/>
<circle cx="388.80" cy="321.62" r="2.1" fill="#f00000" stroke="#000" stroke-width="0.7"/>
<circle cx="394.15" cy="321.42" r="2.1" fill="#f00000" stroke="#000" stroke-width="0.7"/>
<circle cx="393.09" cy="320.82" r="2.1" fill="#f00000" stroke="#000" stroke-width="0.7"/>
<circle cx="390.80" cy="319.51" r="2.1" fill="#f00000" stroke="#000" stroke-width="0.7"/>
<circle cx="387.80" cy="319.01" r="2.1" fill="#f00000" stroke="#000" stroke-width="0.7"/>
<circle cx="394.80" cy="318.63" r="2.1" fill="#f00000" stroke="#000" stroke-width="0.7"/>
<circle cx="391.48" cy="318.09" r="2.1" fill="#f00000" stroke="#000" stroke-width="0.7"/>
<circle cx="391.60" cy="317.83" r="2.1" fill="#f00000" stroke="#000" stroke-width="0.7"/>
<circle cx="391.73" cy="316.99" r="2.1" fill="#f00000" stroke="#000" stroke-width="0.7"/>
<circle cx="390.76" cy="316.85" r="2.1" fill="#f00000" stroke="#000" stroke-width="0.7"/>
<circle cx="392.80" cy="314.57" r="2.1" fill="#f00000" stroke="#000" stroke-width="0.7"/>
<circle cx="389.30" cy="314.53" r="2.1" fill="#f00000" stroke="#000" stroke-width="0.7"/>
<path d="M409.20 336.08L411.70 338.58L409.20 341.08L406.70 338.58Z" fill="#0000b4" stroke="#000" stroke-width="0.7"/>
<path d="M407.48 329.65L409.98 332.15L407.48 334.65L404.98 332.15Z" fill="#0000b4" stroke="#000" stroke-width="0.7"/>
<path d="M405.19 328.94L407.69 331.44L405.19 333.94L402.69 331.44Z" fill="#0000b4" stroke="#000" stroke-width="0.7"/>
<path d="M412.20 328.61L414.70 331.11L412.20 333.61L409.70 331.11Z" fill="#0000b4" stroke="#000" stroke-width="0.7"/>
<path d="M406.70 328.40L409.20 330.90L406.70 333.40L404.20 330.90Z" fill="#0000b4" stroke="#000" stroke-width="0.7"/>
<path d="M409.70 327.88L412.20 330.38L409.70 332.88L407.20 330.38Z" fill="#0000b4" stroke="#000" stroke-width="0.7"/>
<path d="M408.20 325.62L410.70 328.12L408.20 330.62L405.70 328.12Z" fill="#0000b4" stroke="#000" stroke-width="0.7"/>
<path d="M412.70 324.70L415.20 327.20L412.70 329.70L410.20 327.20Z" fill="#0000b4" stroke="#000" stroke-width="0.7"/>
<path d="M405.20 323.83L407.70 326.33L405.20 328.83L402.70 326.33Z" fill="#0000b4" stroke="#000" stroke-width="0.7"/>
<path d="M410.20 323.68L412.70 326.18L410.20 328.68L407.70 326.18Z" fill="#0000b4" stroke="#000" stroke-width="0.7"/>
<path d="M407.70 322.87L410.20 325.37L407.70 327.87L405.20 325.37Z" fill="#0000b4" stroke="#000" stroke-width="0.7"/>
<path d="M412.20 321.02L414.70 323.52L412.20 326.02L409.70 323.52Z" fill="#0000b4" stroke="#000" stroke-width="0.7"/>
<path d="M409.20 320.57L411.70 323.07L409.20 325.57L406.70 323.07Z" fill="#0000b4" stroke="#000" stroke-width="0.7"/>
<path d="M406.20 320.17L408.70 322.67L406.20 325.17L403.70 322.67Z" fill="#0000b4" stroke="#000" stroke-width="0.7"/>
<path d="M408.77 319.59L411.27 322.09L408.77 324.59L406.27 322.09Z" fill="#0000b4" stroke="#000" stroke-width="0.7"/>
<path d="M411.20 318.47L413.70 320.97L411.20 323.47L408.70 320.97Z" fill="#0000b4" stroke="#000" stroke-width="0.7"/>
<path d="M406.54 318.31L409.04 320.81L406.54 323.31L404.04 320.81Z" fill="#0000b4" stroke="#000" stroke-width="0.7"/>
<path d="M413.70 317.42L416.20 319.92L413.70 322.42L411.20 319.92Z" fill="#0000b4" stroke="#000" stroke-width="0.7"/>
<path d="M412.13 317.12L414.63 319.62L412.13 322.12L409.63 319.62Z" fill="#0000b4" stroke="#000" stroke-width="0.7"/>
<path d="M406.34 317.07L408.84 319.57L406.34 322.07L403.84 319.57Z" fill="#0000b4" stroke="#000" stroke-width="0.7"/>
<path d="M409.20 316.31L411.70 318.81L409.20 321.31L406.70 318.81Z" fill="#0000b4" stroke="#000" stroke-width="0.7"/>
<path d="M410.52 316.21L413.02 318.71L410.52 321.21L408.02 318.71Z" fill="#0000b4" stroke="#000" stroke-width="0.7"/>
<path d="M407.61 315.59L410.11 318.09L407.61 320.59L405.11 318.09Z" fill="#0000b4" stroke="#000" stroke-width="0.7"/>
<path d="M412.79 315.45L415.29 317.95L412.79 320.45L410.29 317.95Z" fill="#0000b4" stroke="#000" stroke-width="0.7"/>
<path d="M405.70 313.79L408.20 316.29L405.70 318.79L403.20 316.29Z" fill="#0000b4" stroke="#000" stroke-width="0.7"/>
<path d="M409.20 312.93L411.70 315.43L409.20 317.93L406.70 315.43Z" fill="#0000b4" stroke="#000" stroke-width="0.7"/>
<line x1="400.25" y1="421.20" x2="400.25" y2="424.70" stroke="#000" stroke-width="1.3" stroke-linecap="butt"/>
<text x="401.75" y="434.70" font-size="7.4" text-anchor="middle" fill="#000" transform="rotate(-45 401.75 434.70)">4</text>
<circle cx="439.25" cy="393.66" r="2.1" fill="#f00000" stroke="#000" stroke-width="0.7"/>
<circle cx="439.25" cy="378.74" r="2.1" fill="#f00000" stroke="#000" stroke-width="0.7"/>
<circle cx="439.25" cy="374.15" r="2.1" fill="#f00000" stroke="#000" stroke-width="0.7"/>
<circle cx="437.75" cy="367.27" r="2.1" fill="#f00000" stroke="#000" stroke-width="0.7"/>
<circle cx="439.25" cy="365.04" r="2.1" fill="#f00000" stroke="#000" stroke-width="0.7"/>
<circle cx="439.25" cy="359.67" r="2.1" fill="#f00000" stroke="#000" stroke-width="0.7"/>
<circle cx="434.75" cy="356.39" r="2.1" fill="#f00000" stroke="#000" stroke-width="0.7"/>
<circle cx="437.75" cy="356.20" r="2.1" fill="#f00000" stroke="#000" stroke-width="0.7"/>
<circle cx="439.81" cy="354.45" r="2.1" fill="#f00000" stroke="#000" stroke-width="0.7"/>
<circle cx="442.60" cy="354.08" r="2.1" fill="#f00000" stroke="#000" stroke-width="0.7"/>
<circle cx="441.25" cy="353.59" r="2.1" fill="#f00000" stroke="#000" stroke-width="0.7"/>
<circle cx="436.25" cy="353.12" r="2.1" fill="#f00000" stroke="#000" stroke-width="0.7"/>
<circle cx="439.25" cy="352.92" r="2.1" fill="#f00000" stroke="#000" stroke-width="0.7"/>
<circle cx="442.25" cy="352.26" r="2.1" fill="#f00000" stroke="#000" stroke-width="0.7"/>
<circle cx="439.25" cy="350.09" r="2.1" fill="#f00000" stroke="#000" stroke-width="0.7"/>
<circle cx="441.75" cy="349.09" r="2.1" fill="#f00000" stroke="#000" stroke-width="0.7"/>
<circle cx="436.75" cy="349.04" r="2.1" fill="#f00000" stroke="#000" stroke-width="0.7"/>
<circle cx="442.93" cy="348.42" r="2.1" fill="#f00000" stroke="#000" stroke-width="0.7"/>
<circle cx="437.92" cy="348.31" r="2.1" fill="#f00000" stroke="#000" stroke-width="0.7"/>
<circle cx="440.25" cy="346.91" r="2.1" fill="#f00000" stroke="#000" stroke-width="0.7"/>
<circle cx="435.25" cy="346.91" r="2.1" fill="#f00000" stroke="#000" stroke-width="0.7"/>
<circle cx="436.64" cy="346.23" r="2.1" fill="#f00000" stroke="#000" stroke-width="0.7"/>
<circle cx="439.25" cy="341.82" r="2.1" fill="#f00000" stroke="#000" stroke-width="0.7"/>
<circle cx="436.25" cy="341.36" r="2.1" fill="#f00000" stroke="#000" stroke-width="0.7"/>
<circle cx="441.75" cy="340.88" r="2.1" fill="#f00000" stroke="#000" stroke-width="0.7"/>
<circle cx="439.25" cy="330.55" r="2.1" fill="#f00000" stroke="#000" stroke-width="0.7"/>
<path d="M457.72 344.00L460.22 346.50L457.72 349.00L455.22 346.50Z" fill="#0000b4" stroke="#000" stroke-width="0.7"/>
<path d="M454.69 343.76L457.19 346.26L454.69 348.76L452.19 346.26Z" fill="#0000b4" stroke="#000" stroke-width="0.7"/>
<path d="M460.15 343.44L462.65 345.94L460.15 348.44L457.65 345.94Z" fill="#0000b4" stroke="#000" stroke-width="0.7"/>
<path d="M455.15 343.09L457.65 345.59L455.15 348.09L452.65 345.59Z" fill="#0000b4" stroke="#000" stroke-width="0.7"/>
<path d="M457.65 341.78L460.15 344.28L457.65 346.78L455.15 344.28Z" fill="#0000b4" stroke="#000" stroke-width="0.7"/>
<path d="M453.01 340.34L455.51 342.84L453.01 345.34L450.51 342.84Z" fill="#0000b4" stroke="#000" stroke-width="0.7"/>
<path d="M453.02 339.96L455.52 342.46L453.02 344.96L450.52 342.46Z" fill="#0000b4" stroke="#000" stroke-width="0.7"/>
<path d="M461.65 339.93L464.15 342.43L461.65 344.93L459.15 342.43Z" fill="#0000b4" stroke="#000" stroke-width="0.7"/>
<path d="M456.56 339.35L459.06 341.85L456.56 344.35L454.06 341.85Z" fill="#0000b4" stroke="#000" stroke-width="0.7"/>
<path d="M454.51 339.07L457.01 341.57L454.51 344.07L452.01 341.57Z" fill="#0000b4" stroke="#000" stroke-width="0.7"/>
<path d="M454.65 338.20L457.15 340.70L454.65 343.20L452.15 340.70Z" fill="#0000b4" stroke="#000" stroke-width="0.7"/>
<path d="M459.65 337.93L462.15 340.43L459.65 342.93L457.15 340.43Z" fill="#0000b4" stroke="#000" stroke-width="0.7"/>
<path d="M457.15 337.12L459.65 339.62L457.15 342.12L454.65 339.62Z" fill="#0000b4" stroke="#000" stroke-width="0.7"/>
<path d="M459.15 335.20L461.65 337.70L459.15 340.20L456.65 337.70Z" fill="#0000b4" stroke="#000" stroke-width="0.7"/>
<path d="M455.65 334.87L458.15 337.37L455.65 339.87L453.15 337.37Z" fill="#0000b4" stroke="#000" stroke-width="0.7"/>
<path d="M452.65 334.31L455.15 336.81L452.65 339.31L450.15 336.81Z" fill="#0000b4" stroke="#000" stroke-width="0.7"/>
<path d="M461.65 333.90L464.15 336.40L461.65 338.90L459.15 336.40Z" fill="#0000b4" stroke="#000" stroke-width="0.7"/>
<path d="M453.90 333.33L456.40 335.83L453.90 338.33L451.40 335.83Z" fill="#0000b4" stroke="#000" stroke-width="0.7"/>
<path d="M457.15 331.66L459.65 334.16L457.15 336.66L454.65 334.16Z" fill="#0000b4" stroke="#000" stroke-width="0.7"/>
<path d="M460.15 331.49L462.65 333.99L460.15 336.49L457.65 333.99Z" fill="#0000b4" stroke="#000" stroke-width="0.7"/>
<path d="M457.28 331.40L459.78 333.90L457.28 336.40L454.78 333.90Z" fill="#0000b4" stroke="#000" stroke-width="0.7"/>
<path d="M453.42 331.30L455.92 333.80L453.42 336.30L450.92 333.80Z" fill="#0000b4" stroke="#000" stroke-width="0.7"/>
<path d="M456.98 330.66L459.48 333.16L456.98 335.66L454.48 333.16Z" fill="#0000b4" stroke="#000" stroke-width="0.7"/>
<path d="M454.27 330.62L456.77 333.12L454.27 335.62L451.77 333.12Z" fill="#0000b4" stroke="#000" stroke-width="0.7"/>
<path d="M461.65 329.14L464.15 331.64L461.65 334.14L459.15 331.64Z" fill="#0000b4" stroke="#000" stroke-width="0.7"/>
<path d="M457.15 324.61L459.65 327.11L457.15 329.61L454.65 327.11Z" fill="#0000b4" stroke="#000" stroke-width="0.7"/>
<line x1="448.20" y1="421.20" x2="448.20" y2="424.70" stroke="#000" stroke-width="1.3" stroke-linecap="butt"/>
<text x="449.70" y="434.70" font-size="7.4" text-anchor="middle" fill="#000" transform="rotate(-45 449.70 434.70)">6</text>
<circle cx="487.20" cy="421.20" r="2.1" fill="#f00000" stroke="#000" stroke-width="0.7"/>
<circle cx="490.20" cy="421.20" r="2.1" fill="#f00000" stroke="#000" stroke-width="0.7"/>
<circle cx="484.20" cy="421.20" r="2.1" fill="#f00000" stroke="#000" stroke-width="0.7"/>
<circle cx="485.23" cy="421.20" r="2.1" fill="#f00000" stroke="#000" stroke-width="0.7"/>
<circle cx="483.92" cy="421.20" r="2.1" fill="#f00000" stroke="#000" stroke-width="0.7"/>
<circle cx="487.20" cy="389.07" r="2.1" fill="#f00000" stroke="#000" stroke-width="0.7"/>
<circle cx="487.20" cy="379.89" r="2.1" fill="#f00000" stroke="#000" stroke-width="0.7"/>
<circle cx="487.20" cy="366.12" r="2.1" fill="#f00000" stroke="#000" stroke-width="0.7"/>
<circle cx="487.20" cy="358.09" r="2.1" fill="#f00000" stroke="#000" stroke-width="0.7"/>
<circle cx="487.20" cy="354.86" r="2.1" fill="#f00000" stroke="#000" stroke-width="0.7"/>
<circle cx="484.70" cy="353.30" r="2.1" fill="#f00000" stroke="#000" stroke-width="0.7"/>
<circle cx="487.20" cy="352.25" r="2.1" fill="#f00000" stroke="#000" stroke-width="0.7"/>
<circle cx="490.20" cy="351.68" r="2.1" fill="#f00000" stroke="#000" stroke-width="0.7"/>
<circle cx="483.20" cy="351.16" r="2.1" fill="#f00000" stroke="#000" stroke-width="0.7"/>
<circle cx="488.78" cy="350.94" r="2.1" fill="#f00000" stroke="#000" stroke-width="0.7"/>
<circle cx="485.31" cy="350.29" r="2.1" fill="#f00000" stroke="#000" stroke-width="0.7"/>
<circle cx="487.22" cy="350.25" r="2.1" fill="#f00000" stroke="#000" stroke-width="0.7"/>
<circle cx="490.56" cy="350.15" r="2.1" fill="#f00000" stroke="#000" stroke-width="0.7"/>
<circle cx="487.20" cy="346.29" r="2.1" fill="#f00000" stroke="#000" stroke-width="0.7"/>
<circle cx="484.70" cy="345.42" r="2.1" fill="#f00000" stroke="#000" stroke-width="0.7"/>
<circle cx="489.70" cy="345.00" r="2.1" fill="#f00000" stroke="#000" stroke-width="0.7"/>
<circle cx="487.66" cy="343.85" r="2.1" fill="#f00000" stroke="#000" stroke-width="0.7"/>
<circle cx="485.70" cy="341.80" r="2.1" fill="#f00000" stroke="#000" stroke-width="0.7"/>
<path d="M505.10 367.06L507.60 369.56L505.10 372.06L502.60 369.56Z" fill="#0000b4" stroke="#000" stroke-width="0.7"/>
<path d="M502.60 358.99L505.10 361.49L502.60 363.99L500.10 361.49Z" fill="#0000b4" stroke="#000" stroke-width="0.7"/>
<path d="M505.10 358.19L507.60 360.69L505.10 363.19L502.60 360.69Z" fill="#0000b4" stroke="#000" stroke-width="0.7"/>
<path d="M509.10 356.13L511.60 358.63L509.10 361.13L506.60 358.63Z" fill="#0000b4" stroke="#000" stroke-width="0.7"/>
<path d="M503.60 355.94L506.10 358.44L503.60 360.94L501.10 358.44Z" fill="#0000b4" stroke="#000" stroke-width="0.7"/>
<path d="M506.60 355.40L509.10 357.90L506.60 360.40L504.10 357.90Z" fill="#0000b4" stroke="#000" stroke-width="0.7"/>
<path d="M505.10 353.26L507.60 355.76L505.10 358.26L502.60 355.76Z" fill="#0000b4" stroke="#000" stroke-width="0.7"/>
<path d="M503.60 351.10L506.10 353.60L503.60 356.10L501.10 353.60Z" fill="#0000b4" stroke="#000" stroke-width="0.7"/>
<path d="M506.60 350.81L509.10 353.31L506.60 355.81L504.10 353.31Z" fill="#0000b4" stroke="#000" stroke-width="0.7"/>
<path d="M505.10 348.43L507.60 350.93L505.10 353.43L502.60 350.93Z" fill="#0000b4" stroke="#000" stroke-width="0.7"/>
<path d="M508.48 346.17L510.98 348.67L508.48 351.17L505.98 348.67Z" fill="#0000b4" stroke="#000" stroke-width="0.7"/>
<path d="M502.60 346.15L505.10 348.65L502.60 351.15L500.10 348.65Z" fill="#0000b4" stroke="#000" stroke-width="0.7"/>
<path d="M508.10 345.17L510.60 347.67L508.10 350.17L505.60 347.67Z" fill="#0000b4" stroke="#000" stroke-width="0.7"/>
<path d="M505.10 344.53L507.60 347.03L505.10 349.53L502.60 347.03Z" fill="#0000b4" stroke="#000" stroke-width="0.7"/>
<path d="M502.60 342.91L505.10 345.41L502.60 347.91L500.10 345.41Z" fill="#0000b4" stroke="#000" stroke-width="0.7"/>
<path d="M509.60 342.77L512.10 345.27L509.60 347.77L507.10 345.27Z" fill="#0000b4" stroke="#000" stroke-width="0.7"/>
<path d="M505.10 341.32L507.60 343.82L505.10 346.32L502.60 343.82Z" fill="#0000b4" stroke="#000" stroke-width="0.7"/>
<path d="M502.60 340.11L505.10 342.61L502.60 345.11L500.10 342.61Z" fill="#0000b4" stroke="#000" stroke-width="0.7"/>
<path d="M506.60 339.10L509.10 341.60L506.60 344.10L504.10 341.60Z" fill="#0000b4" stroke="#000" stroke-width="0.7"/>
<path d="M509.60 339.04L512.10 341.54L509.60 344.04L507.10 341.54Z" fill="#0000b4" stroke="#000" stroke-width="0.7"/>
<path d="M505.90 338.50L508.40 341.00L505.90 343.50L503.40 341.00Z" fill="#0000b4" stroke="#000" stroke-width="0.7"/>
<path d="M501.10 337.79L503.60 340.29L501.10 342.79L498.60 340.29Z" fill="#0000b4" stroke="#000" stroke-width="0.7"/>
<path d="M507.41 337.13L509.91 339.63L507.41 342.13L504.91 339.63Z" fill="#0000b4" stroke="#000" stroke-width="0.7"/>
<path d="M503.60 336.87L506.10 339.37L503.60 341.87L501.10 339.37Z" fill="#0000b4" stroke="#000" stroke-width="0.7"/>
<path d="M501.19 335.74L503.69 338.24L501.19 340.74L498.69 338.24Z" fill="#0000b4" stroke="#000" stroke-width="0.7"/>
<path d="M509.60 335.68L512.10 338.18L509.60 340.68L507.10 338.18Z" fill="#0000b4" stroke="#000" stroke-width="0.7"/>
<path d="M505.10 331.49L507.60 333.99L505.10 336.49L502.60 333.99Z" fill="#0000b4" stroke="#000" stroke-width="0.7"/>
<path d="M503.60 329.19L506.10 331.69L503.60 334.19L501.10 331.69Z" fill="#0000b4" stroke="#000" stroke-width="0.7"/>
<line x1="496.15" y1="421.20" x2="496.15" y2="424.70" stroke="#000" stroke-width="1.3" stroke-linecap="butt"/>
<text x="497.65" y="434.70" font-size="7.4" text-anchor="middle" fill="#000" transform="rotate(-45 497.65 434.70)">8</text>
<circle cx="535.15" cy="421.20" r="2.1" fill="#f00000" stroke="#000" stroke-width="0.7"/>
<circle cx="538.15" cy="421.20" r="2.1" fill="#f00000" stroke="#000" stroke-width="0.7"/>
<circle cx="532.15" cy="421.20" r="2.1" fill="#f00000" stroke="#000" stroke-width="0.7"/>
<circle cx="535.59" cy="421.20" r="2.1" fill="#f00000" stroke="#000" stroke-width="0.7"/>
<circle cx="535.15" cy="395.95" r="2.1" fill="#f00000" stroke="#000" stroke-width="0.7"/>
<circle cx="535.15" cy="386.77" r="2.1" fill="#f00000" stroke="#000" stroke-width="0.7"/>
<circle cx="535.15" cy="379.89" r="2.1" fill="#f00000" stroke="#000" stroke-width="0.7"/>
<circle cx="535.15" cy="373.00" r="2.1" fill="#f00000" stroke="#000" stroke-width="0.7"/>
<circle cx="536.65" cy="368.41" r="2.1" fill="#f00000" stroke="#000" stroke-width="0.7"/>
<circle cx="535.15" cy="366.21" r="2.1" fill="#f00000" stroke="#000" stroke-width="0.7"/>
<circle cx="535.15" cy="363.15" r="2.1" fill="#f00000" stroke="#000" stroke-width="0.7"/>
<circle cx="532.65" cy="362.25" r="2.1" fill="#f00000" stroke="#000" stroke-width="0.7"/>
<circle cx="537.65" cy="362.06" r="2.1" fill="#f00000" stroke="#000" stroke-width="0.7"/>
<circle cx="532.17" cy="361.23" r="2.1" fill="#f00000" stroke="#000" stroke-width="0.7"/>
<circle cx="530.99" cy="360.60" r="2.1" fill="#f00000" stroke="#000" stroke-width="0.7"/>
<circle cx="535.15" cy="359.37" r="2.1" fill="#f00000" stroke="#000" stroke-width="0.7"/>
<circle cx="538.15" cy="358.98" r="2.1" fill="#f00000" stroke="#000" stroke-width="0.7"/>
<circle cx="532.65" cy="358.09" r="2.1" fill="#f00000" stroke="#000" stroke-width="0.7"/>
<circle cx="534.34" cy="357.96" r="2.1" fill="#f00000" stroke="#000" stroke-width="0.7"/>
<path d="M553.05 418.70L555.55 421.20L553.05 423.70L550.55 421.20Z" fill="#0000b4" stroke="#000" stroke-width="0.7"/>
<path d="M553.05 378.54L555.55 381.04L553.05 383.54L550.55 381.04Z" fill="#0000b4" stroke="#000" stroke-width="0.7"/>
<path d="M553.05 368.21L555.55 370.71L553.05 373.21L550.55 370.71Z" fill="#0000b4" stroke="#000" stroke-width="0.7"/>
<path d="M551.55 354.85L554.05 357.35L551.55 359.85L549.05 357.35Z" fill="#0000b4" stroke="#000" stroke-width="0.7"/>
<path d="M556.05 352.83L558.55 355.33L556.05 357.83L553.55 355.33Z" fill="#0000b4" stroke="#000" stroke-width="0.7"/>
<path d="M553.05 352.49L555.55 354.99L553.05 357.49L550.55 354.99Z" fill="#0000b4" stroke="#000" stroke-width="0.7"/>
<path d="M556.55 350.20L559.05 352.70L556.55 355.20L554.05 352.70Z" fill="#0000b4" stroke="#000" stroke-width="0.7"/>
<path d="M549.05 349.95L551.55 352.45L549.05 354.95L546.55 352.45Z" fill="#0000b4" stroke="#000" stroke-width="0.7"/>
<path d="M554.06 348.34L556.56 350.84L554.06 353.34L551.56 350.84Z" fill="#0000b4" stroke="#000" stroke-width="0.7"/>
<path d="M551.05 348.09L553.55 350.59L551.05 353.09L548.55 350.59Z" fill="#0000b4" stroke="#000" stroke-width="0.7"/>
<path d="M555.05 347.85L557.55 350.35L555.05 352.85L552.55 350.35Z" fill="#0000b4" stroke="#000" stroke-width="0.7"/>
<path d="M553.05 346.15L555.55 348.65L553.05 351.15L550.55 348.65Z" fill="#0000b4" stroke="#000" stroke-width="0.7"/>
<path d="M555.05 344.31L557.55 346.81L555.05 349.31L552.55 346.81Z" fill="#0000b4" stroke="#000" stroke-width="0.7"/>
<path d="M551.55 343.84L554.05 346.34L551.55 348.84L549.05 346.34Z" fill="#0000b4" stroke="#000" stroke-width="0.7"/>
<path d="M548.55 343.75L551.05 346.25L548.55 348.75L546.05 346.25Z" fill="#0000b4" stroke="#000" stroke-width="0.7"/>
<path d="M557.55 343.26L560.05 345.76L557.55 348.26L555.05 345.76Z" fill="#0000b4" stroke="#000" stroke-width="0.7"/>
<path d="M551.76 343.04L554.26 345.54L551.76 348.04L549.26 345.54Z" fill="#0000b4" stroke="#000" stroke-width="0.7"/>
<path d="M551.98 342.77L554.48 345.27L551.98 347.77L549.48 345.27Z" fill="#0000b4" stroke="#000" stroke-width="0.7"/>
<path d="M554.28 342.28L556.78 344.78L554.28 347.28L551.78 344.78Z" fill="#0000b4" stroke="#000" stroke-width="0.7"/>
<path d="M550.05 340.84L552.55 343.34L550.05 345.84L547.55 343.34Z" fill="#0000b4" stroke="#000" stroke-width="0.7"/>
<path d="M553.05 338.73L555.55 341.23L553.05 343.73L550.55 341.23Z" fill="#0000b4" stroke="#000" stroke-width="0.7"/>
<path d="M556.05 338.73L558.55 341.23L556.05 343.73L553.55 341.23Z" fill="#0000b4" stroke="#000" stroke-width="0.7"/>
<path d="M549.05 338.43L551.55 340.93L549.05 343.43L546.55 340.93Z" fill="#0000b4" stroke="#000" stroke-width="0.7"/>
<path d="M553.53 338.05L556.03 340.55L553.53 343.05L551.03 340.55Z" fill="#0000b4" stroke="#000" stroke-width="0.7"/>
<line x1="544.10" y1="421.20" x2="544.10" y2="424.70" stroke="#000" stroke-width="1.3" stroke-linecap="butt"/>
<text x="545.60" y="434.70" font-size="7.4" text-anchor="middle" fill="#000" transform="rotate(-45 545.60 434.70)">10</text>
<circle cx="583.10" cy="421.20" r="2.1" fill="#f00000" stroke="#000" stroke-width="0.7"/>
<circle cx="586.10" cy="421.20" r="2.1" fill="#f00000" stroke="#000" stroke-width="0.7"/>
<circle cx="580.10" cy="421.20" r="2.1" fill="#f00000" stroke="#000" stroke-width="0.7"/>
<circle cx="584.66" cy="421.20" r="2.1" fill="#f00000" stroke="#000" stroke-width="0.7"/>
<circle cx="579.99" cy="421.20" r="2.1" fill="#f00000" stroke="#000" stroke-width="0.7"/>
<circle cx="581.60" cy="405.13" r="2.1" fill="#f00000" stroke="#000" stroke-width="0.7"/>
<circle cx="583.10" cy="402.84" r="2.1" fill="#f00000" stroke="#000" stroke-width="0.7"/>
<circle cx="581.60" cy="398.25" r="2.1" fill="#f00000" stroke="#000" stroke-width="0.7"/>
<circle cx="583.10" cy="395.95" r="2.1" fill="#f00000" stroke="#000" stroke-width="0.7"/>
<circle cx="581.60" cy="393.66" r="2.1" fill="#f00000" stroke="#000" stroke-width="0.7"/>
<circle cx="583.10" cy="391.37" r="2.1" fill="#f00000" stroke="#000" stroke-width="0.7"/>
<circle cx="584.60" cy="389.07" r="2.1" fill="#f00000" stroke="#000" stroke-width="0.7"/>
<circle cx="583.10" cy="386.77" r="2.1" fill="#f00000" stroke="#000" stroke-width="0.7"/>
<circle cx="584.60" cy="384.48" r="2.1" fill="#f00000" stroke="#000" stroke-width="0.7"/>
<circle cx="583.10" cy="373.06" r="2.1" fill="#f00000" stroke="#000" stroke-width="0.7"/>
<circle cx="585.60" cy="372.07" r="2.1" fill="#f00000" stroke="#000" stroke-width="0.7"/>
<circle cx="580.60" cy="371.71" r="2.1" fill="#f00000" stroke="#000" stroke-width="0.7"/>
<circle cx="585.81" cy="371.54" r="2.1" fill="#f00000" stroke="#000" stroke-width="0.7"/>
<circle cx="583.10" cy="366.77" r="2.1" fill="#f00000" stroke="#000" stroke-width="0.7"/>
<circle cx="585.60" cy="365.74" r="2.1" fill="#f00000" stroke="#000" stroke-width="0.7"/>
<circle cx="580.60" cy="365.72" r="2.1" fill="#f00000" stroke="#000" stroke-width="0.7"/>
<circle cx="586.81" cy="365.33" r="2.1" fill="#f00000" stroke="#000" stroke-width="0.7"/>
<path d="M601.00 418.70L603.50 421.20L601.00 423.70L598.50 421.20Z" fill="#0000b4" stroke="#000" stroke-width="0.7"/>
<path d="M598.00 418.70L600.50 421.20L598.00 423.70L595.50 421.20Z" fill="#0000b4" stroke="#000" stroke-width="0.7"/>
<path d="M601.00 377.39L603.50 379.89L601.00 382.39L598.50 379.89Z" fill="#0000b4" stroke="#000" stroke-width="0.7"/>
<path d="M601.00 370.50L603.50 373.00L601.00 375.50L598.50 373.00Z" fill="#0000b4" stroke="#000" stroke-width="0.7"/>
<path d="M601.00 363.27L603.50 365.77L601.00 368.27L598.50 365.77Z" fill="#0000b4" stroke="#000" stroke-width="0.7"/>
<path d="M603.50 361.16L606.00 363.66L603.50 366.16L601.00 363.66Z" fill="#0000b4" stroke="#000" stroke-width="0.7"/>
<path d="M598.00 360.29L600.50 362.79L598.00 365.29L595.50 362.79Z" fill="#0000b4" stroke="#000" stroke-width="0.7"/>
<path d="M601.00 359.94L603.50 362.44L601.00 364.94L598.50 362.44Z" fill="#0000b4" stroke="#000" stroke-width="0.7"/>
<path d="M605.50 358.78L608.00 361.28L605.50 363.78L603.00 361.28Z" fill="#0000b4" stroke="#000" stroke-width="0.7"/>
<path d="M596.50 357.97L599.00 360.47L596.50 362.97L594.00 360.47Z" fill="#0000b4" stroke="#000" stroke-width="0.7"/>
<path d="M599.50 357.35L602.00 359.85L599.50 362.35L597.00 359.85Z" fill="#0000b4" stroke="#000" stroke-width="0.7"/>
<path d="M603.25 356.96L605.75 359.46L603.25 361.96L600.75 359.46Z" fill="#0000b4" stroke="#000" stroke-width="0.7"/>
<path d="M604.00 355.45L606.50 357.95L604.00 360.45L601.50 357.95Z" fill="#0000b4" stroke="#000" stroke-width="0.7"/>
<path d="M601.00 355.33L603.50 357.83L601.00 360.33L598.50 357.83Z" fill="#0000b4" stroke="#000" stroke-width="0.7"/>
<path d="M598.00 355.24L600.50 357.74L598.00 360.24L595.50 357.74Z" fill="#0000b4" stroke="#000" stroke-width="0.7"/>
<path d="M604.54 354.25L607.04 356.75L604.54 359.25L602.04 356.75Z" fill="#0000b4" stroke="#000" stroke-width="0.7"/>
<path d="M603.59 353.22L606.09 355.72L603.59 358.22L601.09 355.72Z" fill="#0000b4" stroke="#000" stroke-width="0.7"/>
<path d="M601.00 350.18L603.50 352.68L601.00 355.18L598.50 352.68Z" fill="#0000b4" stroke="#000" stroke-width="0.7"/>
<path d="M598.00 349.91L600.50 352.41L598.00 354.91L595.50 352.41Z" fill="#0000b4" stroke="#000" stroke-width="0.7"/>
<path d="M603.50 349.38L606.00 351.88L603.50 354.38L601.00 351.88Z" fill="#0000b4" stroke="#000" stroke-width="0.7"/>
<path d="M601.00 346.98L603.50 349.48L601.00 351.98L598.50 349.48Z" fill="#0000b4" stroke="#000" stroke-width="0.7"/>
<path d="M598.50 346.19L601.00 348.69L598.50 351.19L596.00 348.69Z" fill="#0000b4" stroke="#000" stroke-width="0.7"/>
<path d="M602.00 344.44L604.50 346.94L602.00 349.44L599.50 346.94Z" fill="#0000b4" stroke="#000" stroke-width="0.7"/>
<path d="M605.00 344.41L607.50 346.91L605.00 349.41L602.50 346.91Z" fill="#0000b4" stroke="#000" stroke-width="0.7"/>
<path d="M599.50 343.43L602.00 345.93L599.50 348.43L597.00 345.93Z" fill="#0000b4" stroke="#000" stroke-width="0.7"/>
<path d="M597.00 342.35L599.50 344.85L597.00 347.35L594.50 344.85Z" fill="#0000b4" stroke="#000" stroke-width="0.7"/>
<path d="M603.50 342.26L606.00 344.76L603.50 347.26L601.00 344.76Z" fill="#0000b4" stroke="#000" stroke-width="0.7"/>
<line x1="592.05" y1="421.20" x2="592.05" y2="424.70" stroke="#000" stroke-width="1.3" stroke-linecap="butt"/>
<text x="593.55" y="434.70" font-size="7.4" text-anchor="middle" fill="#000" transform="rotate(-45 593.55 434.70)">12</text>
<circle cx="631.05" cy="421.20" r="2.1" fill="#f00000" stroke="#000" stroke-width="0.7"/>
<circle cx="628.05" cy="421.20" r="2.1" fill="#f00000" stroke="#000" stroke-width="0.7"/>
<circle cx="634.05" cy="421.20" r="2.1" fill="#f00000" stroke="#000" stroke-width="0.7"/>
<circle cx="632.70" cy="421.20" r="2.1" fill="#f00000" stroke="#000" stroke-width="0.7"/>
<circle cx="631.05" cy="421.20" r="2.1" fill="#f00000" stroke="#000" stroke-width="0.7"/>
<circle cx="634.05" cy="406.28" r="2.1" fill="#f00000" stroke="#000" stroke-width="0.7"/>
<circle cx="630.05" cy="405.13" r="2.1" fill="#f00000" stroke="#000" stroke-width="0.7"/>
<circle cx="632.55" cy="403.99" r="2.1" fill="#f00000" stroke="#000" stroke-width="0.7"/>
<circle cx="628.55" cy="402.84" r="2.1" fill="#f00000" stroke="#000" stroke-width="0.7"/>
<circle cx="631.05" cy="401.69" r="2.1" fill="#f00000" stroke="#000" stroke-width="0.7"/>
<circle cx="633.55" cy="400.55" r="2.1" fill="#f00000" stroke="#000" stroke-width="0.7"/>
<circle cx="629.55" cy="399.40" r="2.1" fill="#f00000" stroke="#000" stroke-width="0.7"/>
<circle cx="632.05" cy="398.25" r="2.1" fill="#f00000" stroke="#000" stroke-width="0.7"/>
<circle cx="628.05" cy="397.10" r="2.1" fill="#f00000" stroke="#000" stroke-width="0.7"/>
<circle cx="631.05" cy="394.81" r="2.1" fill="#f00000" stroke="#000" stroke-width="0.7"/>
<circle cx="632.55" cy="392.51" r="2.1" fill="#f00000" stroke="#000" stroke-width="0.7"/>
<circle cx="631.05" cy="390.22" r="2.1" fill="#f00000" stroke="#000" stroke-width="0.7"/>
<circle cx="631.05" cy="384.48" r="2.1" fill="#f00000" stroke="#000" stroke-width="0.7"/>
<circle cx="631.05" cy="377.59" r="2.1" fill="#f00000" stroke="#000" stroke-width="0.7"/>
<path d="M648.95 418.70L651.45 421.20L648.95 423.70L646.45 421.20Z" fill="#0000b4" stroke="#000" stroke-width="0.7"/>
<path d="M645.95 418.70L648.45 421.20L645.95 423.70L643.45 421.20Z" fill="#0000b4" stroke="#000" stroke-width="0.7"/>
<path d="M648.95 388.87L651.45 391.37L648.95 393.87L646.45 391.37Z" fill="#0000b4" stroke="#000" stroke-width="0.7"/>
<path d="M648.95 384.27L651.45 386.77L648.95 389.27L646.45 386.77Z" fill="#0000b4" stroke="#000" stroke-width="0.7"/>
<path d="M648.95 377.39L651.45 379.89L648.95 382.39L646.45 379.89Z" fill="#0000b4" stroke="#000" stroke-width="0.7"/>
<path d="M651.95 372.14L654.45 374.64L651.95 377.14L649.45 374.64Z" fill="#0000b4" stroke="#000" stroke-width="0.7"/>
<path d="M645.95 371.64L648.45 374.14L645.95 376.64L643.45 374.14Z" fill="#0000b4" stroke="#000" stroke-width="0.7"/>
<path d="M648.95 371.57L651.45 374.07L648.95 376.57L646.45 374.07Z" fill="#0000b4" stroke="#000" stroke-width="0.7"/>
<path d="M650.95 369.71L653.45 372.21L650.95 374.71L648.45 372.21Z" fill="#0000b4" stroke="#000" stroke-width="0.7"/>
<path d="M648.95 367.62L651.45 370.12L648.95 372.62L646.45 370.12Z" fill="#0000b4" stroke="#000" stroke-width="0.7"/>
<path d="M652.95 365.55L655.45 368.05L652.95 370.55L650.45 368.05Z" fill="#0000b4" stroke="#000" stroke-width="0.7"/>
<path d="M647.45 365.08L649.95 367.58L647.45 370.08L644.95 367.58Z" fill="#0000b4" stroke="#000" stroke-width="0.7"/>
<path d="M650.45 364.80L652.95 367.30L650.45 369.80L647.95 367.30Z" fill="#0000b4" stroke="#000" stroke-width="0.7"/>
<path d="M648.95 362.66L651.45 365.16L648.95 367.66L646.45 365.16Z" fill="#0000b4" stroke="#000" stroke-width="0.7"/>
<path d="M648.95 359.37L651.45 361.87L648.95 364.37L646.45 361.87Z" fill="#0000b4" stroke="#000" stroke-width="0.7"/>
<path d="M645.95 359.28L648.45 361.78L645.95 364.28L643.45 361.78Z" fill="#0000b4" stroke="#000" stroke-width="0.7"/>
<path d="M651.95 358.87L654.45 361.37L651.95 363.87L649.45 361.37Z" fill="#0000b4" stroke="#000" stroke-width="0.7"/>
<path d="M648.95 355.31L651.45 357.81L648.95 360.31L646.45 357.81Z" fill="#0000b4" stroke="#000" stroke-width="0.7"/>
<path d="M651.45 354.08L653.95 356.58L651.45 359.08L648.95 356.58Z" fill="#0000b4" stroke="#000" stroke-width="0.7"/>
<path d="M647.45 353.15L649.95 355.65L647.45 358.15L644.95 355.65Z" fill="#0000b4" stroke="#000" stroke-width="0.7"/>
<path d="M644.45 353.10L646.95 355.60L644.45 358.10L641.95 355.60Z" fill="#0000b4" stroke="#000" stroke-width="0.7"/>
<path d="M653.15 352.93L655.65 355.43L653.15 357.93L650.65 355.43Z" fill="#0000b4" stroke="#000" stroke-width="0.7"/>
<path d="M653.12 352.73L655.62 355.23L653.12 357.73L650.62 355.23Z" fill="#0000b4" stroke="#000" stroke-width="0.7"/>
<path d="M648.95 350.48L651.45 352.98L648.95 355.48L646.45 352.98Z" fill="#0000b4" stroke="#000" stroke-width="0.7"/>
<path d="M650.95 348.39L653.45 350.89L650.95 353.39L648.45 350.89Z" fill="#0000b4" stroke="#000" stroke-width="0.7"/>
<path d="M648.95 345.06L651.45 347.56L648.95 350.06L646.45 347.56Z" fill="#0000b4" stroke="#000" stroke-width="0.7"/>
<path d="M645.95 345.01L648.45 347.51L645.95 350.01L643.45 347.51Z" fill="#0000b4" stroke="#000" stroke-width="0.7"/>
<line x1="640.00" y1="421.20" x2="640.00" y2="424.70" stroke="#000" stroke-width="1.3" stroke-linecap="butt"/>
<text x="641.50" y="434.70" font-size="7.4" text-anchor="middle" fill="#000" transform="rotate(-45 641.50 434.70)">14</text>
<line x1="345.30" y1="291.50" x2="362.50" y2="291.50" stroke="#000" stroke-width="1.0" stroke-linecap="butt"/>
<text x="353.90" y="286.90" font-size="8.6" text-anchor="middle" fill="#000">N.S.</text>
<line x1="390.70" y1="303.50" x2="408.20" y2="303.50" stroke="#000" stroke-width="1.0" stroke-linecap="butt"/>
<text x="399.45" y="298.90" font-size="8.6" text-anchor="middle" fill="#000">N.S.</text>
<line x1="439.00" y1="316.00" x2="457.00" y2="316.00" stroke="#000" stroke-width="1.0" stroke-linecap="butt"/>
<text x="448.00" y="311.90" font-size="9.3" text-anchor="middle" fill="#000">****</text>
<line x1="488.00" y1="321.20" x2="506.00" y2="321.20" stroke="#000" stroke-width="1.0" stroke-linecap="butt"/>
<text x="497.00" y="317.10" font-size="9.3" text-anchor="middle" fill="#000">**</text>
<line x1="535.60" y1="323.20" x2="554.00" y2="323.20" stroke="#000" stroke-width="1.0" stroke-linecap="butt"/>
<text x="544.80" y="319.10" font-size="9.3" text-anchor="middle" fill="#000">**</text>
<line x1="586.00" y1="329.60" x2="603.70" y2="329.60" stroke="#000" stroke-width="1.0" stroke-linecap="butt"/>
<text x="594.85" y="325.50" font-size="9.3" text-anchor="middle" fill="#000">***</text>
<line x1="632.60" y1="332.80" x2="650.60" y2="332.80" stroke="#000" stroke-width="1.0" stroke-linecap="butt"/>
<text x="641.60" y="328.70" font-size="9.3" text-anchor="middle" fill="#000">****</text>
<text x="297.50" y="352.00" font-size="8.6" text-anchor="middle" fill="#000" transform="rotate(-90 297.50 352.00)">Pharyngeal Pumping Rate</text>
<text x="308.50" y="352.00" font-size="8.6" text-anchor="middle" fill="#000" transform="rotate(-90 308.50 352.00)">(pump / 30 s)</text>
<text x="497.00" y="451.70" font-size="8.6" text-anchor="middle" fill="#000">Time (Days)</text>
<text x="293.70" y="493.00" font-size="15" text-anchor="start" fill="#000">h</text>
<rect x="346.50" y="494.20" width="11.00" height="5.30" fill="#0000cc"/>
<text x="363.70" y="500.10" font-size="8.6" text-anchor="start" fill="#000">Normal locomotion</text>
<rect x="346.50" y="511.00" width="11.00" height="5.30" fill="#ff8000"/>
<text x="363.70" y="516.90" font-size="8.6" text-anchor="start" fill="#000">Uncoordinated / Sluggish</text>
<rect x="516.00" y="494.20" width="11.00" height="5.30" fill="#00c000"/>
<text x="533.30" y="500.10" font-size="8.6" text-anchor="start" fill="#000">Cannot move body</text>
<rect x="516.00" y="511.00" width="11.00" height="5.30" fill="#ff0000"/>
<text x="533.30" y="516.90" font-size="8.6" text-anchor="start" fill="#000">Dead</text>
<rect x="338.60" y="600.90" width="18.50" height="61.30" fill="#0000cc"/>
<rect x="338.60" y="565.96" width="18.50" height="34.94" fill="#ff8000"/>
<rect x="338.60" y="545.73" width="18.50" height="20.23" fill="#00c000"/>
<rect x="338.60" y="539.60" width="18.50" height="6.13" fill="#ff0000"/>
<line x1="347.85" y1="600.90" x2="347.85" y2="595.38" stroke="#000" stroke-width="1.35" stroke-linecap="butt"/>
<line x1="343.55" y1="595.38" x2="352.15" y2="595.38" stroke="#000" stroke-width="1.35" stroke-linecap="butt"/>
<line x1="347.85" y1="565.96" x2="347.85" y2="554.31" stroke="#000" stroke-width="1.35" stroke-linecap="butt"/>
<line x1="343.55" y1="554.31" x2="352.15" y2="554.31" stroke="#000" stroke-width="1.35" stroke-linecap="butt"/>
<line x1="347.85" y1="545.73" x2="347.85" y2="541.44" stroke="#000" stroke-width="1.35" stroke-linecap="butt"/>
<line x1="343.55" y1="541.44" x2="352.15" y2="541.44" stroke="#000" stroke-width="1.35" stroke-linecap="butt"/>
<line x1="347.85" y1="539.60" x2="347.85" y2="537.15" stroke="#000" stroke-width="1.35" stroke-linecap="butt"/>
<line x1="343.55" y1="537.15" x2="352.15" y2="537.15" stroke="#000" stroke-width="1.35" stroke-linecap="butt"/>
<rect x="368.10" y="567.19" width="18.50" height="95.01" fill="#0000cc"/>
<rect x="368.10" y="548.80" width="18.50" height="18.39" fill="#ff8000"/>
<rect x="368.10" y="539.60" width="18.50" height="9.20" fill="#00c000"/>
<line x1="377.35" y1="567.19" x2="377.35" y2="561.67" stroke="#000" stroke-width="1.35" stroke-linecap="butt"/>
<line x1="373.05" y1="561.67" x2="381.65" y2="561.67" stroke="#000" stroke-width="1.35" stroke-linecap="butt"/>
<line x1="377.35" y1="548.80" x2="377.35" y2="542.05" stroke="#000" stroke-width="1.35" stroke-linecap="butt"/>
<line x1="373.05" y1="542.05" x2="381.65" y2="542.05" stroke="#000" stroke-width="1.35" stroke-linecap="butt"/>
<line x1="377.35" y1="539.60" x2="377.35" y2="534.70" stroke="#000" stroke-width="1.35" stroke-linecap="butt"/>
<line x1="373.05" y1="534.70" x2="381.65" y2="534.70" stroke="#000" stroke-width="1.35" stroke-linecap="butt"/>
<rect x="397.60" y="630.94" width="18.50" height="31.26" fill="#0000cc"/>
<rect x="397.60" y="602.74" width="18.50" height="28.20" fill="#ff8000"/>
<rect x="397.60" y="553.70" width="18.50" height="49.04" fill="#00c000"/>
<rect x="397.60" y="539.60" width="18.50" height="14.10" fill="#ff0000"/>
<line x1="406.85" y1="630.94" x2="406.85" y2="623.58" stroke="#000" stroke-width="1.35" stroke-linecap="butt"/>
<line x1="402.55" y1="623.58" x2="411.15" y2="623.58" stroke="#000" stroke-width="1.35" stroke-linecap="butt"/>
<line x1="406.85" y1="602.74" x2="406.85" y2="599.67" stroke="#000" stroke-width="1.35" stroke-linecap="butt"/>
<line x1="402.55" y1="599.67" x2="411.15" y2="599.67" stroke="#000" stroke-width="1.35" stroke-linecap="butt"/>
<line x1="406.85" y1="553.70" x2="406.85" y2="550.02" stroke="#000" stroke-width="1.35" stroke-linecap="butt"/>
<line x1="402.55" y1="550.02" x2="411.15" y2="550.02" stroke="#000" stroke-width="1.35" stroke-linecap="butt"/>
<line x1="406.85" y1="539.60" x2="406.85" y2="531.63" stroke="#000" stroke-width="1.35" stroke-linecap="butt"/>
<line x1="402.55" y1="531.63" x2="411.15" y2="531.63" stroke="#000" stroke-width="1.35" stroke-linecap="butt"/>
<rect x="427.10" y="607.03" width="18.50" height="55.17" fill="#0000cc"/>
<rect x="427.10" y="578.83" width="18.50" height="28.20" fill="#ff8000"/>
<rect x="427.10" y="552.47" width="18.50" height="26.36" fill="#00c000"/>
<rect x="427.10" y="539.60" width="18.50" height="12.87" fill="#ff0000"/>
<line x1="436.35" y1="607.03" x2="436.35" y2="601.51" stroke="#000" stroke-width="1.35" stroke-linecap="butt"/>
<line x1="432.05" y1="601.51" x2="440.65" y2="601.51" stroke="#000" stroke-width="1.35" stroke-linecap="butt"/>
<line x1="436.35" y1="578.83" x2="436.35" y2="576.38" stroke="#000" stroke-width="1.35" stroke-linecap="butt"/>
<line x1="432.05" y1="576.38" x2="440.65" y2="576.38" stroke="#000" stroke-width="1.35" stroke-linecap="butt"/>
<line x1="436.35" y1="552.47" x2="436.35" y2="548.18" stroke="#000" stroke-width="1.35" stroke-linecap="butt"/>
<line x1="432.05" y1="548.18" x2="440.65" y2="548.18" stroke="#000" stroke-width="1.35" stroke-linecap="butt"/>
<line x1="436.35" y1="539.60" x2="436.35" y2="534.70" stroke="#000" stroke-width="1.35" stroke-linecap="butt"/>
<line x1="432.05" y1="534.70" x2="440.65" y2="534.70" stroke="#000" stroke-width="1.35" stroke-linecap="butt"/>
<rect x="456.60" y="650.25" width="18.50" height="11.95" fill="#0000cc"/>
<rect x="456.60" y="616.53" width="18.50" height="33.72" fill="#ff8000"/>
<rect x="456.60" y="578.22" width="18.50" height="38.31" fill="#00c000"/>
<rect x="456.60" y="539.60" width="18.50" height="38.62" fill="#ff0000"/>
<line x1="465.85" y1="650.25" x2="465.85" y2="644.42" stroke="#000" stroke-width="1.35" stroke-linecap="butt"/>
<line x1="461.55" y1="644.42" x2="470.15" y2="644.42" stroke="#000" stroke-width="1.35" stroke-linecap="butt"/>
<line x1="465.85" y1="616.53" x2="465.85" y2="608.56" stroke="#000" stroke-width="1.35" stroke-linecap="butt"/>
<line x1="461.55" y1="608.56" x2="470.15" y2="608.56" stroke="#000" stroke-width="1.35" stroke-linecap="butt"/>
<line x1="465.85" y1="578.22" x2="465.85" y2="569.64" stroke="#000" stroke-width="1.35" stroke-linecap="butt"/>
<line x1="461.55" y1="569.64" x2="470.15" y2="569.64" stroke="#000" stroke-width="1.35" stroke-linecap="butt"/>
<line x1="465.85" y1="539.60" x2="465.85" y2="524.89" stroke="#000" stroke-width="1.35" stroke-linecap="butt"/>
<line x1="461.55" y1="524.89" x2="470.15" y2="524.89" stroke="#000" stroke-width="1.35" stroke-linecap="butt"/>
<rect x="486.10" y="623.89" width="18.50" height="38.31" fill="#0000cc"/>
<rect x="486.10" y="592.93" width="18.50" height="30.96" fill="#ff8000"/>
<rect x="486.10" y="557.68" width="18.50" height="35.25" fill="#00c000"/>
<rect x="486.10" y="539.60" width="18.50" height="18.08" fill="#ff0000"/>
<line x1="495.35" y1="623.89" x2="495.35" y2="612.85" stroke="#000" stroke-width="1.35" stroke-linecap="butt"/>
<line x1="491.05" y1="612.85" x2="499.65" y2="612.85" stroke="#000" stroke-width="1.35" stroke-linecap="butt"/>
<line x1="495.35" y1="592.93" x2="495.35" y2="590.17" stroke="#000" stroke-width="1.35" stroke-linecap="butt"/>
<line x1="491.05" y1="590.17" x2="499.65" y2="590.17" stroke="#000" stroke-width="1.35" stroke-linecap="butt"/>
<line x1="495.35" y1="557.68" x2="495.35" y2="550.33" stroke="#000" stroke-width="1.35" stroke-linecap="butt"/>
<line x1="491.05" y1="550.33" x2="499.65" y2="550.33" stroke="#000" stroke-width="1.35" stroke-linecap="butt"/>
<line x1="495.35" y1="539.60" x2="495.35" y2="526.42" stroke="#000" stroke-width="1.35" stroke-linecap="butt"/>
<line x1="491.05" y1="526.42" x2="499.65" y2="526.42" stroke="#000" stroke-width="1.35" stroke-linecap="butt"/>
<rect x="515.60" y="660.05" width="18.50" height="2.15" fill="#0000cc"/>
<rect x="515.60" y="630.02" width="18.50" height="30.04" fill="#ff8000"/>
<rect x="515.60" y="602.13" width="18.50" height="27.89" fill="#00c000"/>
<rect x="515.60" y="539.60" width="18.50" height="62.53" fill="#ff0000"/>
<line x1="524.85" y1="660.05" x2="524.85" y2="655.76" stroke="#000" stroke-width="1.35" stroke-linecap="butt"/>
<line x1="520.55" y1="655.76" x2="529.15" y2="655.76" stroke="#000" stroke-width="1.35" stroke-linecap="butt"/>
<line x1="524.85" y1="630.02" x2="524.85" y2="621.74" stroke="#000" stroke-width="1.35" stroke-linecap="butt"/>
<line x1="520.55" y1="621.74" x2="529.15" y2="621.74" stroke="#000" stroke-width="1.35" stroke-linecap="butt"/>
<line x1="524.85" y1="602.13" x2="524.85" y2="585.27" stroke="#000" stroke-width="1.35" stroke-linecap="butt"/>
<line x1="520.55" y1="585.27" x2="529.15" y2="585.27" stroke="#000" stroke-width="1.35" stroke-linecap="butt"/>
<line x1="524.85" y1="539.60" x2="524.85" y2="526.73" stroke="#000" stroke-width="1.35" stroke-linecap="butt"/>
<line x1="520.55" y1="526.73" x2="529.15" y2="526.73" stroke="#000" stroke-width="1.35" stroke-linecap="butt"/>
<rect x="545.10" y="632.78" width="18.50" height="29.42" fill="#0000cc"/>
<rect x="545.10" y="593.85" width="18.50" height="38.93" fill="#ff8000"/>
<rect x="545.10" y="568.10" width="18.50" height="25.75" fill="#00c000"/>
<rect x="545.10" y="539.60" width="18.50" height="28.50" fill="#ff0000"/>
<line x1="554.35" y1="632.78" x2="554.35" y2="626.03" stroke="#000" stroke-width="1.35" stroke-linecap="butt"/>
<line x1="550.05" y1="626.03" x2="558.65" y2="626.03" stroke="#000" stroke-width="1.35" stroke-linecap="butt"/>
<line x1="554.35" y1="593.85" x2="554.35" y2="586.80" stroke="#000" stroke-width="1.35" stroke-linecap="butt"/>
<line x1="550.05" y1="586.80" x2="558.65" y2="586.80" stroke="#000" stroke-width="1.35" stroke-linecap="butt"/>
<line x1="554.35" y1="568.10" x2="554.35" y2="563.81" stroke="#000" stroke-width="1.35" stroke-linecap="butt"/>
<line x1="550.05" y1="563.81" x2="558.65" y2="563.81" stroke="#000" stroke-width="1.35" stroke-linecap="butt"/>
<line x1="554.35" y1="539.60" x2="554.35" y2="529.49" stroke="#000" stroke-width="1.35" stroke-linecap="butt"/>
<line x1="550.05" y1="529.49" x2="558.65" y2="529.49" stroke="#000" stroke-width="1.35" stroke-linecap="butt"/>
<rect x="574.60" y="649.94" width="18.50" height="12.26" fill="#ff8000"/>
<rect x="574.60" y="615.92" width="18.50" height="34.02" fill="#00c000"/>
<rect x="574.60" y="539.60" width="18.50" height="76.32" fill="#ff0000"/>
<line x1="583.85" y1="649.94" x2="583.85" y2="637.99" stroke="#000" stroke-width="1.35" stroke-linecap="butt"/>
<line x1="579.55" y1="637.99" x2="588.15" y2="637.99" stroke="#000" stroke-width="1.35" stroke-linecap="butt"/>
<line x1="583.85" y1="615.92" x2="583.85" y2="607.64" stroke="#000" stroke-width="1.35" stroke-linecap="butt"/>
<line x1="579.55" y1="607.64" x2="588.15" y2="607.64" stroke="#000" stroke-width="1.35" stroke-linecap="butt"/>
<line x1="583.85" y1="539.60" x2="583.85" y2="534.70" stroke="#000" stroke-width="1.35" stroke-linecap="butt"/>
<line x1="579.55" y1="534.70" x2="588.15" y2="534.70" stroke="#000" stroke-width="1.35" stroke-linecap="butt"/>
<rect x="604.10" y="645.04" width="18.50" height="17.16" fill="#0000cc"/>
<rect x="604.10" y="606.11" width="18.50" height="38.93" fill="#ff8000"/>
<rect x="604.10" y="574.23" width="18.50" height="31.88" fill="#00c000"/>
<rect x="604.10" y="539.60" width="18.50" height="34.63" fill="#ff0000"/>
<line x1="613.35" y1="645.04" x2="613.35" y2="639.52" stroke="#000" stroke-width="1.35" stroke-linecap="butt"/>
<line x1="609.05" y1="639.52" x2="617.65" y2="639.52" stroke="#000" stroke-width="1.35" stroke-linecap="butt"/>
<line x1="613.35" y1="606.11" x2="613.35" y2="598.75" stroke="#000" stroke-width="1.35" stroke-linecap="butt"/>
<line x1="609.05" y1="598.75" x2="617.65" y2="598.75" stroke="#000" stroke-width="1.35" stroke-linecap="butt"/>
<line x1="613.35" y1="574.23" x2="613.35" y2="565.96" stroke="#000" stroke-width="1.35" stroke-linecap="butt"/>
<line x1="609.05" y1="565.96" x2="617.65" y2="565.96" stroke="#000" stroke-width="1.35" stroke-linecap="butt"/>
<line x1="613.35" y1="539.60" x2="613.35" y2="519.98" stroke="#000" stroke-width="1.35" stroke-linecap="butt"/>
<line x1="609.05" y1="519.98" x2="617.65" y2="519.98" stroke="#000" stroke-width="1.35" stroke-linecap="butt"/>
<line x1="334.80" y1="538.95" x2="334.80" y2="662.85" stroke="#000" stroke-width="1.3" stroke-linecap="butt"/>
<line x1="331.30" y1="662.20" x2="334.80" y2="662.20" stroke="#000" stroke-width="1.3" stroke-linecap="butt"/>
<text x="329.80" y="664.90" font-size="7.5" text-anchor="end" fill="#000">0</text>
<line x1="331.30" y1="637.68" x2="334.80" y2="637.68" stroke="#000" stroke-width="1.3" stroke-linecap="butt"/>
<text x="329.80" y="640.38" font-size="7.5" text-anchor="end" fill="#000">20</text>
<line x1="331.30" y1="613.16" x2="334.80" y2="613.16" stroke="#000" stroke-width="1.3" stroke-linecap="butt"/>
<text x="329.80" y="615.86" font-size="7.5" text-anchor="end" fill="#000">40</text>
<line x1="331.30" y1="588.64" x2="334.80" y2="588.64" stroke="#000" stroke-width="1.3" stroke-linecap="butt"/>
<text x="329.80" y="591.34" font-size="7.5" text-anchor="end" fill="#000">60</text>
<line x1="331.30" y1="564.12" x2="334.80" y2="564.12" stroke="#000" stroke-width="1.3" stroke-linecap="butt"/>
<text x="329.80" y="566.82" font-size="7.5" text-anchor="end" fill="#000">80</text>
<line x1="331.30" y1="539.60" x2="334.80" y2="539.60" stroke="#000" stroke-width="1.3" stroke-linecap="butt"/>
<text x="329.80" y="542.30" font-size="7.5" text-anchor="end" fill="#000">100</text>
<line x1="334.15" y1="662.20" x2="626.70" y2="662.20" stroke="#000" stroke-width="1.3" stroke-linecap="butt"/>
<line x1="347.85" y1="662.20" x2="347.85" y2="665.70" stroke="#000" stroke-width="1.3" stroke-linecap="butt"/>
<text x="349.85" y="671.20" font-size="8" text-anchor="end" fill="#000" transform="rotate(-45 349.85 671.20)">OP50</text>
<line x1="377.35" y1="662.20" x2="377.35" y2="665.70" stroke="#000" stroke-width="1.3" stroke-linecap="butt"/>
<text x="379.35" y="671.20" font-size="8" text-anchor="end" fill="#000" transform="rotate(-45 379.35 671.20)">OP50+Probio-M9</text>
<line x1="406.85" y1="662.20" x2="406.85" y2="665.70" stroke="#000" stroke-width="1.3" stroke-linecap="butt"/>
<text x="408.85" y="671.20" font-size="8" text-anchor="end" fill="#000" transform="rotate(-45 408.85 671.20)">OP50</text>
<line x1="436.35" y1="662.20" x2="436.35" y2="665.70" stroke="#000" stroke-width="1.3" stroke-linecap="butt"/>
<text x="438.35" y="671.20" font-size="8" text-anchor="end" fill="#000" transform="rotate(-45 438.35 671.20)">OP50+Probio-M9</text>
<line x1="465.85" y1="662.20" x2="465.85" y2="665.70" stroke="#000" stroke-width="1.3" stroke-linecap="butt"/>
<text x="467.85" y="671.20" font-size="8" text-anchor="end" fill="#000" transform="rotate(-45 467.85 671.20)">OP50</text>
<line x1="495.35" y1="662.20" x2="495.35" y2="665.70" stroke="#000" stroke-width="1.3" stroke-linecap="butt"/>
<text x="497.35" y="671.20" font-size="8" text-anchor="end" fill="#000" transform="rotate(-45 497.35 671.20)">OP50+Probio-M9</text>
<line x1="524.85" y1="662.20" x2="524.85" y2="665.70" stroke="#000" stroke-width="1.3" stroke-linecap="butt"/>
<text x="526.85" y="671.20" font-size="8" text-anchor="end" fill="#000" transform="rotate(-45 526.85 671.20)">OP50</text>
<line x1="554.35" y1="662.20" x2="554.35" y2="665.70" stroke="#000" stroke-width="1.3" stroke-linecap="butt"/>
<text x="556.35" y="671.20" font-size="8" text-anchor="end" fill="#000" transform="rotate(-45 556.35 671.20)">OP50+Probio-M9</text>
<line x1="583.85" y1="662.20" x2="583.85" y2="665.70" stroke="#000" stroke-width="1.3" stroke-linecap="butt"/>
<text x="585.85" y="671.20" font-size="8" text-anchor="end" fill="#000" transform="rotate(-45 585.85 671.20)">OP50</text>
<line x1="613.35" y1="662.20" x2="613.35" y2="665.70" stroke="#000" stroke-width="1.3" stroke-linecap="butt"/>
<text x="615.35" y="671.20" font-size="8" text-anchor="end" fill="#000" transform="rotate(-45 615.35 671.20)">OP50+Probio-M9</text>
<text x="377.35" y="559.10" font-size="9.3" text-anchor="middle" fill="#000">***</text>
<text x="436.35" y="598.34" font-size="9.3" text-anchor="middle" fill="#000">**</text>
<text x="495.35" y="608.14" font-size="9.3" text-anchor="middle" fill="#000">*</text>
<text x="554.35" y="622.24" font-size="9.3" text-anchor="middle" fill="#000">**</text>
<text x="613.35" y="636.95" font-size="9.3" text-anchor="middle" fill="#000">**</text>
<text x="314.00" y="589.60" font-size="8.6" text-anchor="middle" fill="#000" transform="rotate(-90 314.00 589.60)">Percentage (%)</text>
<line x1="318.40" y1="725.00" x2="350.60" y2="725.00" stroke="#000" stroke-width="1.0" stroke-linecap="butt"/>
<text x="333.70" y="739.30" font-size="8" text-anchor="middle" fill="#000">Day 8</text>
<line x1="377.00" y1="725.00" x2="409.20" y2="725.00" stroke="#000" stroke-width="1.0" stroke-linecap="butt"/>
<text x="394.30" y="739.30" font-size="8" text-anchor="middle" fill="#000">Day 10</text>
<line x1="437.50" y1="725.00" x2="470.20" y2="725.00" stroke="#000" stroke-width="1.0" stroke-linecap="butt"/>
<text x="454.30" y="739.30" font-size="8" text-anchor="middle" fill="#000">Day 12</text>
<line x1="496.50" y1="725.00" x2="528.30" y2="725.00" stroke="#000" stroke-width="1.0" stroke-linecap="butt"/>
<text x="512.40" y="739.30" font-size="8" text-anchor="middle" fill="#000">Day 14</text>
<line x1="553.60" y1="725.00" x2="585.40" y2="725.00" stroke="#000" stroke-width="1.0" stroke-linecap="butt"/>
<text x="568.50" y="739.30" font-size="8" text-anchor="middle" fill="#000">Day 16</text>
<text x="7.00" y="799.80" font-size="15" text-anchor="start" fill="#000">i</text>
<text x="347.40" y="789.70" font-size="11.6" text-anchor="middle" fill="#000">Accumulation of lipofuscin</text>
<line x1="54.30" y1="797.10" x2="639.90" y2="797.10" stroke="#000" stroke-width="2.8" stroke-linecap="butt"/>
<text x="45.80" y="875.20" font-size="11.4" text-anchor="middle" fill="#000" transform="rotate(-90 45.80 875.20)">OP50</text>
<text x="45.80" y="1022.80" font-size="11.5" text-anchor="middle" fill="#000" transform="rotate(-90 45.80 1022.80)">OP50+Probio-M9</text>
<defs>
<filter id="bl" x="-2%" y="-2%" width="104%" height="104%"><feGaussianBlur stdDeviation="0.5"/></filter>
<filter id="tex" x="0" y="0" width="100%" height="100%" color-interpolation-filters="sRGB"><feTurbulence type="fractalNoise" baseFrequency="0.16 0.16" numOctaves="3" seed="11" result="n"/><feColorMatrix in="n" type="matrix" values="0 0 0 0 0.26  0 0 0 0 0.26  0 0 0 0 0.26  2.3 0 0 0 -1.1" result="m"/><feComposite in="m" in2="SourceAlpha" operator="in" result="mm"/><feMerge><feMergeNode in="SourceGraphic"/><feMergeNode in="mm"/></feMerge><feGaussianBlur stdDeviation="0.5"/></filter>
<filter id="spk" x="0" y="0" width="100%" height="100%" color-interpolation-filters="sRGB"><feTurbulence type="fractalNoise" baseFrequency="0.5 0.5" numOctaves="2" seed="5" result="n"/><feColorMatrix in="n" type="matrix" values="0 0 0 0 0.08  0 0 0 0 0.14  0 0 0 0 1  0 6 0 0 -3.3" result="m"/><feTurbulence type="fractalNoise" baseFrequency="0.035 0.035" numOctaves="2" seed="9" result="lo"/><feColorMatrix in="lo" type="matrix" values="0 0 0 0 1  0 0 0 0 1  0 0 0 0 1  5 0 0 0 -2.1" result="lom"/><feComposite in="m" in2="lom" operator="in" result="m2"/><feComposite in="m2" in2="SourceAlpha" operator="in" result="mm"/><feGaussianBlur in="mm" stdDeviation="0.4"/></filter>
<filter id="bl2" x="-2%" y="-2%" width="104%" height="104%"><feGaussianBlur stdDeviation="1.2"/></filter>
<filter id="bl3" x="-5%" y="-5%" width="110%" height="110%"><feGaussianBlur stdDeviation="1.5"/></filter>
<clipPath id="cp00"><rect x="54.3" y="804.0" width="143.6" height="143.0"/></clipPath>
<clipPath id="cp01"><rect x="201.5" y="804.0" width="143.4" height="143.0"/></clipPath>
<clipPath id="cp02"><rect x="349.2" y="804.0" width="143.6" height="143.0"/></clipPath>
<clipPath id="cp03"><rect x="496.0" y="804.0" width="143.2" height="143.0"/></clipPath>
<clipPath id="cp10"><rect x="54.3" y="951.0" width="143.6" height="142.6"/></clipPath>
<clipPath id="cp11"><rect x="201.5" y="951.0" width="143.4" height="142.6"/></clipPath>
<clipPath id="cp12"><rect x="349.2" y="951.0" width="143.6" height="142.6"/></clipPath>
<clipPath id="cp13"><rect x="496.0" y="951.0" width="143.2" height="142.6"/></clipPath>
<linearGradient id="gg0" x1="0" y1="1" x2="1" y2="0"><stop offset="0" stop-color="#4a4a4a"/><stop offset="0.5" stop-color="#5a5a5a"/><stop offset="1" stop-color="#6d6d6d"/></linearGradient>
<linearGradient id="gg1" x1="0" y1="0.75" x2="1" y2="0.25"><stop offset="0" stop-color="#4e4e4e"/><stop offset="0.5" stop-color="#606060"/><stop offset="1" stop-color="#696969"/></linearGradient>
<linearGradient id="gg2" x1="0" y1="0" x2="1" y2="1"><stop offset="0" stop-color="#4c4c4c"/><stop offset="0.5" stop-color="#5e5e5e"/><stop offset="1" stop-color="#626262"/></linearGradient>
<linearGradient id="gg3" x1="0" y1="0" x2="1" y2="1"><stop offset="0" stop-color="#565656"/><stop offset="0.5" stop-color="#666666"/><stop offset="1" stop-color="#5c5c5c"/></linearGradient>
<path id="t1w0" d="M69.7 802.7L70.7 805.5L72.0 809.5L73.5 814.2L75.1 819.1L76.7 823.8L78.1 828.0L79.4 831.5L80.6 834.7L81.8 837.6L82.9 840.3L83.8 842.8L84.6 845.3L85.3 847.7L85.9 850.0L86.4 852.1L86.7 854.0L87.0 856.0L87.0 858.0L86.9 860.2L86.7 862.4L86.3 864.7L85.8 867.0L85.1 869.2L84.3 871.4L83.3 873.5L82.1 875.7L80.7 877.9L79.2 880.0L77.5 882.2L75.8 884.3L74.0 886.2L72.1 888.0L70.0 889.9L67.8 891.8L65.4 893.8L63.0 895.9L60.5 898.2L57.8 900.7L55.1 903.3L52.5 905.6L50.3 907.6L48.8 909.1L55.6 916.5L57.2 915.0L59.3 913.0L61.9 910.7L64.6 908.1L67.4 905.6L69.8 903.4L72.0 901.4L74.3 899.4L76.6 897.5L78.9 895.4L81.2 893.2L83.3 890.9L85.3 888.5L87.3 886.1L89.1 883.5L90.8 880.9L92.3 878.1L93.6 875.3L94.7 872.5L95.6 869.6L96.2 866.6L96.7 863.7L97.0 860.9L97.1 858.1L97.0 855.3L96.7 852.6L96.3 850.0L95.7 847.5L95.0 845.0L94.2 842.3L93.3 839.5L92.3 836.7L91.2 833.9L90.0 830.9L88.8 827.9L87.6 824.6L86.2 820.6L84.7 815.9L83.1 811.0L81.5 806.3L80.2 802.4L79.3 799.5Z"/>
<path id="t1w1" d="M85.0 802.5L85.9 805.5L87.0 809.7L88.4 814.8L90.0 820.1L91.5 825.4L92.9 830.0L94.3 834.1L95.5 838.0L96.8 841.9L98.2 845.6L99.7 849.2L101.3 852.6L103.1 855.8L104.9 858.8L106.8 861.5L108.8 864.1L110.9 866.6L113.1 869.1L115.6 871.7L118.3 874.1L121.0 876.5L123.8 878.8L126.5 880.9L129.2 882.9L131.9 884.8L134.6 886.5L137.2 887.9L139.7 889.2L141.9 890.2L143.9 891.1L145.8 891.9L147.8 892.8L149.6 893.7L151.2 894.5L152.7 895.1L153.8 895.6L155.5 893.6L155.0 892.6L154.2 891.2L153.2 889.6L152.0 887.8L150.5 885.9L148.8 884.1L146.7 882.4L144.5 880.7L142.2 879.2L139.8 877.8L137.4 876.4L135.1 874.7L132.6 872.9L130.1 870.9L127.5 868.8L125.0 866.6L122.6 864.5L120.5 862.2L118.5 860.0L116.6 857.8L114.9 855.6L113.3 853.3L111.8 850.8L110.3 848.1L108.9 845.1L107.6 841.9L106.3 838.5L105.1 834.8L103.8 831.0L102.5 826.9L101.1 822.5L99.6 817.3L98.1 812.0L96.7 807.0L95.6 802.8L94.7 799.7Z"/>
<path id="t1w2" d="M104.7 802.3L105.3 804.6L106.1 808.0L107.1 812.0L108.4 816.3L109.9 820.5L111.7 824.2L113.9 827.2L116.2 829.7L118.6 831.8L121.2 833.6L123.8 835.2L126.5 836.8L129.6 838.5L132.9 840.2L136.3 841.7L139.8 843.2L143.4 844.6L147.0 845.9L150.8 847.2L154.7 848.4L158.7 849.5L162.6 850.5L166.2 851.4L169.4 852.0L172.4 852.3L175.3 852.3L177.9 852.2L180.1 852.0L182.0 851.8L183.4 851.5L183.8 849.2L182.5 848.5L180.9 847.6L178.9 846.6L176.6 845.6L174.1 844.5L171.5 843.5L168.4 842.5L164.9 841.6L161.1 840.6L157.3 839.6L153.6 838.4L150.1 837.3L146.7 836.0L143.3 834.7L140.0 833.3L136.8 831.9L133.9 830.4L131.1 828.9L128.6 827.3L126.3 825.9L124.2 824.5L122.5 823.0L121.0 821.4L119.7 819.6L118.4 817.0L117.2 813.5L116.0 809.6L115.0 805.7L114.2 802.3L113.6 799.9Z"/>
<path id="t1w3" d="M179.1 849.8L180.6 850.6L182.8 851.5L185.5 852.1L188.2 852.6L190.6 852.6L192.3 852.5L192.4 851.8L190.9 851.0L188.7 850.1L186.0 849.5L183.3 849.0L180.9 849.0L179.3 849.2Z"/>
<path id="t1w4" d="M100.8 828.3L102.6 830.6L105.2 833.5L108.5 836.7L112.3 839.6L116.4 842.2L120.2 844.4L123.9 846.2L127.5 847.7L131.0 849.1L134.2 850.4L137.2 851.7L139.8 853.1L142.1 854.6L144.4 856.2L146.4 857.8L148.3 859.5L150.1 861.3L151.8 863.0L153.5 864.9L155.4 866.9L157.4 869.1L159.3 871.1L161.1 872.8L162.4 873.9L164.4 872.8L164.1 871.0L163.6 868.7L162.8 865.9L161.7 862.9L160.2 860.0L158.4 857.4L156.4 855.2L154.3 853.1L152.1 851.1L149.7 849.2L147.0 847.3L144.2 845.5L141.0 843.8L137.6 842.3L134.2 841.0L130.8 839.6L127.5 838.2L124.3 836.6L120.9 834.7L117.0 832.3L112.8 830.1L108.6 828.4L104.9 827.1L102.1 826.4Z"/>
<path id="t1w5" d="M161.3 871.4L161.8 873.2L162.7 875.8L164.2 878.5L165.8 881.1L167.6 883.2L169.0 884.5L169.7 884.1L169.3 882.2L168.3 879.7L166.8 877.0L165.2 874.3L163.4 872.3L162.0 871.0Z"/>
<path id="t1w6" d="M78.0 802.3L78.9 804.9L80.0 808.4L81.4 812.6L82.9 817.1L84.4 821.4L85.7 825.4L86.9 828.9L88.2 832.4L89.4 835.7L90.5 838.9L91.4 841.9L92.1 844.7L92.6 847.2L92.9 849.6L93.1 852.0L93.2 854.5L93.4 857.1L93.9 859.8L94.4 862.5L95.0 865.2L95.7 867.9L96.4 870.7L97.4 873.4L98.5 876.1L99.8 878.7L101.3 881.4L102.9 884.0L104.7 886.5L106.7 888.8L109.0 890.8L111.7 892.3L114.5 893.3L117.3 893.9L120.0 894.2L122.6 894.3L125.0 894.1L127.4 893.6L129.7 892.6L131.6 891.4L133.2 890.0L134.5 888.5L135.7 887.0L136.5 885.2L137.0 883.3L137.1 881.6L137.1 880.1L136.9 878.9L136.8 878.0L134.8 877.5L134.3 878.2L133.7 879.3L133.0 880.5L132.3 881.5L131.5 882.4L130.8 882.9L129.8 883.6L128.6 884.3L127.4 885.0L126.2 885.6L125.1 886.1L123.9 886.3L122.4 886.4L120.5 886.4L118.6 886.2L116.7 885.8L115.0 885.1L113.6 884.4L112.3 883.2L110.9 881.6L109.5 879.6L108.1 877.4L106.8 875.1L105.7 872.8L104.8 870.6L104.0 868.3L103.3 865.9L102.7 863.4L102.1 860.9L101.6 858.4L101.3 856.1L101.1 853.9L100.9 851.5L100.8 848.9L100.4 846.0L99.8 842.9L99.0 839.7L97.9 836.4L96.8 833.1L95.6 829.7L94.3 826.3L93.1 822.8L91.9 818.9L90.4 814.6L88.9 810.1L87.5 805.9L86.3 802.4L85.5 799.8Z"/>
<path id="t1w7" d="M52.6 915.4L55.6 914.6L59.8 913.3L64.6 911.9L69.8 910.5L74.9 909.2L79.4 908.3L83.5 907.7L87.5 907.4L91.5 907.2L95.7 907.0L100.2 906.9L105.0 906.6L110.1 906.4L115.6 906.3L121.3 906.2L127.1 906.0L132.9 905.6L138.3 905.1L143.4 904.3L148.2 903.3L152.9 902.2L157.4 901.0L161.7 899.7L165.9 898.2L169.9 896.5L173.8 894.5L177.4 892.5L180.8 890.5L183.8 888.4L186.4 886.3L188.8 884.0L190.9 881.6L192.7 879.2L194.1 877.0L195.1 875.2L195.9 873.8L194.0 871.6L192.5 872.2L190.5 873.1L188.3 874.2L185.9 875.4L183.4 876.7L180.7 877.9L177.9 879.4L175.0 881.2L171.9 883.0L168.7 884.8L165.3 886.5L161.9 888.0L158.2 889.3L154.3 890.5L150.2 891.6L145.9 892.6L141.5 893.5L136.9 894.2L132.0 894.7L126.6 895.0L121.0 895.2L115.3 895.4L109.7 895.5L104.5 895.7L99.8 895.9L95.3 896.1L91.0 896.2L86.7 896.5L82.2 896.9L77.5 897.5L72.4 898.6L67.0 899.9L61.6 901.4L56.7 902.8L52.6 904.0L49.6 904.9Z"/>
<path id="t1w8" d="M52.4 927.7L55.9 926.9L60.7 925.7L66.3 924.3L72.3 922.9L78.2 921.6L83.8 920.6L89.0 919.8L94.3 919.2L99.7 918.7L105.2 918.2L110.7 917.8L116.1 917.4L121.5 917.0L127.0 916.8L132.6 916.6L138.3 916.3L143.9 915.9L149.5 915.1L154.8 914.1L160.0 912.8L165.0 911.4L169.8 909.9L174.5 908.2L179.2 906.4L184.0 904.3L188.9 901.9L193.6 899.4L197.8 897.0L201.3 895.1L203.8 893.7L198.4 883.7L195.8 885.1L192.2 887.1L188.1 889.4L183.6 891.8L179.1 894.0L174.8 895.9L170.6 897.5L166.2 899.1L161.7 900.5L157.1 901.8L152.4 902.9L147.6 903.9L142.7 904.5L137.6 905.0L132.2 905.2L126.6 905.4L120.9 905.6L115.3 906.0L109.8 906.4L104.2 906.9L98.7 907.3L93.1 907.9L87.5 908.5L81.9 909.3L76.0 910.4L69.8 911.8L63.6 913.2L57.9 914.6L53.2 915.8L49.8 916.7Z"/>
<path id="t1w9" d="M72.1 931.0L75.9 931.6L81.1 932.0L87.1 932.0L93.4 931.3L99.6 930.3L105.3 929.6L110.7 929.1L116.1 928.8L121.7 928.6L127.3 928.3L132.8 928.0L138.2 927.4L143.3 926.7L148.1 925.9L152.7 925.1L157.5 924.0L162.4 922.7L167.8 921.0L173.8 918.8L180.6 916.0L187.5 913.0L193.9 910.1L199.4 907.7L203.2 906.0L199.0 896.4L195.1 898.1L189.6 900.6L183.2 903.4L176.5 906.4L170.0 909.0L164.4 911.1L159.5 912.6L155.0 913.8L150.6 914.8L146.3 915.6L141.7 916.3L136.9 917.0L131.9 917.5L126.7 917.9L121.2 918.1L115.6 918.3L109.9 918.6L104.2 919.2L98.2 919.9L91.8 920.9L85.5 922.3L79.7 924.3L75.0 926.5L71.7 928.3Z"/>
<path id="t1w10" d="M87.1 951.9L89.4 950.7L92.5 949.0L96.1 947.0L100.1 945.0L104.2 943.2L108.2 941.7L112.5 940.6L117.2 939.6L122.3 938.8L127.5 938.0L132.9 937.2L138.3 936.4L143.6 935.6L149.0 934.9L154.6 934.2L160.3 933.4L166.0 932.3L171.8 930.7L177.7 928.6L183.8 925.8L189.8 922.9L195.3 920.1L199.8 917.7L203.1 916.0L199.1 908.2L195.8 909.9L191.2 912.3L185.8 915.1L180.1 917.9L174.4 920.5L169.1 922.4L164.1 923.7L158.8 924.7L153.4 925.5L147.9 926.2L142.4 926.9L136.9 927.7L131.6 928.6L126.2 929.3L120.9 930.1L115.6 931.0L110.5 932.0L105.6 933.3L100.9 935.0L96.3 937.1L92.0 939.2L88.3 941.3L85.2 943.0L83.0 944.2Z"/>
<path id="t3w0" d="M350.4 801.3L350.5 804.7L350.6 809.5L350.8 815.1L351.0 821.1L351.2 827.2L351.2 832.9L351.2 838.3L351.2 843.9L351.1 849.5L350.9 855.1L350.8 860.4L350.6 865.5L350.4 870.4L350.1 875.2L349.9 879.7L349.6 884.0L349.3 887.9L349.3 891.4L349.3 894.3L349.3 897.0L349.3 899.4L349.2 901.5L349.2 903.3L349.3 904.7L351.8 905.5L352.7 904.4L353.7 902.9L355.0 901.0L356.2 898.7L357.4 895.8L358.4 892.6L359.2 888.9L359.6 884.8L359.9 880.4L360.2 875.7L360.4 870.8L360.6 865.9L360.8 860.8L361.0 855.3L361.1 849.7L361.2 844.0L361.3 838.4L361.3 832.8L361.2 827.0L361.1 820.9L360.9 814.8L360.7 809.1L360.5 804.4L360.4 800.9Z"/>
<path id="t3w1" d="M361.1 801.4L361.3 804.9L361.6 809.7L361.9 815.5L362.2 821.6L362.5 827.5L362.6 832.9L362.6 837.8L362.5 842.6L362.4 847.4L362.2 852.0L361.9 856.5L361.5 860.9L361.1 865.2L360.7 869.3L360.2 873.4L359.6 877.2L358.9 880.9L358.2 884.2L357.4 887.5L356.6 890.9L355.9 894.3L355.4 897.5L355.0 900.3L354.9 902.4L357.2 903.4L358.6 901.9L360.5 899.7L362.5 897.1L364.5 893.9L366.2 890.3L367.5 886.6L368.4 882.8L369.1 878.8L369.7 874.7L370.3 870.5L370.7 866.1L371.1 861.7L371.5 857.2L371.8 852.5L372.0 847.7L372.2 842.9L372.2 837.9L372.2 832.8L372.1 827.2L371.9 821.1L371.5 814.9L371.2 809.2L370.9 804.3L370.7 800.8Z"/>
<path id="t3w2" d="M379.8 803.3L380.9 805.3L382.4 808.1L384.2 811.3L386.0 814.8L387.6 818.2L389.0 821.4L390.2 824.5L391.3 827.6L392.3 830.7L393.1 833.7L393.7 836.8L394.2 839.9L394.4 843.2L394.5 846.7L394.4 850.3L394.1 853.8L393.7 857.2L393.1 860.5L392.5 863.5L391.7 866.4L390.9 869.1L389.8 871.6L388.7 874.0L387.3 876.2L385.7 878.3L383.8 880.4L381.6 882.4L379.2 884.3L376.7 886.3L374.1 888.3L371.5 890.1L368.7 891.9L365.8 893.6L362.7 895.4L359.7 897.2L356.7 899.1L353.9 901.2L351.0 903.3L348.3 905.5L345.8 907.4L343.7 909.1L342.2 910.3L347.9 917.5L349.5 916.3L351.5 914.6L354.0 912.7L356.6 910.6L359.3 908.6L361.9 906.7L364.5 905.0L367.4 903.3L370.4 901.5L373.5 899.7L376.6 897.7L379.6 895.7L382.3 893.6L385.0 891.5L387.7 889.3L390.3 886.9L392.7 884.3L394.9 881.4L396.7 878.4L398.2 875.4L399.5 872.2L400.6 868.9L401.4 865.6L402.2 862.2L402.8 858.5L403.2 854.7L403.5 850.7L403.7 846.7L403.6 842.8L403.3 838.9L402.8 835.2L402.0 831.6L401.1 828.1L400.0 824.6L398.8 821.3L397.5 818.0L396.0 814.4L394.2 810.7L392.3 807.0L390.5 803.7L389.0 800.9L387.9 798.9Z"/>
<path id="t3w3" d="M384.8 808.2L388.7 809.0L394.4 810.1L400.9 811.3L407.8 812.7L414.2 814.0L419.7 815.2L424.1 816.3L428.1 817.3L431.6 818.2L434.8 819.2L437.8 820.2L440.7 821.5L443.5 822.9L446.1 824.3L448.4 825.8L450.5 827.4L452.6 829.2L454.5 831.3L456.3 833.7L458.0 836.5L459.7 839.8L461.4 843.2L463.1 846.8L464.9 850.2L466.7 853.5L468.3 856.9L470.0 860.4L471.9 863.9L474.0 867.4L476.4 870.7L479.3 873.8L482.6 876.7L486.0 879.4L489.1 881.7L491.7 883.6L493.5 884.9L498.8 878.0L496.9 876.5L494.3 874.6L491.3 872.4L488.2 870.0L485.4 867.5L483.1 865.1L481.3 862.5L479.5 859.6L477.9 856.4L476.2 853.0L474.5 849.5L472.7 846.1L471.0 842.8L469.3 839.4L467.5 835.8L465.7 832.2L463.6 828.8L461.2 825.7L458.7 823.0L456.1 820.6L453.4 818.6L450.5 816.8L447.5 815.1L444.4 813.5L441.0 812.1L437.6 810.9L434.0 809.8L430.2 808.8L426.2 807.8L421.6 806.7L416.1 805.4L409.5 804.1L402.6 802.7L396.0 801.5L390.4 800.4L386.4 799.6Z"/>
<path id="t3w4" d="M430.8 808.5L434.4 809.1L439.4 810.0L445.2 811.0L451.5 812.1L457.7 813.3L463.4 814.5L469.0 816.0L475.0 817.7L481.0 819.5L486.7 821.2L491.4 822.6L494.9 823.7L497.5 814.9L494.1 813.8L489.3 812.4L483.7 810.7L477.6 808.8L471.4 807.1L465.5 805.6L459.6 804.3L453.2 803.1L446.8 801.9L440.9 800.9L436.0 800.0L432.4 799.4Z"/>
<path id="t3w5" d="M394.6 858.3L395.3 859.6L396.3 861.4L397.5 863.5L399.2 865.7L401.1 867.8L403.3 869.5L405.6 870.8L408.0 871.8L410.5 872.5L413.1 873.1L415.8 873.4L418.5 873.6L421.1 873.4L423.6 873.0L426.1 872.5L428.5 871.7L430.9 870.9L433.4 869.9L436.1 868.7L438.8 867.2L441.4 865.7L443.9 864.3L446.2 863.2L448.3 862.4L450.5 861.8L452.9 861.3L455.2 861.0L457.3 860.9L459.3 861.0L461.0 861.4L462.7 862.0L464.5 863.0L466.4 864.3L468.4 865.8L470.4 867.5L472.4 869.2L474.2 870.8L475.9 872.5L477.7 874.4L479.5 876.4L481.4 878.3L483.3 880.1L485.3 881.8L487.4 883.3L489.4 884.6L491.1 885.8L492.6 886.8L493.6 887.5L498.8 879.8L497.7 879.1L496.2 878.1L494.5 877.0L492.7 875.8L491.0 874.5L489.4 873.2L487.8 871.7L486.2 870.0L484.4 868.1L482.5 866.1L480.5 864.1L478.4 862.2L476.3 860.5L474.1 858.7L471.8 856.8L469.3 855.1L466.5 853.6L463.5 852.5L460.4 851.9L457.3 851.7L454.3 851.9L451.3 852.3L448.5 852.9L445.5 853.6L442.5 854.8L439.6 856.2L436.8 857.7L434.3 859.2L432.0 860.5L429.8 861.4L427.7 862.3L425.6 863.0L423.7 863.6L421.9 864.0L420.1 864.3L418.4 864.4L416.7 864.3L414.8 864.0L412.8 863.6L410.9 863.1L409.0 862.5L407.3 861.9L405.6 861.2L403.7 860.3L401.6 859.2L399.5 858.0L397.7 857.1L396.3 856.5Z"/>
<path id="t3w6" d="M397.1 868.9L398.0 870.1L399.4 871.6L401.1 873.3L403.1 875.1L405.4 876.9L407.9 878.4L410.5 879.8L413.4 880.9L416.4 882.1L419.5 883.2L422.6 884.3L425.7 885.4L429.0 886.5L432.4 887.6L435.8 888.6L439.2 889.7L442.3 890.8L445.2 891.8L447.7 893.0L450.2 894.3L452.6 895.6L455.1 897.0L457.8 898.4L460.6 899.5L463.2 900.5L465.8 901.4L468.5 902.2L471.5 902.9L474.7 903.2L478.1 903.1L481.8 902.4L485.7 901.2L489.5 899.7L493.0 898.3L495.9 897.0L497.9 896.2L494.5 887.7L492.4 888.6L489.4 889.8L486.1 891.2L482.7 892.5L479.6 893.5L477.1 894.0L475.0 894.0L473.0 893.8L470.9 893.3L468.7 892.7L466.3 891.8L463.9 891.0L461.7 890.0L459.5 888.9L457.1 887.6L454.5 886.2L451.7 884.7L448.7 883.3L445.4 882.1L442.0 881.0L438.6 879.9L435.2 878.8L431.9 877.7L428.7 876.7L425.6 875.6L422.6 874.5L419.6 873.4L416.7 872.3L414.0 871.3L411.5 870.5L409.0 869.7L406.5 868.9L404.0 868.2L401.8 867.6L399.8 867.1L398.2 866.8Z"/>
<path id="t3w7" d="M347.4 921.7L349.6 920.3L352.8 918.2L356.4 915.7L360.3 913.3L364.1 911.1L367.6 909.3L370.9 908.0L374.4 906.8L377.8 905.8L381.3 905.0L384.7 904.4L388.1 904.0L391.5 903.8L394.9 903.9L398.3 904.2L401.7 904.7L405.2 905.3L408.7 906.1L412.2 907.0L415.9 908.2L419.5 909.6L423.1 911.1L426.5 912.6L429.6 914.2L432.4 915.9L435.0 917.7L437.5 919.6L439.8 921.5L441.9 923.5L443.9 925.5L445.8 927.5L447.5 929.5L448.9 931.4L450.1 933.2L451.0 935.1L451.6 936.7L451.9 938.6L451.9 941.0L451.6 943.7L451.1 946.4L450.7 948.7L450.5 950.5L458.7 951.7L458.9 950.1L459.3 947.7L459.8 944.8L460.2 941.5L460.2 938.1L459.7 934.8L458.7 931.8L457.3 929.1L455.7 926.6L453.9 924.2L452.0 922.0L449.9 919.7L447.7 917.5L445.3 915.3L442.7 913.1L439.9 910.9L436.8 908.9L433.6 906.9L430.2 905.1L426.4 903.4L422.6 901.8L418.6 900.4L414.6 899.1L410.7 898.0L406.9 897.1L403.0 896.4L399.2 895.9L395.3 895.6L391.4 895.5L387.5 895.7L383.5 896.1L379.6 896.8L375.7 897.7L371.8 898.9L368.0 900.2L364.2 901.8L360.2 903.7L356.0 906.2L351.9 908.8L348.1 911.2L345.0 913.3L342.8 914.8Z"/>
<path id="t3w8" d="M394.0 908.5L394.4 910.1L394.8 912.3L395.4 915.1L396.2 918.1L397.2 921.2L398.4 924.1L399.9 926.7L401.5 929.1L403.3 931.5L405.3 933.8L407.4 936.1L409.8 938.3L412.5 940.5L415.8 942.6L419.2 944.4L422.6 945.7L425.6 946.5L427.9 947.0L428.7 945.5L427.3 943.8L425.0 941.6L422.3 939.3L419.3 937.1L416.4 935.1L414.0 933.3L412.0 931.4L410.1 929.4L408.4 927.4L406.9 925.3L405.5 923.2L404.3 921.2L403.3 918.9L402.5 916.3L401.8 913.6L401.3 911.0L400.8 908.7L400.4 907.0Z"/>
<path id="t3w9" d="M494.5 894.5L492.5 895.3L489.4 896.5L485.6 897.9L481.7 899.6L477.9 901.6L474.6 904.1L472.1 907.0L470.5 910.2L469.4 913.2L468.5 916.1L467.8 918.6L466.9 921.0L465.9 923.5L464.8 926.2L463.7 928.8L462.7 931.3L461.6 933.7L460.5 936.0L459.3 938.3L457.9 940.8L456.4 943.2L455.1 945.5L453.9 947.4L453.0 948.8L460.5 953.4L461.4 952.0L462.5 950.1L463.9 947.7L465.5 945.2L467.0 942.5L468.4 939.9L469.6 937.4L470.7 934.7L471.8 932.1L472.9 929.5L474.0 926.9L475.1 924.2L476.1 921.4L477.0 918.5L477.7 915.9L478.5 913.7L479.4 911.9L480.6 910.5L482.5 909.1L485.5 907.5L489.0 906.0L492.5 904.7L495.6 903.5L497.8 902.6Z"/>
<path id="t5w0" d="M77.1 954.0L80.6 956.0L85.6 958.2L91.5 960.4L97.9 962.0L104.2 963.4L109.8 964.8L114.8 966.5L119.9 968.4L125.1 970.5L130.3 972.6L135.5 974.5L140.9 975.9L146.1 976.6L150.9 976.6L155.3 976.3L159.3 976.0L163.2 976.0L167.4 976.4L172.7 977.4L178.9 979.0L185.4 980.7L191.6 982.6L196.9 984.1L200.7 985.2L203.7 974.7L199.9 973.6L194.6 972.0L188.4 970.2L181.6 968.4L175.1 966.7L169.1 965.5L163.7 965.0L158.9 965.1L154.5 965.4L150.6 965.7L146.9 965.6L143.0 965.2L138.8 964.0L134.1 962.4L129.2 960.4L124.0 958.2L118.5 956.1L112.8 954.3L106.7 952.8L100.1 951.3L93.4 950.4L87.0 950.2L81.6 950.6L77.6 951.2Z"/>
<path id="t5w1" d="M92.6 980.2L95.9 981.4L100.3 982.8L105.6 984.0L111.2 984.7L116.6 985.3L121.3 986.0L125.5 987.0L129.6 988.4L133.9 990.1L138.3 991.8L142.8 993.4L147.3 994.7L151.5 995.6L155.6 996.5L159.7 997.2L163.8 997.7L168.2 997.9L172.9 997.9L178.1 997.5L184.0 996.6L189.8 995.6L195.3 994.5L199.9 993.6L203.1 993.0L201.3 983.1L197.9 983.7L193.3 984.6L188.0 985.7L182.4 986.7L177.0 987.5L172.4 987.8L168.5 987.8L164.7 987.6L161.1 987.2L157.5 986.6L153.7 985.8L149.8 984.9L145.9 983.8L141.8 982.3L137.6 980.7L133.0 978.9L128.3 977.3L123.2 976.1L117.8 975.3L111.9 974.7L106.1 974.8L100.6 975.6L96.1 976.6L92.8 977.5Z"/>
<path id="t5w2" d="M75.5 998.7L79.1 998.9L83.8 998.6L89.2 998.0L94.6 997.0L99.9 996.0L104.7 995.7L109.3 996.2L114.5 997.3L119.9 998.8L125.5 1000.6L131.0 1002.3L136.2 1003.8L140.6 1005.2L144.6 1006.7L148.7 1008.2L153.2 1009.7L158.2 1010.7L163.9 1011.0L170.6 1010.5L178.1 1009.3L185.8 1007.6L193.0 1005.9L199.0 1004.4L203.3 1003.5L201.1 993.6L196.7 994.6L190.6 996.1L183.6 997.8L176.2 999.4L169.4 1000.5L163.8 1001.0L159.5 1000.7L155.7 999.9L152.1 998.7L148.2 997.2L143.8 995.6L139.0 994.2L133.9 992.7L128.5 991.0L122.8 989.1L116.9 987.5L110.9 986.2L104.8 985.6L98.7 986.0L92.5 987.2L86.7 989.1L81.6 991.7L77.6 994.2L74.8 996.2Z"/>
<path id="t5w3" d="M59.2 978.7L59.1 982.4L59.0 987.5L58.9 993.5L58.7 999.9L58.4 1006.0L58.1 1011.4L57.8 1016.1L57.4 1020.5L56.9 1024.7L56.4 1028.8L55.7 1032.9L54.9 1037.0L53.8 1041.5L52.4 1046.4L50.8 1051.4L49.2 1056.0L47.9 1060.0L46.9 1062.9L55.3 1065.6L56.2 1062.8L57.5 1058.8L59.1 1054.1L60.7 1049.0L62.3 1043.8L63.5 1038.9L64.4 1034.4L65.1 1030.1L65.6 1025.8L66.1 1021.4L66.5 1016.8L66.9 1012.0L67.2 1006.4L67.4 1000.2L67.6 993.7L67.8 987.7L67.9 982.6L68.0 979.0Z"/>
<path id="t5w4" d="M71.0 978.5L70.7 982.1L70.3 987.2L69.7 993.1L69.1 999.5L68.5 1005.6L67.8 1011.2L67.1 1016.1L66.4 1020.8L65.7 1025.4L64.8 1029.9L63.8 1034.4L62.4 1039.0L60.6 1044.1L58.3 1049.8L55.8 1055.7L53.3 1061.2L51.2 1065.8L49.7 1069.2L56.9 1072.4L58.4 1069.1L60.5 1064.4L63.0 1058.9L65.6 1052.9L68.0 1046.9L70.0 1041.4L71.4 1036.3L72.5 1031.5L73.4 1026.7L74.2 1022.0L74.9 1017.2L75.6 1012.2L76.3 1006.5L77.0 1000.2L77.6 993.9L78.1 987.9L78.6 982.8L78.9 979.2Z"/>
<path id="t5w5" d="M88.6 1002.1L88.3 1005.5L88.2 1010.0L88.5 1015.2L89.2 1020.4L90.0 1025.3L90.3 1029.3L90.1 1032.8L89.7 1036.1L89.0 1039.4L88.1 1042.5L86.8 1045.7L85.4 1048.8L83.6 1052.1L81.6 1055.3L79.3 1058.5L76.8 1061.5L74.1 1064.4L71.4 1066.9L68.1 1069.3L64.0 1071.6L59.6 1073.9L55.3 1075.9L51.6 1077.7L48.9 1079.0L53.3 1088.0L55.9 1086.8L59.6 1085.0L64.1 1082.9L68.9 1080.5L73.6 1077.7L77.7 1074.7L81.2 1071.6L84.4 1068.2L87.3 1064.6L90.0 1060.9L92.3 1057.1L94.4 1053.4L96.1 1049.6L97.6 1045.8L98.8 1041.9L99.6 1037.8L100.2 1033.6L100.4 1029.1L100.0 1024.0L99.0 1018.5L97.3 1013.1L95.1 1008.3L92.9 1004.3L91.1 1001.5Z"/>
<path id="t5w6" d="M122.4 999.9L120.1 1001.1L117.0 1003.0L113.4 1005.4L109.9 1008.5L106.8 1012.1L104.4 1016.1L102.7 1020.1L101.6 1024.1L100.8 1028.1L100.2 1031.8L99.5 1035.4L98.6 1038.8L97.5 1042.4L96.3 1046.0L95.1 1049.6L93.7 1053.0L92.2 1056.3L90.4 1059.5L88.2 1062.8L85.7 1066.2L83.0 1069.5L80.1 1072.6L77.1 1075.4L74.0 1077.8L70.4 1079.9L66.0 1081.9L61.2 1083.7L56.5 1085.3L52.4 1086.7L49.5 1087.7L52.7 1096.8L55.5 1095.8L59.6 1094.5L64.4 1092.8L69.7 1090.8L74.8 1088.5L79.4 1085.8L83.4 1082.7L87.0 1079.4L90.3 1075.8L93.3 1072.1L96.1 1068.3L98.5 1064.6L100.7 1060.8L102.6 1056.8L104.1 1052.9L105.4 1049.1L106.6 1045.3L107.8 1041.5L108.9 1037.5L109.7 1033.6L110.3 1029.8L111.0 1026.3L111.8 1023.2L113.0 1020.5L114.7 1017.6L117.0 1014.4L119.3 1010.8L121.5 1007.3L123.2 1004.1L124.3 1001.6Z"/>
<path id="t5w7" d="M201.9 1005.1L198.8 1005.3L194.3 1005.3L188.8 1005.5L182.8 1005.9L176.6 1006.6L170.8 1008.0L165.6 1010.0L160.6 1012.5L155.8 1015.3L151.2 1018.2L146.9 1021.3L142.7 1024.3L138.5 1027.5L134.4 1030.9L130.3 1034.4L126.5 1037.9L123.0 1041.5L119.8 1044.9L117.1 1048.2L114.8 1051.5L112.9 1054.6L111.3 1057.6L109.7 1060.5L108.1 1063.6L106.5 1067.1L105.1 1071.2L103.9 1075.4L103.0 1079.4L102.5 1082.9L102.2 1085.4L105.1 1086.9L106.9 1085.0L109.3 1082.5L111.9 1079.3L114.5 1075.9L116.8 1072.5L118.9 1069.3L120.5 1066.3L122.1 1063.4L123.5 1060.7L125.1 1058.2L126.9 1055.7L129.1 1053.0L131.8 1050.0L135.0 1046.8L138.6 1043.5L142.3 1040.2L146.1 1037.1L150.0 1034.1L154.0 1031.3L158.1 1028.4L162.2 1025.7L166.4 1023.3L170.5 1021.3L174.4 1019.7L178.8 1018.7L183.9 1018.1L189.3 1017.7L194.5 1017.6L199.1 1017.5L202.5 1017.4Z"/>
<path id="t5w8" d="M163.2 1025.7L160.8 1027.1L157.5 1029.1L153.5 1031.6L149.2 1034.4L145.0 1037.4L141.3 1040.8L138.4 1044.4L136.1 1048.1L134.2 1051.8L132.5 1055.2L131.0 1058.4L129.2 1061.4L127.2 1064.6L125.4 1067.7L123.6 1070.6L121.8 1073.2L119.8 1075.3L117.5 1077.2L114.5 1078.9L110.6 1080.4L106.2 1081.8L101.6 1083.2L96.8 1084.4L92.3 1085.7L87.9 1087.0L83.3 1088.2L78.8 1089.3L74.6 1090.3L71.0 1091.1L68.4 1091.8L71.0 1102.4L73.6 1101.8L77.1 1100.9L81.4 1099.9L86.0 1098.8L90.8 1097.5L95.3 1096.2L99.7 1095.0L104.4 1093.7L109.4 1092.3L114.4 1090.7L119.1 1088.8L123.5 1086.3L127.3 1083.4L130.3 1080.1L132.7 1076.7L134.8 1073.4L136.6 1070.2L138.5 1067.1L140.6 1063.6L142.4 1060.0L144.0 1056.6L145.6 1053.5L147.3 1050.7L149.2 1048.3L151.9 1045.9L155.4 1043.4L159.3 1040.8L163.1 1038.5L166.5 1036.5L169.0 1034.9Z"/>
<path id="t5w9" d="M169.8 1030.0L168.1 1032.0L165.6 1034.8L162.6 1038.1L159.5 1041.7L156.5 1045.4L153.8 1048.9L151.6 1052.2L149.6 1055.4L147.7 1058.6L145.9 1062.0L144.1 1065.5L142.5 1069.4L140.8 1074.0L139.1 1079.3L137.5 1084.7L136.1 1089.8L134.9 1094.1L134.0 1097.2L141.2 1099.2L142.1 1096.1L143.2 1091.8L144.6 1086.8L146.2 1081.5L147.8 1076.5L149.4 1072.2L150.9 1068.6L152.5 1065.3L154.2 1062.2L155.9 1059.3L157.8 1056.3L159.9 1053.3L162.3 1050.0L165.2 1046.5L168.2 1043.0L171.1 1039.8L173.6 1037.0L175.4 1035.0Z"/>
<path id="t5w10" d="M199.3 1023.7L196.6 1025.4L192.7 1027.7L188.1 1030.6L183.2 1033.7L178.4 1037.0L174.0 1040.3L170.2 1043.6L166.5 1047.0L163.0 1050.5L159.6 1054.0L156.5 1057.4L153.6 1060.6L150.9 1063.7L148.3 1066.8L145.9 1069.9L143.6 1073.0L141.5 1076.1L139.7 1079.3L138.2 1082.9L137.0 1086.5L136.2 1089.9L135.6 1093.0L135.2 1095.4L134.9 1097.1L145.6 1099.3L146.0 1097.4L146.4 1095.0L146.9 1092.2L147.6 1089.4L148.4 1086.6L149.5 1084.2L150.9 1081.8L152.6 1079.2L154.5 1076.6L156.8 1073.8L159.2 1070.9L161.8 1067.9L164.6 1064.7L167.6 1061.4L170.8 1058.1L174.1 1054.9L177.4 1051.7L180.9 1048.8L184.7 1045.9L189.2 1042.9L194.0 1039.8L198.5 1037.1L202.3 1034.7L205.1 1033.0Z"/>
<path id="t7w0" d="M374.9 953.3L376.1 955.1L377.9 957.5L380.2 960.3L383.0 963.2L386.3 965.9L390.0 968.1L394.3 969.6L398.6 970.7L402.9 971.5L406.9 972.4L410.5 973.5L413.7 974.9L416.8 976.9L420.0 979.3L423.1 982.0L426.2 984.9L429.1 988.0L431.7 991.1L434.2 994.3L436.5 997.7L438.7 1001.2L440.7 1004.9L442.5 1008.4L444.1 1011.7L445.7 1014.8L447.3 1018.0L448.9 1021.1L450.5 1024.1L452.0 1026.6L453.2 1028.5L456.0 1027.8L456.2 1025.6L456.4 1022.7L456.4 1019.2L456.1 1015.3L455.4 1011.3L454.1 1007.3L452.3 1003.6L450.4 999.7L448.2 995.7L445.7 991.7L443.1 987.8L440.2 984.1L437.2 980.6L433.9 977.2L430.5 973.9L426.8 970.7L423.0 967.8L418.8 965.3L414.3 963.2L409.7 961.8L405.2 960.8L401.0 960.0L397.3 959.1L394.3 958.1L391.4 956.9L388.1 955.4L384.8 954.0L381.6 952.7L378.8 951.6L376.6 951.0Z"/>
<path id="t7w1" d="M452.6 1025.0L452.7 1026.6L453.2 1028.9L454.1 1031.3L455.3 1033.5L456.7 1035.3L457.9 1036.4L458.7 1036.0L458.6 1034.4L458.2 1032.2L457.3 1029.8L456.1 1027.5L454.6 1025.8L453.5 1024.6Z"/>
<path id="t7w2" d="M353.0 978.1L355.3 977.6L358.2 976.5L361.4 975.3L364.7 974.1L367.9 973.1L370.8 972.5L374.5 972.3L379.0 972.6L383.8 973.2L388.7 974.2L393.2 975.3L397.1 976.6L400.3 978.0L403.2 979.6L405.8 981.5L408.2 983.6L410.5 985.9L412.7 988.4L414.7 991.0L416.6 993.9L418.3 997.1L420.0 1000.5L421.5 1003.8L423.0 1007.0L424.5 1010.1L426.1 1013.2L427.9 1016.3L429.7 1019.1L431.3 1021.4L432.6 1023.0L434.9 1022.2L434.9 1020.1L434.8 1017.3L434.5 1013.9L433.8 1010.3L432.8 1006.7L431.4 1003.2L429.9 1000.0L428.3 996.5L426.5 992.9L424.5 989.3L422.3 985.7L419.8 982.5L417.2 979.6L414.4 976.8L411.4 974.3L408.1 971.9L404.4 969.8L400.4 968.0L395.8 966.5L390.7 965.2L385.3 964.2L379.8 963.4L374.6 963.1L369.7 963.3L365.1 964.4L361.0 966.5L357.6 969.1L355.0 971.9L353.1 974.3L351.7 976.1Z"/>
<path id="t7w3" d="M421.5 956.1L424.0 957.4L427.5 958.9L431.6 960.5L435.8 961.9L439.6 963.1L442.7 964.2L445.0 965.5L447.2 967.1L449.4 969.1L451.7 971.3L454.1 973.7L456.7 976.0L459.1 978.2L461.4 980.5L463.9 983.0L466.6 985.4L469.7 987.8L473.1 989.9L477.1 991.6L481.4 992.8L485.7 993.8L489.7 994.6L492.9 995.1L495.2 995.6L497.2 985.7L494.8 985.2L491.5 984.6L487.8 983.9L483.9 983.1L480.4 982.1L477.6 980.9L475.4 979.5L473.1 977.8L470.9 975.7L468.5 973.3L466.0 970.9L463.4 968.5L461.1 966.4L458.8 964.1L456.3 961.7L453.6 959.3L450.4 957.0L446.8 955.0L442.5 953.4L437.8 952.5L433.0 952.2L428.5 952.5L424.7 953.0L422.0 953.5Z"/>
<path id="t7w4" d="M475.0 960.0L476.9 962.3L480.1 965.1L484.2 967.3L488.5 969.3L492.1 971.0L494.6 972.2L497.8 965.4L495.3 964.2L491.6 962.5L487.4 960.6L483.0 958.9L478.8 958.3L475.8 958.3Z"/>
<path id="t7w5" d="M349.7 987.9L351.3 988.9L353.3 990.2L355.7 991.5L358.2 993.0L360.7 994.7L363.2 996.5L365.8 998.6L369.0 1001.2L372.4 1004.3L376.3 1007.6L380.4 1010.9L384.8 1014.1L389.7 1017.0L394.9 1019.6L400.1 1022.1L405.0 1024.5L409.4 1026.9L413.1 1029.3L416.1 1031.7L418.7 1034.2L421.0 1036.7L423.1 1039.3L425.0 1042.1L426.8 1045.0L428.6 1048.4L430.5 1052.3L432.7 1056.4L435.0 1060.2L437.2 1063.5L439.0 1065.8L441.7 1064.9L441.7 1062.0L441.6 1058.1L441.1 1053.5L440.1 1048.6L438.5 1043.9L436.4 1039.7L434.2 1036.1L431.9 1032.8L429.3 1029.6L426.5 1026.5L423.2 1023.4L419.5 1020.4L415.0 1017.5L410.0 1014.8L404.8 1012.2L399.7 1009.8L394.9 1007.4L390.8 1004.9L387.0 1002.2L383.3 999.2L379.7 996.0L376.0 992.8L372.4 989.9L368.6 987.5L364.8 985.9L361.0 985.1L357.6 984.8L354.6 984.8L352.3 985.0L350.5 985.1Z"/>
<path id="t7w6" d="M429.8 1029.8L431.3 1031.6L433.4 1033.9L435.9 1036.4L438.6 1038.9L441.2 1041.3L443.4 1043.5L445.4 1045.9L447.4 1048.9L449.4 1052.3L451.5 1056.0L453.8 1059.6L456.4 1063.0L459.0 1065.8L461.6 1068.3L464.2 1070.5L466.8 1072.6L469.6 1074.6L472.5 1076.8L475.9 1079.4L479.9 1082.3L484.0 1085.2L487.8 1087.9L491.1 1090.2L493.4 1091.8L499.0 1084.0L496.6 1082.3L493.4 1080.0L489.5 1077.3L485.5 1074.5L481.6 1071.7L478.3 1069.2L475.4 1067.0L472.7 1064.9L470.3 1063.0L468.0 1061.1L465.8 1059.0L463.8 1056.8L461.7 1054.1L459.8 1051.0L457.7 1047.5L455.5 1043.8L453.2 1040.2L450.4 1036.9L447.2 1034.0L443.6 1031.8L439.9 1030.1L436.4 1028.9L433.4 1028.2L431.2 1027.7Z"/>
<path id="t7w7" d="M480.9 1018.1L479.8 1020.1L478.5 1022.8L477.2 1026.3L476.2 1030.2L475.8 1034.4L476.1 1038.6L477.0 1042.7L478.3 1046.8L479.9 1050.9L481.6 1054.8L483.3 1058.4L484.8 1061.7L486.2 1064.6L487.8 1067.5L489.3 1070.0L490.7 1072.2L491.9 1073.9L492.7 1075.2L499.7 1070.8L498.9 1069.4L497.7 1067.7L496.4 1065.6L495.0 1063.3L493.6 1060.8L492.3 1058.1L490.8 1055.0L489.2 1051.4L487.6 1047.7L486.2 1044.0L485.0 1040.5L484.3 1037.4L484.1 1034.3L484.0 1030.8L484.0 1027.2L483.8 1023.7L483.5 1020.7L483.0 1018.4Z"/>
<path id="t7w8" d="M362.5 1002.9L362.4 1005.9L362.4 1010.2L363.0 1015.1L364.1 1020.3L365.9 1025.2L368.1 1029.5L370.4 1033.1L372.9 1036.3L375.6 1039.2L378.6 1041.9L381.7 1044.4L385.3 1046.7L389.5 1048.8L394.0 1050.3L398.4 1051.5L402.5 1052.6L406.2 1053.9L409.4 1055.5L412.4 1057.5L415.4 1059.8L418.2 1062.2L420.8 1064.9L423.0 1067.7L424.9 1070.9L426.5 1074.8L427.9 1079.9L429.1 1085.5L430.0 1090.9L430.8 1095.7L431.5 1099.1L441.4 1097.2L440.7 1094.0L439.9 1089.2L438.9 1083.5L437.7 1077.5L436.0 1071.6L433.9 1066.4L431.3 1062.1L428.4 1058.3L425.2 1054.9L421.8 1051.9L418.2 1049.3L414.4 1046.8L410.1 1044.6L405.5 1043.0L401.0 1041.7L396.9 1040.6L393.3 1039.4L390.3 1038.0L387.6 1036.2L385.0 1034.2L382.7 1032.1L380.6 1029.8L378.6 1027.3L376.8 1024.5L375.1 1021.1L373.4 1016.9L371.3 1012.5L369.0 1008.2L366.8 1004.6L365.0 1002.1Z"/>
<path id="t7w9" d="M348.6 1012.4L348.8 1015.1L349.2 1018.8L350.0 1023.1L351.0 1027.7L352.4 1032.2L354.1 1036.3L356.0 1040.2L358.0 1043.9L360.0 1047.6L361.8 1051.1L363.4 1054.4L364.7 1057.6L365.7 1060.8L366.5 1064.2L367.2 1067.6L367.7 1071.1L368.3 1074.7L368.8 1078.3L369.4 1082.0L369.9 1086.0L370.4 1089.9L370.8 1093.6L371.1 1096.7L371.4 1098.9L384.0 1097.4L383.8 1095.2L383.4 1092.1L383.0 1088.4L382.5 1084.4L382.0 1080.3L381.4 1076.4L380.8 1072.9L380.3 1069.2L379.7 1065.4L378.9 1061.5L378.0 1057.5L376.7 1053.4L375.1 1049.3L373.2 1045.3L371.2 1041.5L369.1 1037.9L367.2 1034.3L365.5 1030.9L363.5 1027.2L361.2 1023.2L358.6 1019.4L355.9 1015.9L353.5 1013.1L351.7 1011.0Z"/>
<path id="t7w10" d="M340.7 1033.6L341.7 1036.7L343.2 1040.7L344.9 1045.5L346.6 1050.7L348.3 1056.1L349.6 1061.4L350.9 1067.4L352.1 1074.4L353.2 1081.8L354.2 1088.8L355.0 1094.9L355.7 1099.2L369.1 1097.2L368.5 1092.9L367.6 1086.9L366.6 1079.8L365.5 1072.2L364.2 1064.9L362.9 1058.4L361.3 1052.4L359.5 1046.5L357.7 1041.0L356.0 1036.1L354.5 1032.1L353.5 1029.2Z"/>
<path id="t7w11" d="M375.8 1045.3L376.7 1048.1L378.2 1051.7L380.2 1055.9L382.7 1060.1L385.5 1064.0L388.3 1067.4L390.9 1070.6L393.5 1073.6L396.1 1076.5L398.7 1079.4L401.2 1082.3L403.8 1085.1L406.4 1088.1L409.3 1091.3L412.2 1094.5L414.8 1097.4L417.1 1099.8L418.7 1101.6L426.1 1094.8L424.5 1093.0L422.3 1090.6L419.6 1087.7L416.8 1084.5L413.9 1081.4L411.3 1078.4L408.7 1075.6L406.2 1072.7L403.6 1069.9L401.1 1067.0L398.6 1064.0L396.1 1061.1L393.4 1057.7L390.3 1054.1L386.9 1050.7L383.5 1047.7L380.3 1045.3L377.9 1043.7Z"/>
<path id="t7w12" d="M384.9 1066.3L384.3 1070.5L384.3 1076.5L385.5 1083.2L387.1 1089.7L388.5 1095.4L389.5 1099.3L398.4 1097.1L397.4 1093.2L396.1 1087.6L394.5 1081.0L392.5 1074.5L389.7 1069.2L387.2 1065.7Z"/>
</defs>
<g clip-path="url(#cp00)">
<rect x="54.3" y="804.0" width="143.6" height="143.0" fill="url(#gg0)"/>
<g filter="url(#tex)" fill="#1c1c1c">
<use href="#t1w0"/>
<use href="#t1w1"/>
<use href="#t1w2"/>
<use href="#t1w3"/>
<use href="#t1w4"/>
<use href="#t1w5"/>
<use href="#t1w6"/>
<use href="#t1w7"/>
<use href="#t1w8"/>
<use href="#t1w9"/>
<use href="#t1w10"/>
</g>
<g filter="url(#bl)" fill="none" stroke="#5a5a5a" stroke-width="0.5" opacity="0.45">
<use href="#t1w0"/>
<use href="#t1w1"/>
<use href="#t1w2"/>
<use href="#t1w3"/>
<use href="#t1w4"/>
<use href="#t1w5"/>
<use href="#t1w6"/>
<use href="#t1w7"/>
<use href="#t1w8"/>
<use href="#t1w9"/>
<use href="#t1w10"/>
</g></g>
<g clip-path="url(#cp01)">
<rect x="201.5" y="804.0" width="143.4" height="143.0" fill="#000"/>
<g transform="translate(147.3 0)">
<g filter="url(#bl2)" fill="#0000e6">
<use href="#t1w0" opacity="0.13"/>
<use href="#t1w1" opacity="0.13"/>
<use href="#t1w2" opacity="0.17"/>
<use href="#t1w3" opacity="0.09"/>
<use href="#t1w4" opacity="0.17"/>
<use href="#t1w5" opacity="0.09"/>
<use href="#t1w6" opacity="0.13"/>
<use href="#t1w7" opacity="0.13"/>
<use href="#t1w8" opacity="0.18"/>
<use href="#t1w9" opacity="0.09"/>
<use href="#t1w10" opacity="0.09"/>
</g>
<g filter="url(#spk)" fill="#000">
<use href="#t1w0" opacity="0.7"/>
<use href="#t1w1" opacity="0.8"/>
<use href="#t1w2" opacity="1"/>
<use href="#t1w3" opacity="0.35"/>
<use href="#t1w4" opacity="1"/>
<use href="#t1w5" opacity="0.35"/>
<use href="#t1w6" opacity="0.8"/>
<use href="#t1w7" opacity="0.8"/>
<use href="#t1w8" opacity="1"/>
<use href="#t1w9" opacity="0.35"/>
<use href="#t1w10" opacity="0.35"/>
</g></g>
</g>
<text x="333.50" y="820.40" font-size="11.6" text-anchor="end" fill="#fff">Day 10</text>
<g clip-path="url(#cp02)">
<rect x="349.2" y="804.0" width="143.6" height="143.0" fill="url(#gg1)"/>
<g filter="url(#tex)" fill="#1c1c1c">
<use href="#t3w0"/>
<use href="#t3w1"/>
<use href="#t3w2"/>
<use href="#t3w3"/>
<use href="#t3w4"/>
<use href="#t3w5"/>
<use href="#t3w6"/>
<use href="#t3w7"/>
<use href="#t3w8"/>
<use href="#t3w9"/>
</g>
<g filter="url(#bl)" fill="none" stroke="#5a5a5a" stroke-width="0.5" opacity="0.45">
<use href="#t3w0"/>
<use href="#t3w1"/>
<use href="#t3w2"/>
<use href="#t3w3"/>
<use href="#t3w4"/>
<use href="#t3w5"/>
<use href="#t3w6"/>
<use href="#t3w7"/>
<use href="#t3w8"/>
<use href="#t3w9"/>
</g></g>
<g clip-path="url(#cp03)">
<rect x="496.0" y="804.0" width="143.2" height="143.0" fill="#000"/>
<g transform="translate(147.3 0)">
<g filter="url(#bl2)" fill="#0000e6">
<use href="#t3w0" opacity="0.5"/>
<use href="#t3w1" opacity="0.25"/>
<use href="#t3w2" opacity="0.3"/>
<use href="#t3w3" opacity="0.22"/>
<use href="#t3w4" opacity="0.25"/>
<use href="#t3w5" opacity="0.12"/>
<use href="#t3w6" opacity="0.1"/>
<use href="#t3w7" opacity="0.5"/>
<use href="#t3w8" opacity="0.5"/>
<use href="#t3w9" opacity="0.5"/>
</g>
<g filter="url(#spk)" fill="#000">
<use href="#t3w0" opacity="0.8"/>
<use href="#t3w1" opacity="0.7"/>
<use href="#t3w2" opacity="0.8"/>
<use href="#t3w3" opacity="0.4"/>
<use href="#t3w4" opacity="0.4"/>
<use href="#t3w5" opacity="0.5"/>
<use href="#t3w6" opacity="0.4"/>
<use href="#t3w7" opacity="0.4"/>
<use href="#t3w8" opacity="0.5"/>
<use href="#t3w9" opacity="0.5"/>
</g></g>
<g filter="url(#bl3)" fill="none" stroke-linecap="round">
<path d="M502.3 812.0C502.6 815.0 502.9 824.0 504.0 830.0C505.1 836.0 508.0 845.0 508.8 848.0" stroke="#2038ff" stroke-width="6" opacity="0.9"/>
<path d="M515.3 826.0C515.7 830.0 517.2 841.3 517.5 850.0C517.8 858.7 517.1 873.3 517.0 878.0" stroke="#1830ff" stroke-width="2.4" opacity="0.8"/>
<path d="M547.8 876.0C546.5 878.0 544.3 885.0 540.0 888.0C535.7 891.0 524.8 893.0 521.8 894.0" stroke="#1830ff" stroke-width="3" opacity="0.85"/>
<path d="M623.0 902.0C621.5 905.0 615.5 917.0 614.0 920.0" stroke="#1020f0" stroke-width="3.5" opacity="0.5"/>
</g>
</g>
<text x="628.80" y="820.40" font-size="11.6" text-anchor="end" fill="#fff">Day 15</text>
<g clip-path="url(#cp10)">
<rect x="54.3" y="951.0" width="143.6" height="142.6" fill="url(#gg2)"/>
<g filter="url(#tex)" fill="#1c1c1c">
<use href="#t5w0"/>
<use href="#t5w1"/>
<use href="#t5w2"/>
<use href="#t5w3"/>
<use href="#t5w4"/>
<use href="#t5w5"/>
<use href="#t5w6"/>
<use href="#t5w7"/>
<use href="#t5w8"/>
<use href="#t5w9"/>
<use href="#t5w10"/>
</g>
<g filter="url(#bl)" fill="none" stroke="#5a5a5a" stroke-width="0.5" opacity="0.45">
<use href="#t5w0"/>
<use href="#t5w1"/>
<use href="#t5w2"/>
<use href="#t5w3"/>
<use href="#t5w4"/>
<use href="#t5w5"/>
<use href="#t5w6"/>
<use href="#t5w7"/>
<use href="#t5w8"/>
<use href="#t5w9"/>
<use href="#t5w10"/>
</g></g>
<g clip-path="url(#cp11)">
<rect x="201.5" y="951.0" width="143.4" height="142.6" fill="#000"/>
<g transform="translate(147.3 0)">
<g filter="url(#bl2)" fill="#0000e6">
<use href="#t5w0" opacity="0.07"/>
<use href="#t5w1" opacity="0.07"/>
<use href="#t5w2" opacity="0.07"/>
<use href="#t5w3" opacity="0.13"/>
<use href="#t5w4" opacity="0.1"/>
<use href="#t5w5" opacity="0.07"/>
<use href="#t5w6" opacity="0.07"/>
<use href="#t5w7" opacity="0.12"/>
<use href="#t5w8" opacity="0.1"/>
<use href="#t5w9" opacity="0.07"/>
<use href="#t5w10" opacity="0.07"/>
</g>
<g filter="url(#spk)" fill="#000">
<use href="#t5w0" opacity="0.3"/>
<use href="#t5w1" opacity="0.3"/>
<use href="#t5w2" opacity="0.3"/>
<use href="#t5w3" opacity="0.7"/>
<use href="#t5w4" opacity="0.6"/>
<use href="#t5w5" opacity="0.3"/>
<use href="#t5w6" opacity="0.3"/>
<use href="#t5w7" opacity="0.7"/>
<use href="#t5w8" opacity="0.7"/>
<use href="#t5w9" opacity="0.3"/>
<use href="#t5w10" opacity="0.3"/>
</g></g>
</g>
<text x="333.50" y="966.90" font-size="11.6" text-anchor="end" fill="#fff">Day 10</text>
<g clip-path="url(#cp12)">
<rect x="349.2" y="951.0" width="143.6" height="142.6" fill="url(#gg3)"/>
<g filter="url(#tex)" fill="#1c1c1c">
<use href="#t7w0"/>
<use href="#t7w1"/>
<use href="#t7w2"/>
<use href="#t7w3"/>
<use href="#t7w4"/>
<use href="#t7w5"/>
<use href="#t7w6"/>
<use href="#t7w7"/>
<use href="#t7w8"/>
<use href="#t7w9"/>
<use href="#t7w10"/>
<use href="#t7w11"/>
<use href="#t7w12"/>
</g>
<g filter="url(#bl)" fill="none" stroke="#5a5a5a" stroke-width="0.5" opacity="0.45">
<use href="#t7w0"/>
<use href="#t7w1"/>
<use href="#t7w2"/>
<use href="#t7w3"/>
<use href="#t7w4"/>
<use href="#t7w5"/>
<use href="#t7w6"/>
<use href="#t7w7"/>
<use href="#t7w8"/>
<use href="#t7w9"/>
<use href="#t7w10"/>
<use href="#t7w11"/>
<use href="#t7w12"/>
</g></g>
<g clip-path="url(#cp13)">
<rect x="496.0" y="951.0" width="143.2" height="142.6" fill="#000"/>
<g transform="translate(147.3 0)">
<g filter="url(#bl2)" fill="#0000e6">
<use href="#t7w0" opacity="0.14"/>
<use href="#t7w1" opacity="0.1"/>
<use href="#t7w2" opacity="0.1"/>
<use href="#t7w3" opacity="0.3"/>
<use href="#t7w4" opacity="0.25"/>
<use href="#t7w5" opacity="0.16"/>
<use href="#t7w6" opacity="0.1"/>
<use href="#t7w7" opacity="0.1"/>
<use href="#t7w8" opacity="0.16"/>
<use href="#t7w9" opacity="0.1"/>
<use href="#t7w10" opacity="0.1"/>
<use href="#t7w11" opacity="0.1"/>
<use href="#t7w12" opacity="0.1"/>
</g>
<g filter="url(#spk)" fill="#000">
<use href="#t7w0" opacity="0.4"/>
<use href="#t7w1" opacity="0.2"/>
<use href="#t7w2" opacity="0.2"/>
<use href="#t7w3" opacity="0.4"/>
<use href="#t7w4" opacity="0.3"/>
<use href="#t7w5" opacity="0.5"/>
<use href="#t7w6" opacity="0.2"/>
<use href="#t7w7" opacity="0.2"/>
<use href="#t7w8" opacity="0.5"/>
<use href="#t7w9" opacity="0.2"/>
<use href="#t7w10" opacity="0.2"/>
<use href="#t7w11" opacity="0.2"/>
<use href="#t7w12" opacity="0.2"/>
</g></g>
<g filter="url(#bl3)" fill="none" stroke-linecap="round">
<path d="M511.0 1011.0C511.5 1012.8 512.6 1018.0 514.0 1022.0C515.4 1026.0 518.7 1032.8 519.6 1035.0" stroke="#1028ff" stroke-width="5.5" opacity="0.9"/>
<path d="M573.0 1032.7C573.7 1034.4 575.6 1039.4 577.0 1043.0C578.4 1046.6 580.8 1052.5 581.6 1054.4" stroke="#0818e0" stroke-width="4.5" opacity="0.8"/>
<path d="M590.3 993.7C590.8 995.8 592.0 1001.7 593.0 1006.0C594.0 1010.3 595.8 1017.4 596.4 1019.7" stroke="#0010c8" stroke-width="4.5" opacity="0.7"/>
<path d="M508.8 969.9C514.0 970.2 529.9 971.1 540.0 972.0C550.1 972.9 564.6 974.9 569.5 975.5" stroke="#0010c8" stroke-width="3.5" opacity="0.7"/>
<path d="M628.0 1030.6C628.2 1031.8 628.6 1035.5 629.0 1038.0C629.4 1040.5 630.0 1044.4 630.2 1045.7" stroke="#0010c8" stroke-width="4.5" opacity="0.7"/>
<path d="M569.5 978.5C570.9 979.9 576.6 985.6 578.0 987.0" stroke="#0010c8" stroke-width="3.5" opacity="0.7"/>
</g>
</g>
<text x="628.80" y="966.90" font-size="11.6" text-anchor="end" fill="#fff">Day 15</text>
<rect x="624.30" y="1084.70" width="7.60" height="1.70" fill="#ddd"/>
<text x="106.00" y="1152.70" font-size="15" text-anchor="start" fill="#000">j</text>
<circle cx="168.20" cy="1146.50" r="2.4" fill="#f00000" stroke="#000" stroke-width="0.7"/>
<path d="M168.20 1159.90L171.00 1162.70L168.20 1165.50L165.40 1162.70Z" fill="#0000b4" stroke="#000" stroke-width="0.7"/>
<text x="180.20" y="1149.60" font-size="8.6" text-anchor="start" fill="#000">OP50</text>
<text x="180.20" y="1165.80" font-size="8.6" text-anchor="start" fill="#000">OP50+Probio-M9</text>
<rect x="176.20" y="1279.80" width="14.80" height="61.10" fill="none" stroke="#000" stroke-width="1.3"/>
<line x1="183.60" y1="1293.26" x2="183.60" y2="1266.34" stroke="#000" stroke-width="1.2" stroke-linecap="butt"/>
<line x1="179.60" y1="1293.26" x2="187.60" y2="1293.26" stroke="#000" stroke-width="1.2" stroke-linecap="butt"/>
<line x1="179.60" y1="1266.34" x2="187.60" y2="1266.34" stroke="#000" stroke-width="1.2" stroke-linecap="butt"/>
<rect x="199.70" y="1308.33" width="14.80" height="32.57" fill="none" stroke="#000" stroke-width="1.3"/>
<line x1="207.10" y1="1315.87" x2="207.10" y2="1300.79" stroke="#000" stroke-width="1.2" stroke-linecap="butt"/>
<line x1="203.10" y1="1315.87" x2="211.10" y2="1315.87" stroke="#000" stroke-width="1.2" stroke-linecap="butt"/>
<line x1="203.10" y1="1300.79" x2="211.10" y2="1300.79" stroke="#000" stroke-width="1.2" stroke-linecap="butt"/>
<rect x="238.80" y="1265.00" width="14.80" height="75.90" fill="none" stroke="#000" stroke-width="1.3"/>
<line x1="246.20" y1="1285.18" x2="246.20" y2="1244.81" stroke="#000" stroke-width="1.2" stroke-linecap="butt"/>
<line x1="242.20" y1="1285.18" x2="250.20" y2="1285.18" stroke="#000" stroke-width="1.2" stroke-linecap="butt"/>
<line x1="242.20" y1="1244.81" x2="250.20" y2="1244.81" stroke="#000" stroke-width="1.2" stroke-linecap="butt"/>
<rect x="262.50" y="1290.57" width="14.80" height="50.33" fill="none" stroke="#000" stroke-width="1.3"/>
<line x1="269.90" y1="1305.37" x2="269.90" y2="1275.76" stroke="#000" stroke-width="1.2" stroke-linecap="butt"/>
<line x1="265.90" y1="1305.37" x2="273.90" y2="1305.37" stroke="#000" stroke-width="1.2" stroke-linecap="butt"/>
<line x1="265.90" y1="1275.76" x2="273.90" y2="1275.76" stroke="#000" stroke-width="1.2" stroke-linecap="butt"/>
<line x1="167.80" y1="1178.75" x2="167.80" y2="1341.55" stroke="#000" stroke-width="1.3" stroke-linecap="butt"/>
<line x1="164.30" y1="1340.90" x2="167.80" y2="1340.90" stroke="#000" stroke-width="1.3" stroke-linecap="butt"/>
<text x="162.80" y="1343.60" font-size="7.5" text-anchor="end" fill="#000">0</text>
<line x1="164.30" y1="1287.07" x2="167.80" y2="1287.07" stroke="#000" stroke-width="1.3" stroke-linecap="butt"/>
<text x="162.80" y="1289.77" font-size="7.5" text-anchor="end" fill="#000">20</text>
<line x1="164.30" y1="1233.23" x2="167.80" y2="1233.23" stroke="#000" stroke-width="1.3" stroke-linecap="butt"/>
<text x="162.80" y="1235.93" font-size="7.5" text-anchor="end" fill="#000">40</text>
<line x1="164.30" y1="1179.40" x2="167.80" y2="1179.40" stroke="#000" stroke-width="1.3" stroke-linecap="butt"/>
<text x="162.80" y="1182.10" font-size="7.5" text-anchor="end" fill="#000">60</text>
<line x1="167.15" y1="1340.90" x2="287.00" y2="1340.90" stroke="#000" stroke-width="1.3" stroke-linecap="butt"/>
<circle cx="183.60" cy="1300.49" r="2.2" fill="#f00000" stroke="#000" stroke-width="0.7"/>
<circle cx="190.10" cy="1297.70" r="2.2" fill="#f00000" stroke="#000" stroke-width="0.7"/>
<circle cx="186.60" cy="1297.53" r="2.2" fill="#f00000" stroke="#000" stroke-width="0.7"/>
<circle cx="180.10" cy="1296.22" r="2.2" fill="#f00000" stroke="#000" stroke-width="0.7"/>
<circle cx="183.60" cy="1295.55" r="2.2" fill="#f00000" stroke="#000" stroke-width="0.7"/>
<circle cx="190.60" cy="1290.33" r="2.2" fill="#f00000" stroke="#000" stroke-width="0.7"/>
<circle cx="180.10" cy="1290.17" r="2.2" fill="#f00000" stroke="#000" stroke-width="0.7"/>
<circle cx="187.10" cy="1289.91" r="2.2" fill="#f00000" stroke="#000" stroke-width="0.7"/>
<circle cx="183.60" cy="1289.53" r="2.2" fill="#f00000" stroke="#000" stroke-width="0.7"/>
<circle cx="176.91" cy="1286.96" r="2.2" fill="#f00000" stroke="#000" stroke-width="0.7"/>
<circle cx="187.46" cy="1285.76" r="2.2" fill="#f00000" stroke="#000" stroke-width="0.7"/>
<circle cx="178.23" cy="1285.75" r="2.2" fill="#f00000" stroke="#000" stroke-width="0.7"/>
<circle cx="181.84" cy="1285.23" r="2.2" fill="#f00000" stroke="#000" stroke-width="0.7"/>
<circle cx="190.60" cy="1285.19" r="2.2" fill="#f00000" stroke="#000" stroke-width="0.7"/>
<circle cx="187.10" cy="1284.42" r="2.2" fill="#f00000" stroke="#000" stroke-width="0.7"/>
<circle cx="183.60" cy="1284.38" r="2.2" fill="#f00000" stroke="#000" stroke-width="0.7"/>
<circle cx="180.10" cy="1283.46" r="2.2" fill="#f00000" stroke="#000" stroke-width="0.7"/>
<circle cx="176.60" cy="1283.45" r="2.2" fill="#f00000" stroke="#000" stroke-width="0.7"/>
<circle cx="181.78" cy="1282.46" r="2.2" fill="#f00000" stroke="#000" stroke-width="0.7"/>
<circle cx="185.10" cy="1280.80" r="2.2" fill="#f00000" stroke="#000" stroke-width="0.7"/>
<circle cx="178.60" cy="1280.17" r="2.2" fill="#f00000" stroke="#000" stroke-width="0.7"/>
<circle cx="182.10" cy="1278.48" r="2.2" fill="#f00000" stroke="#000" stroke-width="0.7"/>
<circle cx="185.10" cy="1276.24" r="2.2" fill="#f00000" stroke="#000" stroke-width="0.7"/>
<circle cx="181.60" cy="1274.75" r="2.2" fill="#f00000" stroke="#000" stroke-width="0.7"/>
<circle cx="184.60" cy="1272.47" r="2.2" fill="#f00000" stroke="#000" stroke-width="0.7"/>
<circle cx="181.10" cy="1271.16" r="2.2" fill="#f00000" stroke="#000" stroke-width="0.7"/>
<circle cx="183.60" cy="1268.16" r="2.2" fill="#f00000" stroke="#000" stroke-width="0.7"/>
<circle cx="186.60" cy="1265.83" r="2.2" fill="#f00000" stroke="#000" stroke-width="0.7"/>
<circle cx="181.10" cy="1265.40" r="2.2" fill="#f00000" stroke="#000" stroke-width="0.7"/>
<circle cx="177.60" cy="1264.60" r="2.2" fill="#f00000" stroke="#000" stroke-width="0.7"/>
<circle cx="183.60" cy="1252.08" r="2.2" fill="#f00000" stroke="#000" stroke-width="0.7"/>
<circle cx="185.10" cy="1248.85" r="2.2" fill="#f00000" stroke="#000" stroke-width="0.7"/>
<path d="M209.63 1314.82L212.13 1317.32L209.63 1319.82L207.13 1317.32Z" fill="#0000b4" stroke="#000" stroke-width="0.7"/>
<path d="M200.10 1314.70L202.60 1317.20L200.10 1319.70L197.60 1317.20Z" fill="#0000b4" stroke="#000" stroke-width="0.7"/>
<path d="M207.60 1314.59L210.10 1317.09L207.60 1319.59L205.10 1317.09Z" fill="#0000b4" stroke="#000" stroke-width="0.7"/>
<path d="M203.48 1313.64L205.98 1316.14L203.48 1318.64L200.98 1316.14Z" fill="#0000b4" stroke="#000" stroke-width="0.7"/>
<path d="M214.10 1312.93L216.60 1315.43L214.10 1317.93L211.60 1315.43Z" fill="#0000b4" stroke="#000" stroke-width="0.7"/>
<path d="M210.27 1311.81L212.77 1314.31L210.27 1316.81L207.77 1314.31Z" fill="#0000b4" stroke="#000" stroke-width="0.7"/>
<path d="M202.23 1311.62L204.73 1314.12L202.23 1316.62L199.73 1314.12Z" fill="#0000b4" stroke="#000" stroke-width="0.7"/>
<path d="M206.73 1311.12L209.23 1313.62L206.73 1316.12L204.23 1313.62Z" fill="#0000b4" stroke="#000" stroke-width="0.7"/>
<path d="M203.93 1310.47L206.43 1312.97L203.93 1315.47L201.43 1312.97Z" fill="#0000b4" stroke="#000" stroke-width="0.7"/>
<path d="M212.02 1309.99L214.52 1312.49L212.02 1314.99L209.52 1312.49Z" fill="#0000b4" stroke="#000" stroke-width="0.7"/>
<path d="M206.19 1309.34L208.69 1311.84L206.19 1314.34L203.69 1311.84Z" fill="#0000b4" stroke="#000" stroke-width="0.7"/>
<path d="M202.68 1308.78L205.18 1311.28L202.68 1313.78L200.18 1311.28Z" fill="#0000b4" stroke="#000" stroke-width="0.7"/>
<path d="M206.64 1308.57L209.14 1311.07L206.64 1313.57L204.14 1311.07Z" fill="#0000b4" stroke="#000" stroke-width="0.7"/>
<path d="M200.36 1308.52L202.86 1311.02L200.36 1313.52L197.86 1311.02Z" fill="#0000b4" stroke="#000" stroke-width="0.7"/>
<path d="M214.10 1308.31L216.60 1310.81L214.10 1313.31L211.60 1310.81Z" fill="#0000b4" stroke="#000" stroke-width="0.7"/>
<path d="M210.60 1307.83L213.10 1310.33L210.60 1312.83L208.10 1310.33Z" fill="#0000b4" stroke="#000" stroke-width="0.7"/>
<path d="M207.10 1307.77L209.60 1310.27L207.10 1312.77L204.60 1310.27Z" fill="#0000b4" stroke="#000" stroke-width="0.7"/>
<path d="M203.60 1307.48L206.10 1309.98L203.60 1312.48L201.10 1309.98Z" fill="#0000b4" stroke="#000" stroke-width="0.7"/>
<path d="M200.10 1306.77L202.60 1309.27L200.10 1311.77L197.60 1309.27Z" fill="#0000b4" stroke="#000" stroke-width="0.7"/>
<path d="M203.37 1305.61L205.87 1308.11L203.37 1310.61L200.87 1308.11Z" fill="#0000b4" stroke="#000" stroke-width="0.7"/>
<path d="M207.10 1303.69L209.60 1306.19L207.10 1308.69L204.60 1306.19Z" fill="#0000b4" stroke="#000" stroke-width="0.7"/>
<path d="M210.60 1303.62L213.10 1306.12L210.60 1308.62L208.10 1306.12Z" fill="#0000b4" stroke="#000" stroke-width="0.7"/>
<path d="M214.10 1303.34L216.60 1305.84L214.10 1308.34L211.60 1305.84Z" fill="#0000b4" stroke="#000" stroke-width="0.7"/>
<path d="M200.60 1303.19L203.10 1305.69L200.60 1308.19L198.10 1305.69Z" fill="#0000b4" stroke="#000" stroke-width="0.7"/>
<path d="M203.11 1302.86L205.61 1305.36L203.11 1307.86L200.61 1305.36Z" fill="#0000b4" stroke="#000" stroke-width="0.7"/>
<path d="M200.74 1302.11L203.24 1304.61L200.74 1307.11L198.24 1304.61Z" fill="#0000b4" stroke="#000" stroke-width="0.7"/>
<path d="M209.55 1301.77L212.05 1304.27L209.55 1306.77L207.05 1304.27Z" fill="#0000b4" stroke="#000" stroke-width="0.7"/>
<path d="M211.92 1301.70L214.42 1304.20L211.92 1306.70L209.42 1304.20Z" fill="#0000b4" stroke="#000" stroke-width="0.7"/>
<path d="M206.10 1300.07L208.60 1302.57L206.10 1305.07L203.60 1302.57Z" fill="#0000b4" stroke="#000" stroke-width="0.7"/>
<path d="M214.60 1299.44L217.10 1301.94L214.60 1304.44L212.10 1301.94Z" fill="#0000b4" stroke="#000" stroke-width="0.7"/>
<path d="M209.10 1297.88L211.60 1300.38L209.10 1302.88L206.60 1300.38Z" fill="#0000b4" stroke="#000" stroke-width="0.7"/>
<path d="M203.60 1297.35L206.10 1299.85L203.60 1302.35L201.10 1299.85Z" fill="#0000b4" stroke="#000" stroke-width="0.7"/>
<path d="M207.10 1288.60L209.60 1291.10L207.10 1293.60L204.60 1291.10Z" fill="#0000b4" stroke="#000" stroke-width="0.7"/>
<path d="M203.60 1287.26L206.10 1289.76L203.60 1292.26L201.10 1289.76Z" fill="#0000b4" stroke="#000" stroke-width="0.7"/>
<circle cx="248.70" cy="1284.36" r="2.2" fill="#f00000" stroke="#000" stroke-width="0.7"/>
<circle cx="246.20" cy="1281.50" r="2.2" fill="#f00000" stroke="#000" stroke-width="0.7"/>
<circle cx="249.20" cy="1277.82" r="2.2" fill="#f00000" stroke="#000" stroke-width="0.7"/>
<circle cx="244.20" cy="1276.80" r="2.2" fill="#f00000" stroke="#000" stroke-width="0.7"/>
<circle cx="247.20" cy="1274.70" r="2.2" fill="#f00000" stroke="#000" stroke-width="0.7"/>
<circle cx="238.70" cy="1273.98" r="2.2" fill="#f00000" stroke="#000" stroke-width="0.7"/>
<circle cx="253.70" cy="1273.56" r="2.2" fill="#f00000" stroke="#000" stroke-width="0.7"/>
<circle cx="253.20" cy="1273.29" r="2.2" fill="#f00000" stroke="#000" stroke-width="0.7"/>
<circle cx="241.70" cy="1272.16" r="2.2" fill="#f00000" stroke="#000" stroke-width="0.7"/>
<circle cx="249.70" cy="1272.04" r="2.2" fill="#f00000" stroke="#000" stroke-width="0.7"/>
<circle cx="245.20" cy="1271.81" r="2.2" fill="#f00000" stroke="#000" stroke-width="0.7"/>
<circle cx="247.70" cy="1268.96" r="2.2" fill="#f00000" stroke="#000" stroke-width="0.7"/>
<circle cx="252.20" cy="1268.73" r="2.2" fill="#f00000" stroke="#000" stroke-width="0.7"/>
<circle cx="244.19" cy="1267.23" r="2.2" fill="#f00000" stroke="#000" stroke-width="0.7"/>
<circle cx="239.20" cy="1266.88" r="2.2" fill="#f00000" stroke="#000" stroke-width="0.7"/>
<circle cx="249.70" cy="1266.02" r="2.2" fill="#f00000" stroke="#000" stroke-width="0.7"/>
<circle cx="246.20" cy="1265.74" r="2.2" fill="#f00000" stroke="#000" stroke-width="0.7"/>
<circle cx="242.70" cy="1265.20" r="2.2" fill="#f00000" stroke="#000" stroke-width="0.7"/>
<circle cx="253.20" cy="1265.18" r="2.2" fill="#f00000" stroke="#000" stroke-width="0.7"/>
<circle cx="241.29" cy="1263.59" r="2.2" fill="#f00000" stroke="#000" stroke-width="0.7"/>
<circle cx="247.70" cy="1262.50" r="2.2" fill="#f00000" stroke="#000" stroke-width="0.7"/>
<circle cx="246.20" cy="1258.90" r="2.2" fill="#f00000" stroke="#000" stroke-width="0.7"/>
<circle cx="249.70" cy="1258.04" r="2.2" fill="#f00000" stroke="#000" stroke-width="0.7"/>
<circle cx="243.20" cy="1256.99" r="2.2" fill="#f00000" stroke="#000" stroke-width="0.7"/>
<circle cx="239.70" cy="1256.96" r="2.2" fill="#f00000" stroke="#000" stroke-width="0.7"/>
<circle cx="246.20" cy="1252.12" r="2.2" fill="#f00000" stroke="#000" stroke-width="0.7"/>
<circle cx="249.70" cy="1251.43" r="2.2" fill="#f00000" stroke="#000" stroke-width="0.7"/>
<circle cx="243.70" cy="1249.50" r="2.2" fill="#f00000" stroke="#000" stroke-width="0.7"/>
<circle cx="246.20" cy="1245.12" r="2.2" fill="#f00000" stroke="#000" stroke-width="0.7"/>
<circle cx="249.70" cy="1244.30" r="2.2" fill="#f00000" stroke="#000" stroke-width="0.7"/>
<circle cx="246.20" cy="1238.62" r="2.2" fill="#f00000" stroke="#000" stroke-width="0.7"/>
<circle cx="242.70" cy="1237.27" r="2.2" fill="#f00000" stroke="#000" stroke-width="0.7"/>
<circle cx="246.20" cy="1223.01" r="2.2" fill="#f00000" stroke="#000" stroke-width="0.7"/>
<circle cx="246.20" cy="1209.01" r="2.2" fill="#f00000" stroke="#000" stroke-width="0.7"/>
<path d="M269.90 1309.33L272.40 1311.83L269.90 1314.33L267.40 1311.83Z" fill="#0000b4" stroke="#000" stroke-width="0.7"/>
<path d="M276.40 1307.45L278.90 1309.95L276.40 1312.45L273.90 1309.95Z" fill="#0000b4" stroke="#000" stroke-width="0.7"/>
<path d="M262.90 1307.25L265.40 1309.75L262.90 1312.25L260.40 1309.75Z" fill="#0000b4" stroke="#000" stroke-width="0.7"/>
<path d="M266.40 1305.94L268.90 1308.44L266.40 1310.94L263.90 1308.44Z" fill="#0000b4" stroke="#000" stroke-width="0.7"/>
<path d="M273.40 1305.58L275.90 1308.08L273.40 1310.58L270.90 1308.08Z" fill="#0000b4" stroke="#000" stroke-width="0.7"/>
<path d="M269.90 1304.46L272.40 1306.96L269.90 1309.46L267.40 1306.96Z" fill="#0000b4" stroke="#000" stroke-width="0.7"/>
<path d="M274.40 1301.32L276.90 1303.82L274.40 1306.32L271.90 1303.82Z" fill="#0000b4" stroke="#000" stroke-width="0.7"/>
<path d="M267.90 1300.35L270.40 1302.85L267.90 1305.35L265.40 1302.85Z" fill="#0000b4" stroke="#000" stroke-width="0.7"/>
<path d="M271.40 1299.23L273.90 1301.73L271.40 1304.23L268.90 1301.73Z" fill="#0000b4" stroke="#000" stroke-width="0.7"/>
<path d="M273.90 1296.59L276.40 1299.09L273.90 1301.59L271.40 1299.09Z" fill="#0000b4" stroke="#000" stroke-width="0.7"/>
<path d="M266.40 1296.41L268.90 1298.91L266.40 1301.41L263.90 1298.91Z" fill="#0000b4" stroke="#000" stroke-width="0.7"/>
<path d="M269.90 1295.97L272.40 1298.47L269.90 1300.97L267.40 1298.47Z" fill="#0000b4" stroke="#000" stroke-width="0.7"/>
<path d="M272.90 1293.20L275.40 1295.70L272.90 1298.20L270.40 1295.70Z" fill="#0000b4" stroke="#000" stroke-width="0.7"/>
<path d="M269.59 1291.54L272.09 1294.04L269.59 1296.54L267.09 1294.04Z" fill="#0000b4" stroke="#000" stroke-width="0.7"/>
<path d="M276.40 1291.47L278.90 1293.97L276.40 1296.47L273.90 1293.97Z" fill="#0000b4" stroke="#000" stroke-width="0.7"/>
<path d="M266.40 1291.16L268.90 1293.66L266.40 1296.16L263.90 1293.66Z" fill="#0000b4" stroke="#000" stroke-width="0.7"/>
<path d="M269.90 1290.22L272.40 1292.72L269.90 1295.22L267.40 1292.72Z" fill="#0000b4" stroke="#000" stroke-width="0.7"/>
<path d="M273.40 1289.30L275.90 1291.80L273.40 1294.30L270.90 1291.80Z" fill="#0000b4" stroke="#000" stroke-width="0.7"/>
<path d="M263.40 1288.98L265.90 1291.48L263.40 1293.98L260.90 1291.48Z" fill="#0000b4" stroke="#000" stroke-width="0.7"/>
<path d="M277.40 1288.09L279.90 1290.59L277.40 1293.09L274.90 1290.59Z" fill="#0000b4" stroke="#000" stroke-width="0.7"/>
<path d="M269.90 1285.49L272.40 1287.99L269.90 1290.49L267.40 1287.99Z" fill="#0000b4" stroke="#000" stroke-width="0.7"/>
<path d="M266.40 1284.07L268.90 1286.57L266.40 1289.07L263.90 1286.57Z" fill="#0000b4" stroke="#000" stroke-width="0.7"/>
<path d="M271.90 1282.62L274.40 1285.12L271.90 1287.62L269.40 1285.12Z" fill="#0000b4" stroke="#000" stroke-width="0.7"/>
<path d="M275.40 1282.01L277.90 1284.51L275.40 1287.01L272.90 1284.51Z" fill="#0000b4" stroke="#000" stroke-width="0.7"/>
<path d="M269.40 1280.09L271.90 1282.59L269.40 1285.09L266.90 1282.59Z" fill="#0000b4" stroke="#000" stroke-width="0.7"/>
<path d="M265.90 1279.71L268.40 1282.21L265.90 1284.71L263.40 1282.21Z" fill="#0000b4" stroke="#000" stroke-width="0.7"/>
<path d="M272.90 1278.68L275.40 1281.18L272.90 1283.68L270.40 1281.18Z" fill="#0000b4" stroke="#000" stroke-width="0.7"/>
<path d="M276.40 1278.29L278.90 1280.79L276.40 1283.29L273.90 1280.79Z" fill="#0000b4" stroke="#000" stroke-width="0.7"/>
<path d="M263.40 1277.17L265.90 1279.67L263.40 1282.17L260.90 1279.67Z" fill="#0000b4" stroke="#000" stroke-width="0.7"/>
<path d="M268.42 1276.87L270.92 1279.37L268.42 1281.87L265.92 1279.37Z" fill="#0000b4" stroke="#000" stroke-width="0.7"/>
<path d="M265.19 1276.16L267.69 1278.66L265.19 1281.16L262.69 1278.66Z" fill="#0000b4" stroke="#000" stroke-width="0.7"/>
<path d="M269.90 1272.85L272.40 1275.35L269.90 1277.85L267.40 1275.35Z" fill="#0000b4" stroke="#000" stroke-width="0.7"/>
<path d="M269.90 1249.04L272.40 1251.54L269.90 1254.04L267.40 1251.54Z" fill="#0000b4" stroke="#000" stroke-width="0.7"/>
<line x1="195.30" y1="1340.90" x2="195.30" y2="1344.40" stroke="#000" stroke-width="1.3" stroke-linecap="butt"/>
<text x="198.30" y="1349.90" font-size="8" text-anchor="end" fill="#000" transform="rotate(-45 198.30 1349.90)">Day 10</text>
<line x1="257.80" y1="1340.90" x2="257.80" y2="1344.40" stroke="#000" stroke-width="1.3" stroke-linecap="butt"/>
<text x="260.80" y="1349.90" font-size="8" text-anchor="end" fill="#000" transform="rotate(-45 260.80 1349.90)">Day 15</text>
<path d="M183.90 1239.00V1229.40H208.40V1281.00" fill="none" stroke="#000" stroke-width="1.0"/>
<text x="196.30" y="1226.20" font-size="9.3" text-anchor="middle" fill="#000">***</text>
<path d="M245.70 1201.50V1193.80H269.50V1242.50" fill="none" stroke="#000" stroke-width="1.0"/>
<text x="257.80" y="1190.60" font-size="9.3" text-anchor="middle" fill="#000">***</text>
<text x="137.50" y="1260.00" font-size="8.6" text-anchor="middle" fill="#000" transform="rotate(-90 137.50 1260.00)">Fluorescence intensity (a.u.)</text>
<text x="337.50" y="1152.50" font-size="15" text-anchor="start" fill="#000">k</text>
<circle cx="407.70" cy="1142.10" r="2.4" fill="#f00000" stroke="#000" stroke-width="0.7"/>
<path d="M407.70 1156.40L410.50 1159.20L407.70 1162.00L404.90 1159.20Z" fill="#0000b4" stroke="#000" stroke-width="0.7"/>
<text x="419.40" y="1145.20" font-size="8.6" text-anchor="start" fill="#000">OP50</text>
<text x="419.40" y="1162.30" font-size="8.6" text-anchor="start" fill="#000">OP50+Probio-M9</text>
<rect x="368.20" y="1226.39" width="15.50" height="113.11" fill="none" stroke="#000" stroke-width="1.3"/>
<line x1="375.95" y1="1251.52" x2="375.95" y2="1201.25" stroke="#000" stroke-width="1.2" stroke-linecap="butt"/>
<line x1="371.95" y1="1251.52" x2="379.95" y2="1251.52" stroke="#000" stroke-width="1.2" stroke-linecap="butt"/>
<line x1="371.95" y1="1201.25" x2="379.95" y2="1201.25" stroke="#000" stroke-width="1.2" stroke-linecap="butt"/>
<rect x="392.90" y="1213.82" width="15.50" height="125.68" fill="none" stroke="#000" stroke-width="1.3"/>
<line x1="400.65" y1="1226.39" x2="400.65" y2="1200.47" stroke="#000" stroke-width="1.2" stroke-linecap="butt"/>
<line x1="396.65" y1="1226.39" x2="404.65" y2="1226.39" stroke="#000" stroke-width="1.2" stroke-linecap="butt"/>
<line x1="396.65" y1="1200.47" x2="404.65" y2="1200.47" stroke="#000" stroke-width="1.2" stroke-linecap="butt"/>
<rect x="433.90" y="1291.27" width="15.50" height="48.23" fill="none" stroke="#000" stroke-width="1.3"/>
<line x1="441.65" y1="1311.22" x2="441.65" y2="1271.16" stroke="#000" stroke-width="1.2" stroke-linecap="butt"/>
<line x1="437.65" y1="1311.22" x2="445.65" y2="1311.22" stroke="#000" stroke-width="1.2" stroke-linecap="butt"/>
<line x1="437.65" y1="1271.16" x2="445.65" y2="1271.16" stroke="#000" stroke-width="1.2" stroke-linecap="butt"/>
<rect x="458.50" y="1255.14" width="15.50" height="84.36" fill="none" stroke="#000" stroke-width="1.3"/>
<line x1="466.25" y1="1264.09" x2="466.25" y2="1246.81" stroke="#000" stroke-width="1.2" stroke-linecap="butt"/>
<line x1="462.25" y1="1264.09" x2="470.25" y2="1264.09" stroke="#000" stroke-width="1.2" stroke-linecap="butt"/>
<line x1="462.25" y1="1246.81" x2="470.25" y2="1246.81" stroke="#000" stroke-width="1.2" stroke-linecap="butt"/>
<rect x="499.10" y="1323.16" width="15.50" height="16.34" fill="none" stroke="#000" stroke-width="1.3"/>
<line x1="506.85" y1="1330.86" x2="506.85" y2="1314.36" stroke="#000" stroke-width="1.2" stroke-linecap="butt"/>
<line x1="502.85" y1="1330.86" x2="510.85" y2="1330.86" stroke="#000" stroke-width="1.2" stroke-linecap="butt"/>
<line x1="502.85" y1="1314.36" x2="510.85" y2="1314.36" stroke="#000" stroke-width="1.2" stroke-linecap="butt"/>
<rect x="523.80" y="1296.30" width="15.50" height="43.20" fill="none" stroke="#000" stroke-width="1.3"/>
<line x1="531.55" y1="1308.08" x2="531.55" y2="1284.52" stroke="#000" stroke-width="1.2" stroke-linecap="butt"/>
<line x1="527.55" y1="1308.08" x2="535.55" y2="1308.08" stroke="#000" stroke-width="1.2" stroke-linecap="butt"/>
<line x1="527.55" y1="1284.52" x2="535.55" y2="1284.52" stroke="#000" stroke-width="1.2" stroke-linecap="butt"/>
<line x1="359.60" y1="1181.75" x2="359.60" y2="1340.15" stroke="#000" stroke-width="1.3" stroke-linecap="butt"/>
<line x1="356.10" y1="1339.50" x2="359.60" y2="1339.50" stroke="#000" stroke-width="1.3" stroke-linecap="butt"/>
<text x="354.60" y="1342.20" font-size="7.5" text-anchor="end" fill="#000">0</text>
<line x1="356.10" y1="1308.08" x2="359.60" y2="1308.08" stroke="#000" stroke-width="1.3" stroke-linecap="butt"/>
<text x="354.60" y="1310.78" font-size="7.5" text-anchor="end" fill="#000">20</text>
<line x1="356.10" y1="1276.66" x2="359.60" y2="1276.66" stroke="#000" stroke-width="1.3" stroke-linecap="butt"/>
<text x="354.60" y="1279.36" font-size="7.5" text-anchor="end" fill="#000">40</text>
<line x1="356.10" y1="1245.24" x2="359.60" y2="1245.24" stroke="#000" stroke-width="1.3" stroke-linecap="butt"/>
<text x="354.60" y="1247.94" font-size="7.5" text-anchor="end" fill="#000">60</text>
<line x1="356.10" y1="1213.82" x2="359.60" y2="1213.82" stroke="#000" stroke-width="1.3" stroke-linecap="butt"/>
<text x="354.60" y="1216.52" font-size="7.5" text-anchor="end" fill="#000">80</text>
<line x1="356.10" y1="1182.40" x2="359.60" y2="1182.40" stroke="#000" stroke-width="1.3" stroke-linecap="butt"/>
<text x="354.60" y="1185.10" font-size="7.5" text-anchor="end" fill="#000">100</text>
<line x1="358.95" y1="1339.50" x2="548.80" y2="1339.50" stroke="#000" stroke-width="1.3" stroke-linecap="butt"/>
<circle cx="375.95" cy="1207.54" r="2.3" fill="#f00000" stroke="#000" stroke-width="0.7"/>
<circle cx="375.95" cy="1216.18" r="2.3" fill="#f00000" stroke="#000" stroke-width="0.7"/>
<circle cx="375.95" cy="1254.67" r="2.3" fill="#f00000" stroke="#000" stroke-width="0.7"/>
<path d="M400.65 1198.35L403.55 1201.25L400.65 1204.15L397.75 1201.25Z" fill="#0000b4" stroke="#000" stroke-width="0.7"/>
<path d="M400.65 1208.56L403.55 1211.46L400.65 1214.36L397.75 1211.46Z" fill="#0000b4" stroke="#000" stroke-width="0.7"/>
<path d="M400.65 1225.84L403.55 1228.74L400.65 1231.64L397.75 1228.74Z" fill="#0000b4" stroke="#000" stroke-width="0.7"/>
<circle cx="441.65" cy="1275.09" r="2.3" fill="#f00000" stroke="#000" stroke-width="0.7"/>
<circle cx="441.65" cy="1284.52" r="2.3" fill="#f00000" stroke="#000" stroke-width="0.7"/>
<circle cx="441.35" cy="1312.79" r="2.3" fill="#f00000" stroke="#000" stroke-width="0.7"/>
<path d="M461.25 1246.27L464.15 1249.17L461.25 1252.07L458.35 1249.17Z" fill="#0000b4" stroke="#000" stroke-width="0.7"/>
<path d="M471.75 1247.84L474.65 1250.74L471.75 1253.64L468.85 1250.74Z" fill="#0000b4" stroke="#000" stroke-width="0.7"/>
<path d="M466.25 1260.41L469.15 1263.31L466.25 1266.21L463.35 1263.31Z" fill="#0000b4" stroke="#000" stroke-width="0.7"/>
<circle cx="506.85" cy="1314.36" r="2.3" fill="#f00000" stroke="#000" stroke-width="0.7"/>
<circle cx="506.85" cy="1323.00" r="2.3" fill="#f00000" stroke="#000" stroke-width="0.7"/>
<circle cx="506.85" cy="1330.86" r="2.3" fill="#f00000" stroke="#000" stroke-width="0.7"/>
<path d="M531.55 1280.04L534.45 1282.94L531.55 1285.84L528.65 1282.94Z" fill="#0000b4" stroke="#000" stroke-width="0.7"/>
<path d="M526.05 1301.25L528.95 1304.15L526.05 1307.05L523.15 1304.15Z" fill="#0000b4" stroke="#000" stroke-width="0.7"/>
<path d="M537.05 1298.11L539.95 1301.01L537.05 1303.91L534.15 1301.01Z" fill="#0000b4" stroke="#000" stroke-width="0.7"/>
<line x1="388.30" y1="1339.50" x2="388.30" y2="1343.00" stroke="#000" stroke-width="1.3" stroke-linecap="butt"/>
<text x="389.80" y="1353.50" font-size="7.4" text-anchor="middle" fill="#000" transform="rotate(-45 389.80 1353.50)">12</text>
<line x1="454.00" y1="1339.50" x2="454.00" y2="1343.00" stroke="#000" stroke-width="1.3" stroke-linecap="butt"/>
<text x="455.50" y="1353.50" font-size="7.4" text-anchor="middle" fill="#000" transform="rotate(-45 455.50 1353.50)">18</text>
<line x1="519.20" y1="1339.50" x2="519.20" y2="1343.00" stroke="#000" stroke-width="1.3" stroke-linecap="butt"/>
<text x="520.70" y="1353.50" font-size="7.4" text-anchor="middle" fill="#000" transform="rotate(-45 520.70 1353.50)">24</text>
<line x1="376.20" y1="1188.80" x2="400.80" y2="1188.80" stroke="#000" stroke-width="1.0" stroke-linecap="butt"/>
<text x="388.70" y="1185.00" font-size="8.6" text-anchor="middle" fill="#000">N.S.</text>
<line x1="444.10" y1="1234.70" x2="466.90" y2="1234.70" stroke="#000" stroke-width="1.0" stroke-linecap="butt"/>
<text x="455.50" y="1230.50" font-size="9.5" text-anchor="middle" fill="#000">*</text>
<line x1="507.10" y1="1270.00" x2="530.60" y2="1270.00" stroke="#000" stroke-width="1.0" stroke-linecap="butt"/>
<text x="518.50" y="1266.00" font-size="9.5" text-anchor="middle" fill="#000">*</text>
<text x="337.70" y="1260.80" font-size="8.6" text-anchor="middle" fill="#000" transform="rotate(-90 337.70 1260.80)">Survival (%)</text>
<text x="453.60" y="1370.50" font-size="8.7" text-anchor="middle" fill="#000">Time after heat shock stress (Hours)</text>
</svg>
</body></html>
